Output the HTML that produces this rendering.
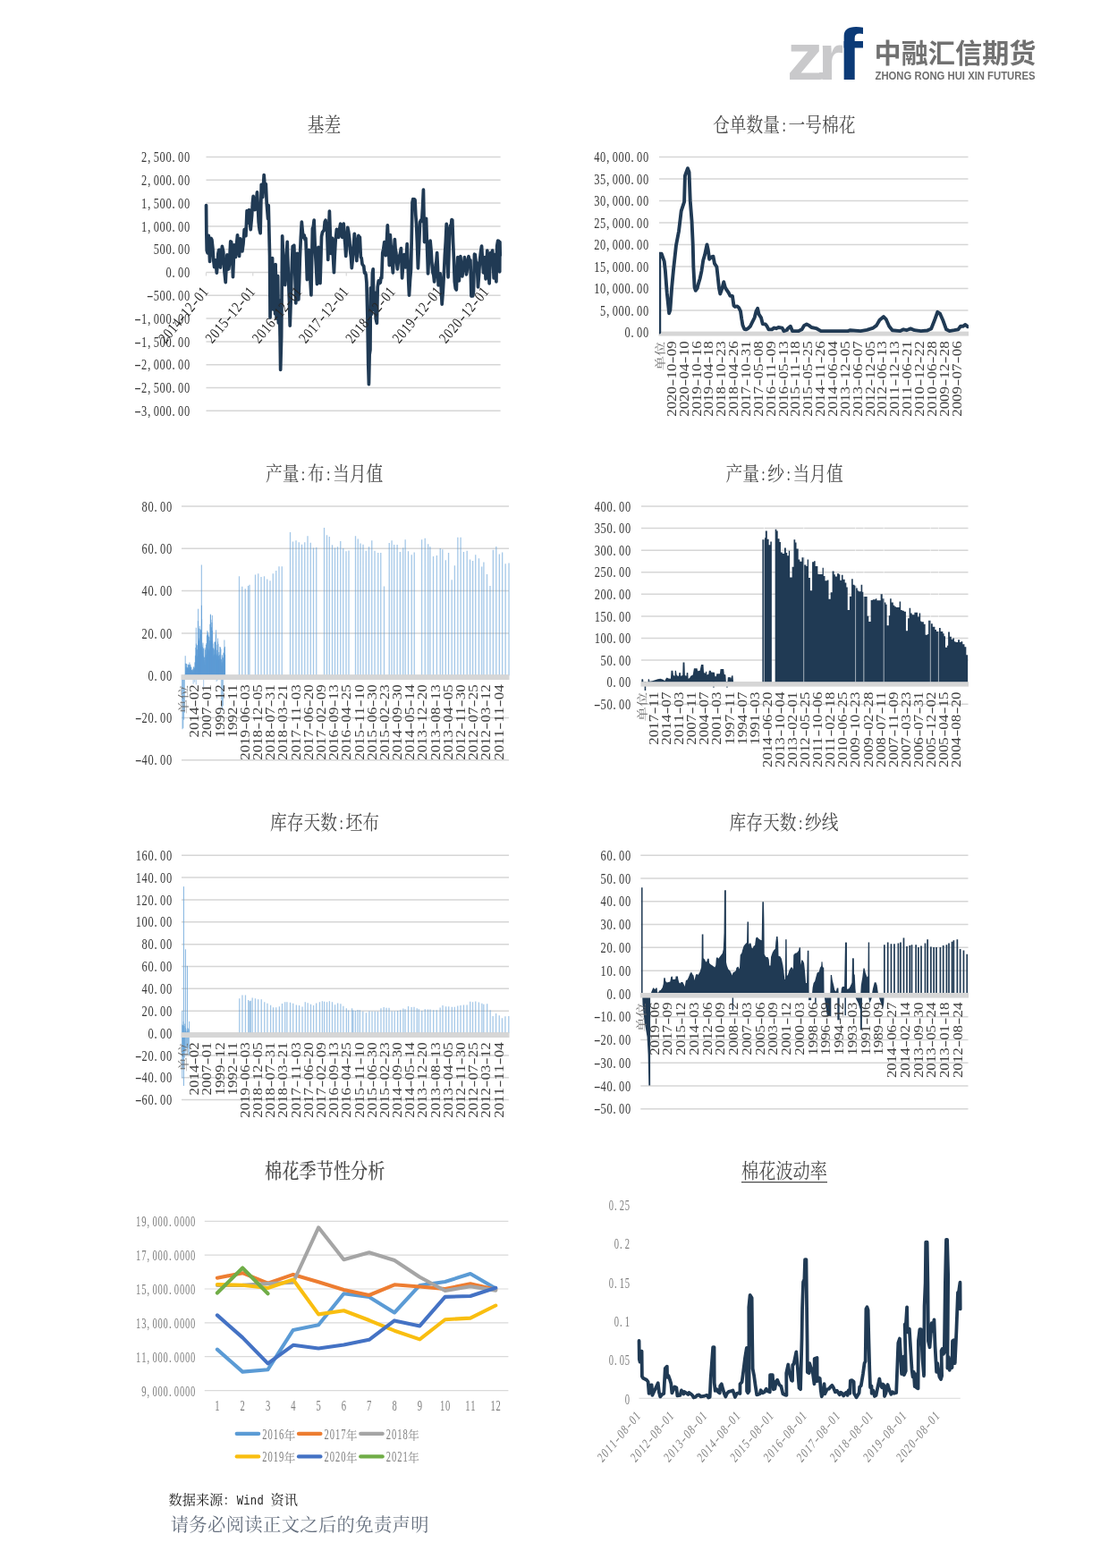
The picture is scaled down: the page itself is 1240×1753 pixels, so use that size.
<!DOCTYPE html>
<html lang="zh-CN">
<head>
<meta charset="utf-8">
<title>中融汇信期货</title>
<style>
html,body{margin:0;padding:0;background:#fff;}
body{width:1240px;height:1753px;overflow:hidden;}
svg{display:block;}
text{white-space:pre;}
.m{text-anchor:middle;font-family:"Liberation Serif","Noto Serif CJK SC",serif;}
</style>
</head>
<body>
<svg width="1240" height="1753" viewBox="0 0 1240 1753">
<rect width="1240" height="1753" fill="#ffffff"/>
<g id="logo">
<clipPath id="cpf"><rect x="943.4" y="20" width="40" height="80"/></clipPath>
<text transform="translate(879.8 88.7) scale(1.11 1)" font-family='"Liberation Sans",sans-serif' font-weight="bold" font-size="73.8" fill="#c9c9cb">z</text>
<rect x="916" y="80.9" width="6" height="7.8" fill="#c9c9cb"/>
<text transform="translate(915.1 88.7)" font-family='"Liberation Sans",sans-serif' font-weight="bold" font-size="72.4" fill="#c9c9cb">r</text>
<g clip-path="url(#cpf)"><text transform="translate(935 88.7) scale(1.11 1)" font-family='"Liberation Sans",sans-serif' font-weight="bold" font-size="80.7" fill="#0b3a77">f</text></g>
<text x="977.5" y="69.6" font-family='"Liberation Sans","Noto Sans CJK SC",sans-serif' font-weight="bold" font-size="30" fill="#717171" textLength="181" lengthAdjust="spacingAndGlyphs">中融汇信期货</text>
<text x="978.5" y="88.6" font-family='"Liberation Sans",sans-serif' font-weight="bold" font-size="12.6" fill="#6f6f6f" textLength="179" lengthAdjust="spacingAndGlyphs">ZHONG RONG HUI XIN FUTURES</text>
</g>
<g id="c1">
<text transform="translate(362.5 139) scale(1 1.17) translate(0 6.75)" x="-9.38 9.38" class="m" font-size="18.75" fill="#4a4a4a">基差</text>
<line x1="230.5" y1="175.5" x2="559.6" y2="175.5" stroke="#d6d6d6" stroke-width="1.5"/>
<line x1="230.5" y1="201.3" x2="559.6" y2="201.3" stroke="#d6d6d6" stroke-width="1.5"/>
<line x1="230.5" y1="227.1" x2="559.6" y2="227.1" stroke="#d6d6d6" stroke-width="1.5"/>
<line x1="230.5" y1="252.9" x2="559.6" y2="252.9" stroke="#d6d6d6" stroke-width="1.5"/>
<line x1="230.5" y1="278.7" x2="559.6" y2="278.7" stroke="#d6d6d6" stroke-width="1.5"/>
<line x1="230.5" y1="304.5" x2="559.6" y2="304.5" stroke="#d6d6d6" stroke-width="1.5"/>
<line x1="230.5" y1="330.3" x2="559.6" y2="330.3" stroke="#d6d6d6" stroke-width="1.5"/>
<line x1="230.5" y1="356.1" x2="559.6" y2="356.1" stroke="#d6d6d6" stroke-width="1.5"/>
<line x1="230.5" y1="381.9" x2="559.6" y2="381.9" stroke="#d6d6d6" stroke-width="1.5"/>
<line x1="230.5" y1="407.7" x2="559.6" y2="407.7" stroke="#d6d6d6" stroke-width="1.5"/>
<line x1="230.5" y1="433.5" x2="559.6" y2="433.5" stroke="#d6d6d6" stroke-width="1.5"/>
<line x1="230.5" y1="459.3" x2="559.6" y2="459.3" stroke="#d6d6d6" stroke-width="1.5"/>
<text transform="translate(212.5 181.1) scale(0.72 1)" x="-71.35 -63.55 -52.33 -42.81 -33.3 -25.5 -14.27 -4.76" class="m" font-size="17.3" fill="#383838">2,500.00</text>
<text transform="translate(212.5 206.9) scale(0.72 1)" x="-71.35 -63.55 -52.33 -42.81 -33.3 -25.5 -14.27 -4.76" class="m" font-size="17.3" fill="#383838">2,000.00</text>
<text transform="translate(212.5 232.7) scale(0.72 1)" x="-71.35 -63.55 -52.33 -42.81 -33.3 -25.5 -14.27 -4.76" class="m" font-size="17.3" fill="#383838">1,500.00</text>
<text transform="translate(212.5 258.5) scale(0.72 1)" x="-71.35 -63.55 -52.33 -42.81 -33.3 -25.5 -14.27 -4.76" class="m" font-size="17.3" fill="#383838">1,000.00</text>
<text transform="translate(212.5 284.3) scale(0.72 1)" x="-52.33 -42.81 -33.3 -25.5 -14.27 -4.76" class="m" font-size="17.3" fill="#383838">500.00</text>
<text transform="translate(212.5 310.1) scale(0.72 1)" x="-33.3 -25.5 -14.27 -4.76" class="m" font-size="17.3" fill="#383838">0.00</text>
<text transform="translate(212.5 335.9) scale(1.3 1)" x="-34.36" class="m" font-size="17.3" fill="#383838">-</text><text transform="translate(212.5 335.9) scale(0.72 1)" x="-52.33 -42.81 -33.3 -25.5 -14.27 -4.76" class="m" font-size="17.3" fill="#383838">500.00</text>
<text transform="translate(212.5 361.7) scale(1.3 1)" x="-44.93" class="m" font-size="17.3" fill="#383838">-</text><text transform="translate(212.5 361.7) scale(0.72 1)" x="-71.35 -63.55 -52.33 -42.81 -33.3 -25.5 -14.27 -4.76" class="m" font-size="17.3" fill="#383838">1,000.00</text>
<text transform="translate(212.5 387.5) scale(1.3 1)" x="-44.93" class="m" font-size="17.3" fill="#383838">-</text><text transform="translate(212.5 387.5) scale(0.72 1)" x="-71.35 -63.55 -52.33 -42.81 -33.3 -25.5 -14.27 -4.76" class="m" font-size="17.3" fill="#383838">1,500.00</text>
<text transform="translate(212.5 413.3) scale(1.3 1)" x="-44.93" class="m" font-size="17.3" fill="#383838">-</text><text transform="translate(212.5 413.3) scale(0.72 1)" x="-71.35 -63.55 -52.33 -42.81 -33.3 -25.5 -14.27 -4.76" class="m" font-size="17.3" fill="#383838">2,000.00</text>
<text transform="translate(212.5 439.1) scale(1.3 1)" x="-44.93" class="m" font-size="17.3" fill="#383838">-</text><text transform="translate(212.5 439.1) scale(0.72 1)" x="-71.35 -63.55 -52.33 -42.81 -33.3 -25.5 -14.27 -4.76" class="m" font-size="17.3" fill="#383838">2,500.00</text>
<text transform="translate(212.5 464.9) scale(1.3 1)" x="-44.93" class="m" font-size="17.3" fill="#383838">-</text><text transform="translate(212.5 464.9) scale(0.72 1)" x="-71.35 -63.55 -52.33 -42.81 -33.3 -25.5 -14.27 -4.76" class="m" font-size="17.3" fill="#383838">3,000.00</text>
<line x1="230.5" y1="304.5" x2="230.5" y2="308.5" stroke="#d9d9d9" stroke-width="1.2"/>
<line x1="282.75" y1="304.5" x2="282.75" y2="308.5" stroke="#d9d9d9" stroke-width="1.2"/>
<line x1="335" y1="304.5" x2="335" y2="308.5" stroke="#d9d9d9" stroke-width="1.2"/>
<line x1="387.25" y1="304.5" x2="387.25" y2="308.5" stroke="#d9d9d9" stroke-width="1.2"/>
<line x1="439.5" y1="304.5" x2="439.5" y2="308.5" stroke="#d9d9d9" stroke-width="1.2"/>
<line x1="491.75" y1="304.5" x2="491.75" y2="308.5" stroke="#d9d9d9" stroke-width="1.2"/>
<line x1="544" y1="304.5" x2="544" y2="308.5" stroke="#d9d9d9" stroke-width="1.2"/>
<polyline points="230.54,229.48 230.85,260.73 231.25,279.88 232.06,282.78 232.86,281.39 233.27,263.25 234.58,292.48 235.38,269.29 236.14,266.44 236.9,268.29 237.9,277.36 238.76,291 239.62,298.53 240.37,292.57 241.13,290.97 242.34,305.08 243.09,296.75 243.85,283.91 244.76,279.24 245.67,279.38 246.47,299.03 247.43,288.82 248.39,275.34 249.7,281.39 251.01,304.07 252.22,315.67 253.07,298.03 253.93,284.92 254.94,301.05 255.7,300.77 256.45,295.5 257.76,269.8 258.62,270.52 259.48,276.85 260.48,309.62 261.9,273.83 262.7,282.1 263.51,287.44 264.52,273.23 265.52,262.74 266.53,276.04 267.54,286.43 268.55,266.77 269.32,268.64 270.09,278.79 270.87,280.89 271.98,272.82 273.19,256.69 274.04,258.86 274.9,263.75 276.11,235.52 277.42,249.13 278.53,234.52 279.39,248.77 280.24,256.69 281.65,240.56 282.41,226.85 283.17,219.4 284.17,229.49 285.18,234.52 285.95,225.5 286.73,222.99 287.5,214.86 288.36,230.44 289.21,248.63 290.17,256.97 291.13,260.73 292.24,206.29 292.99,211.95 293.75,220.4 295.16,195.71 296.27,210.32 297.28,205.79 298.29,228.47 299.6,244.6 300.2,229.48 301.55,285.48 302.06,355.04 302.86,295.56 303.67,340.93 304.58,288.51 305.38,345.97 306.09,343.95 306.9,297.58 307.6,351.01 308.1,295.56 309.11,356.05 310.12,310.69 310.62,308.67 311.33,361.09 312.34,335.89 313.15,376.21 313.65,413.51 314.66,376.21 315.67,263.81 316.42,281.33 317.18,295.56 317.93,305.41 318.69,318.75 319.53,303.96 320.37,284.32 321.21,270.36 321.97,295.17 322.72,315.73 323.48,337.02 324.23,364.11 324.99,342.2 325.75,315.73 326.5,293.06 327.26,275.4 328.01,277.14 328.77,274.4 329.78,304.1 330.79,338.91 331.54,313.35 332.3,283.47 333.05,307.36 333.81,334.88 334.57,315.39 335.32,289.52 336.33,265.66 337.34,248.19 338.35,259.65 339.35,265.32 340.19,263.02 341.03,267.88 341.88,266.33 342.63,287.8 343.39,312.7 344.4,297.9 345.4,279.44 346.24,294.82 347.08,315.79 347.92,329.84 348.68,290.49 349.44,255.24 350.29,253.61 351.15,246.17 352.46,281.45 353.47,297.57 354.48,317.74 355.23,300.2 355.99,276.41 357,293.67 358,316.73 358.76,291.81 359.52,264.31 360.52,259.61 361.53,258.27 362.37,257.26 363.21,248.02 364.05,246.17 364.81,253.87 365.56,255.24 366.77,290.52 367.58,261.26 368.39,236.09 369.24,261.2 370.1,283.47 370.86,272.41 371.61,266.33 372.52,288.26 373.43,304.64 374.28,285.2 375.14,269.35 376.45,256.25 377.56,262.23 378.67,265.32 379.68,255.84 380.69,250.2 381.69,260.89 382.7,265.32 383.46,255.03 384.21,250.2 385.05,263.8 385.89,272.64 386.73,286.49 387.74,271.84 388.75,254.23 389.76,259.39 390.77,267.34 391.61,280.9 392.45,287.22 393.29,299.6 394.04,292.37 394.8,278.3 395.55,272.51 396.31,261.29 397.15,268.69 397.99,282.98 398.83,291.53 399.84,274.9 400.85,263.31 401.6,265.82 402.36,265.32 403.37,287.5 404.21,288.44 405.05,295.24 405.89,296.57 406.73,297.46 407.57,305.09 408.41,304.64 409.16,307.36 409.92,315.73 410.93,356.05 411.73,406.45 412.44,429.64 413.15,396.37 413.95,391.33 414.46,321.77 415.46,345.97 415.67,351.21 416.37,305.85 417.18,300.81 417.98,346.17 419.19,327.02 420.2,356.25 421.41,361.29 422.22,320.97 423.23,313.91 424.23,316.78 425.24,315.93 426,310.43 426.75,310.89 427.76,282.66 428.77,278.3 429.78,270.56 430.53,276.09 431.29,285.69 432.3,271.72 433.31,251.92 434.31,271.83 435.32,296.77 436.33,262.5 437.09,274.56 437.84,280.49 438.6,295.94 439.35,304.84 440.36,284.41 441.37,267.54 442.13,278.62 442.88,282.26 443.64,294.34 444.4,300.81 445.4,292.33 446.41,286.69 447.42,283.61 448.43,277.62 449.64,310.89 450.41,299.75 451.18,295.16 451.96,284.68 452.71,289.3 453.47,298.79 454.32,287.68 455.18,272.58 455.95,289.58 456.73,314.01 457.5,330.04 458.51,313.21 459.52,300.81 460.27,265.89 461.03,226.21 461.78,222.64 462.54,226.58 463.3,222.74 464.05,223.69 464.81,240.07 465.56,250.4 466.47,272.25 467.38,299.8 468.49,275.85 469.6,248.39 470.6,246.24 471.61,247.38 472.52,232.44 473.43,212.1 474.54,270.56 475.54,254.37 476.55,244.35 477.56,276.76 478.57,305.85 479.41,290.48 480.25,284.29 481.09,269.05 482.1,280.47 483.1,296.77 483.94,304.91 484.78,307.39 485.62,314.92 486.38,308.21 487.14,295.66 487.89,292.46 488.65,282.66 489.41,298.17 490.16,318.95 491.17,314.17 492.18,305.85 493.19,320.12 494.19,340.12 495.3,325.41 496.41,305.85 497.35,285.52 498.29,270.5 499.23,250.4 500.14,277.48 501.05,309.88 501.91,284.58 502.76,256.45 503.52,252.09 504.27,253.51 505.03,245.6 505.79,245.87 506.63,271.34 507.47,290.08 508.31,314.92 509.31,322.5 510.32,323.99 511.08,304.18 511.83,287.7 512.59,302.12 513.35,313.91 514.1,298.51 514.86,286.69 515.87,299.92 516.88,308.87 517.72,300.42 518.56,296.38 519.4,287.7 520.4,295.29 521.41,306.85 522.25,302.51 523.09,291.88 523.93,286.69 524.94,290.68 525.95,290.73 526.96,331.05 527.8,326.38 528.64,330.85 529.48,326.01 530.48,284.17 531.32,284.82 532.16,293.16 533,293.75 533.76,304.96 534.52,320.97 535.52,307.4 536.53,290.73 537.54,281.57 538.55,275.1 539.56,291.28 540.56,304.84 541.32,293.24 542.08,287.7 543.08,311.9 543.94,298.64 544.8,280.14 545.57,289.28 546.34,305.99 547.12,316.94 547.87,297.3 548.63,282.66 549.64,283.61 550.65,280.14 551.4,292.83 552.16,310.89 553.17,284.68 554.02,301.69 554.88,314.92 555.69,275.1 556.69,269.13 557.7,269.56 558.71,303.83 558.91,270.56 559.21,285.69" fill="none" stroke="#203a54" stroke-width="3.7" stroke-linejoin="round" stroke-linecap="round" />
<text transform="translate(234 326.5) scale(1 1) rotate(-50) translate(0 0) scale(0.8 1)" x="-90.84 -81.28 -71.72 -62.16" class="m" font-size="17" fill="#262626">2014</text><text transform="translate(234 326.5) scale(1 1) rotate(-50) translate(0 0) scale(1.16 1)" x="-36.27" class="m" font-size="17" fill="#262626">-</text><text transform="translate(234 326.5) scale(1 1) rotate(-50) translate(0 0) scale(0.8 1)" x="-43.03 -33.47" class="m" font-size="17" fill="#262626">12</text><text transform="translate(234 326.5) scale(1 1) rotate(-50) translate(0 0) scale(1.16 1)" x="-16.49" class="m" font-size="17" fill="#262626">-</text><text transform="translate(234 326.5) scale(1 1) rotate(-50) translate(0 0) scale(0.8 1)" x="-14.34 -4.78" class="m" font-size="17" fill="#262626">01</text>
<text transform="translate(286.25 326.5) scale(1 1) rotate(-50) translate(0 0) scale(0.8 1)" x="-90.84 -81.28 -71.72 -62.16" class="m" font-size="17" fill="#262626">2015</text><text transform="translate(286.25 326.5) scale(1 1) rotate(-50) translate(0 0) scale(1.16 1)" x="-36.27" class="m" font-size="17" fill="#262626">-</text><text transform="translate(286.25 326.5) scale(1 1) rotate(-50) translate(0 0) scale(0.8 1)" x="-43.03 -33.47" class="m" font-size="17" fill="#262626">12</text><text transform="translate(286.25 326.5) scale(1 1) rotate(-50) translate(0 0) scale(1.16 1)" x="-16.49" class="m" font-size="17" fill="#262626">-</text><text transform="translate(286.25 326.5) scale(1 1) rotate(-50) translate(0 0) scale(0.8 1)" x="-14.34 -4.78" class="m" font-size="17" fill="#262626">01</text>
<text transform="translate(338.5 326.5) scale(1 1) rotate(-50) translate(0 0) scale(0.8 1)" x="-90.84 -81.28 -71.72 -62.16" class="m" font-size="17" fill="#262626">2016</text><text transform="translate(338.5 326.5) scale(1 1) rotate(-50) translate(0 0) scale(1.16 1)" x="-36.27" class="m" font-size="17" fill="#262626">-</text><text transform="translate(338.5 326.5) scale(1 1) rotate(-50) translate(0 0) scale(0.8 1)" x="-43.03 -33.47" class="m" font-size="17" fill="#262626">12</text><text transform="translate(338.5 326.5) scale(1 1) rotate(-50) translate(0 0) scale(1.16 1)" x="-16.49" class="m" font-size="17" fill="#262626">-</text><text transform="translate(338.5 326.5) scale(1 1) rotate(-50) translate(0 0) scale(0.8 1)" x="-14.34 -4.78" class="m" font-size="17" fill="#262626">01</text>
<text transform="translate(390.75 326.5) scale(1 1) rotate(-50) translate(0 0) scale(0.8 1)" x="-90.84 -81.28 -71.72 -62.16" class="m" font-size="17" fill="#262626">2017</text><text transform="translate(390.75 326.5) scale(1 1) rotate(-50) translate(0 0) scale(1.16 1)" x="-36.27" class="m" font-size="17" fill="#262626">-</text><text transform="translate(390.75 326.5) scale(1 1) rotate(-50) translate(0 0) scale(0.8 1)" x="-43.03 -33.47" class="m" font-size="17" fill="#262626">12</text><text transform="translate(390.75 326.5) scale(1 1) rotate(-50) translate(0 0) scale(1.16 1)" x="-16.49" class="m" font-size="17" fill="#262626">-</text><text transform="translate(390.75 326.5) scale(1 1) rotate(-50) translate(0 0) scale(0.8 1)" x="-14.34 -4.78" class="m" font-size="17" fill="#262626">01</text>
<text transform="translate(443 326.5) scale(1 1) rotate(-50) translate(0 0) scale(0.8 1)" x="-90.84 -81.28 -71.72 -62.16" class="m" font-size="17" fill="#262626">2018</text><text transform="translate(443 326.5) scale(1 1) rotate(-50) translate(0 0) scale(1.16 1)" x="-36.27" class="m" font-size="17" fill="#262626">-</text><text transform="translate(443 326.5) scale(1 1) rotate(-50) translate(0 0) scale(0.8 1)" x="-43.03 -33.47" class="m" font-size="17" fill="#262626">12</text><text transform="translate(443 326.5) scale(1 1) rotate(-50) translate(0 0) scale(1.16 1)" x="-16.49" class="m" font-size="17" fill="#262626">-</text><text transform="translate(443 326.5) scale(1 1) rotate(-50) translate(0 0) scale(0.8 1)" x="-14.34 -4.78" class="m" font-size="17" fill="#262626">01</text>
<text transform="translate(495.25 326.5) scale(1 1) rotate(-50) translate(0 0) scale(0.8 1)" x="-90.84 -81.28 -71.72 -62.16" class="m" font-size="17" fill="#262626">2019</text><text transform="translate(495.25 326.5) scale(1 1) rotate(-50) translate(0 0) scale(1.16 1)" x="-36.27" class="m" font-size="17" fill="#262626">-</text><text transform="translate(495.25 326.5) scale(1 1) rotate(-50) translate(0 0) scale(0.8 1)" x="-43.03 -33.47" class="m" font-size="17" fill="#262626">12</text><text transform="translate(495.25 326.5) scale(1 1) rotate(-50) translate(0 0) scale(1.16 1)" x="-16.49" class="m" font-size="17" fill="#262626">-</text><text transform="translate(495.25 326.5) scale(1 1) rotate(-50) translate(0 0) scale(0.8 1)" x="-14.34 -4.78" class="m" font-size="17" fill="#262626">01</text>
<text transform="translate(547.5 326.5) scale(1 1) rotate(-50) translate(0 0) scale(0.8 1)" x="-90.84 -81.28 -71.72 -62.16" class="m" font-size="17" fill="#262626">2020</text><text transform="translate(547.5 326.5) scale(1 1) rotate(-50) translate(0 0) scale(1.16 1)" x="-36.27" class="m" font-size="17" fill="#262626">-</text><text transform="translate(547.5 326.5) scale(1 1) rotate(-50) translate(0 0) scale(0.8 1)" x="-43.03 -33.47" class="m" font-size="17" fill="#262626">12</text><text transform="translate(547.5 326.5) scale(1 1) rotate(-50) translate(0 0) scale(1.16 1)" x="-16.49" class="m" font-size="17" fill="#262626">-</text><text transform="translate(547.5 326.5) scale(1 1) rotate(-50) translate(0 0) scale(0.8 1)" x="-14.34 -4.78" class="m" font-size="17" fill="#262626">01</text>
</g>
<g id="c2">
<text transform="translate(876.75 139) scale(1 1.17) translate(0 6.75)" x="-70.31 -51.56 -32.81 -14.06" class="m" font-size="18.75" fill="#4a4a4a">仓单数量</text><text transform="translate(876.75 139) scale(1 1.17) translate(0 6.75) scale(0.85 1)" x="0" class="m" font-size="18.75" fill="#4a4a4a">:</text><text transform="translate(876.75 139) scale(1 1.17) translate(0 6.75)" x="14.06 32.81 51.56 70.31" class="m" font-size="18.75" fill="#4a4a4a">一号棉花</text>
<line x1="737" y1="175.5" x2="1082.5" y2="175.5" stroke="#d6d6d6" stroke-width="1.5"/>
<line x1="737" y1="200" x2="1082.5" y2="200" stroke="#d6d6d6" stroke-width="1.5"/>
<line x1="737" y1="224.5" x2="1082.5" y2="224.5" stroke="#d6d6d6" stroke-width="1.5"/>
<line x1="737" y1="249" x2="1082.5" y2="249" stroke="#d6d6d6" stroke-width="1.5"/>
<line x1="737" y1="273.5" x2="1082.5" y2="273.5" stroke="#d6d6d6" stroke-width="1.5"/>
<line x1="737" y1="298" x2="1082.5" y2="298" stroke="#d6d6d6" stroke-width="1.5"/>
<line x1="737" y1="322.5" x2="1082.5" y2="322.5" stroke="#d6d6d6" stroke-width="1.5"/>
<line x1="737" y1="347" x2="1082.5" y2="347" stroke="#d6d6d6" stroke-width="1.5"/>
<text transform="translate(725.5 181.1) scale(0.72 1)" x="-80.87 -71.35 -63.55 -52.33 -42.81 -33.3 -25.5 -14.27 -4.76" class="m" font-size="17.3" fill="#383838">40,000.00</text>
<text transform="translate(725.5 205.6) scale(0.72 1)" x="-80.87 -71.35 -63.55 -52.33 -42.81 -33.3 -25.5 -14.27 -4.76" class="m" font-size="17.3" fill="#383838">35,000.00</text>
<text transform="translate(725.5 230.1) scale(0.72 1)" x="-80.87 -71.35 -63.55 -52.33 -42.81 -33.3 -25.5 -14.27 -4.76" class="m" font-size="17.3" fill="#383838">30,000.00</text>
<text transform="translate(725.5 254.6) scale(0.72 1)" x="-80.87 -71.35 -63.55 -52.33 -42.81 -33.3 -25.5 -14.27 -4.76" class="m" font-size="17.3" fill="#383838">25,000.00</text>
<text transform="translate(725.5 279.1) scale(0.72 1)" x="-80.87 -71.35 -63.55 -52.33 -42.81 -33.3 -25.5 -14.27 -4.76" class="m" font-size="17.3" fill="#383838">20,000.00</text>
<text transform="translate(725.5 303.6) scale(0.72 1)" x="-80.87 -71.35 -63.55 -52.33 -42.81 -33.3 -25.5 -14.27 -4.76" class="m" font-size="17.3" fill="#383838">15,000.00</text>
<text transform="translate(725.5 328.1) scale(0.72 1)" x="-80.87 -71.35 -63.55 -52.33 -42.81 -33.3 -25.5 -14.27 -4.76" class="m" font-size="17.3" fill="#383838">10,000.00</text>
<text transform="translate(725.5 352.6) scale(0.72 1)" x="-71.35 -63.55 -52.33 -42.81 -33.3 -25.5 -14.27 -4.76" class="m" font-size="17.3" fill="#383838">5,000.00</text>
<text transform="translate(725.5 377.1) scale(0.72 1)" x="-33.3 -25.5 -14.27 -4.76" class="m" font-size="17.3" fill="#383838">0.00</text>
<rect x="736.5" y="370.6" width="346.5" height="5" fill="#d6d6d6"/>
<text transform="translate(743.11 381.8) rotate(-90) scale(1.3 1)" font-size="12.4" fill="#6b6b6b" text-anchor="end" font-family='"Liberation Serif","Noto Serif CJK SC",serif'>单位</text>
<text transform="translate(755.79 381.3) rotate(-90) translate(0 0) scale(1.19 1)" x="-67.45 -60.35 -53.25 -46.15" class="m" font-size="14.2" fill="#3d3d3d">2020</text><text transform="translate(755.79 381.3) rotate(-90) translate(0 0) scale(1.72 1)" x="-26.93" class="m" font-size="14.2" fill="#3d3d3d">-</text><text transform="translate(755.79 381.3) rotate(-90) translate(0 0) scale(1.19 1)" x="-31.95 -24.85" class="m" font-size="14.2" fill="#3d3d3d">10</text><text transform="translate(755.79 381.3) rotate(-90) translate(0 0) scale(1.72 1)" x="-12.24" class="m" font-size="14.2" fill="#3d3d3d">-</text><text transform="translate(755.79 381.3) rotate(-90) translate(0 0) scale(1.19 1)" x="-10.65 -3.55" class="m" font-size="14.2" fill="#3d3d3d">09</text>
<text transform="translate(769.65 381.3) rotate(-90) translate(0 0) scale(1.19 1)" x="-67.45 -60.35 -53.25 -46.15" class="m" font-size="14.2" fill="#3d3d3d">2020</text><text transform="translate(769.65 381.3) rotate(-90) translate(0 0) scale(1.72 1)" x="-26.93" class="m" font-size="14.2" fill="#3d3d3d">-</text><text transform="translate(769.65 381.3) rotate(-90) translate(0 0) scale(1.19 1)" x="-31.95 -24.85" class="m" font-size="14.2" fill="#3d3d3d">04</text><text transform="translate(769.65 381.3) rotate(-90) translate(0 0) scale(1.72 1)" x="-12.24" class="m" font-size="14.2" fill="#3d3d3d">-</text><text transform="translate(769.65 381.3) rotate(-90) translate(0 0) scale(1.19 1)" x="-10.65 -3.55" class="m" font-size="14.2" fill="#3d3d3d">10</text>
<text transform="translate(783.52 381.3) rotate(-90) translate(0 0) scale(1.19 1)" x="-67.45 -60.35 -53.25 -46.15" class="m" font-size="14.2" fill="#3d3d3d">2019</text><text transform="translate(783.52 381.3) rotate(-90) translate(0 0) scale(1.72 1)" x="-26.93" class="m" font-size="14.2" fill="#3d3d3d">-</text><text transform="translate(783.52 381.3) rotate(-90) translate(0 0) scale(1.19 1)" x="-31.95 -24.85" class="m" font-size="14.2" fill="#3d3d3d">10</text><text transform="translate(783.52 381.3) rotate(-90) translate(0 0) scale(1.72 1)" x="-12.24" class="m" font-size="14.2" fill="#3d3d3d">-</text><text transform="translate(783.52 381.3) rotate(-90) translate(0 0) scale(1.19 1)" x="-10.65 -3.55" class="m" font-size="14.2" fill="#3d3d3d">16</text>
<text transform="translate(797.38 381.3) rotate(-90) translate(0 0) scale(1.19 1)" x="-67.45 -60.35 -53.25 -46.15" class="m" font-size="14.2" fill="#3d3d3d">2019</text><text transform="translate(797.38 381.3) rotate(-90) translate(0 0) scale(1.72 1)" x="-26.93" class="m" font-size="14.2" fill="#3d3d3d">-</text><text transform="translate(797.38 381.3) rotate(-90) translate(0 0) scale(1.19 1)" x="-31.95 -24.85" class="m" font-size="14.2" fill="#3d3d3d">04</text><text transform="translate(797.38 381.3) rotate(-90) translate(0 0) scale(1.72 1)" x="-12.24" class="m" font-size="14.2" fill="#3d3d3d">-</text><text transform="translate(797.38 381.3) rotate(-90) translate(0 0) scale(1.19 1)" x="-10.65 -3.55" class="m" font-size="14.2" fill="#3d3d3d">18</text>
<text transform="translate(811.25 381.3) rotate(-90) translate(0 0) scale(1.19 1)" x="-67.45 -60.35 -53.25 -46.15" class="m" font-size="14.2" fill="#3d3d3d">2018</text><text transform="translate(811.25 381.3) rotate(-90) translate(0 0) scale(1.72 1)" x="-26.93" class="m" font-size="14.2" fill="#3d3d3d">-</text><text transform="translate(811.25 381.3) rotate(-90) translate(0 0) scale(1.19 1)" x="-31.95 -24.85" class="m" font-size="14.2" fill="#3d3d3d">10</text><text transform="translate(811.25 381.3) rotate(-90) translate(0 0) scale(1.72 1)" x="-12.24" class="m" font-size="14.2" fill="#3d3d3d">-</text><text transform="translate(811.25 381.3) rotate(-90) translate(0 0) scale(1.19 1)" x="-10.65 -3.55" class="m" font-size="14.2" fill="#3d3d3d">23</text>
<text transform="translate(825.11 381.3) rotate(-90) translate(0 0) scale(1.19 1)" x="-67.45 -60.35 -53.25 -46.15" class="m" font-size="14.2" fill="#3d3d3d">2018</text><text transform="translate(825.11 381.3) rotate(-90) translate(0 0) scale(1.72 1)" x="-26.93" class="m" font-size="14.2" fill="#3d3d3d">-</text><text transform="translate(825.11 381.3) rotate(-90) translate(0 0) scale(1.19 1)" x="-31.95 -24.85" class="m" font-size="14.2" fill="#3d3d3d">04</text><text transform="translate(825.11 381.3) rotate(-90) translate(0 0) scale(1.72 1)" x="-12.24" class="m" font-size="14.2" fill="#3d3d3d">-</text><text transform="translate(825.11 381.3) rotate(-90) translate(0 0) scale(1.19 1)" x="-10.65 -3.55" class="m" font-size="14.2" fill="#3d3d3d">26</text>
<text transform="translate(838.98 381.3) rotate(-90) translate(0 0) scale(1.19 1)" x="-67.45 -60.35 -53.25 -46.15" class="m" font-size="14.2" fill="#3d3d3d">2017</text><text transform="translate(838.98 381.3) rotate(-90) translate(0 0) scale(1.72 1)" x="-26.93" class="m" font-size="14.2" fill="#3d3d3d">-</text><text transform="translate(838.98 381.3) rotate(-90) translate(0 0) scale(1.19 1)" x="-31.95 -24.85" class="m" font-size="14.2" fill="#3d3d3d">10</text><text transform="translate(838.98 381.3) rotate(-90) translate(0 0) scale(1.72 1)" x="-12.24" class="m" font-size="14.2" fill="#3d3d3d">-</text><text transform="translate(838.98 381.3) rotate(-90) translate(0 0) scale(1.19 1)" x="-10.65 -3.55" class="m" font-size="14.2" fill="#3d3d3d">31</text>
<text transform="translate(852.84 381.3) rotate(-90) translate(0 0) scale(1.19 1)" x="-67.45 -60.35 -53.25 -46.15" class="m" font-size="14.2" fill="#3d3d3d">2017</text><text transform="translate(852.84 381.3) rotate(-90) translate(0 0) scale(1.72 1)" x="-26.93" class="m" font-size="14.2" fill="#3d3d3d">-</text><text transform="translate(852.84 381.3) rotate(-90) translate(0 0) scale(1.19 1)" x="-31.95 -24.85" class="m" font-size="14.2" fill="#3d3d3d">05</text><text transform="translate(852.84 381.3) rotate(-90) translate(0 0) scale(1.72 1)" x="-12.24" class="m" font-size="14.2" fill="#3d3d3d">-</text><text transform="translate(852.84 381.3) rotate(-90) translate(0 0) scale(1.19 1)" x="-10.65 -3.55" class="m" font-size="14.2" fill="#3d3d3d">08</text>
<text transform="translate(866.71 381.3) rotate(-90) translate(0 0) scale(1.19 1)" x="-67.45 -60.35 -53.25 -46.15" class="m" font-size="14.2" fill="#3d3d3d">2016</text><text transform="translate(866.71 381.3) rotate(-90) translate(0 0) scale(1.72 1)" x="-26.93" class="m" font-size="14.2" fill="#3d3d3d">-</text><text transform="translate(866.71 381.3) rotate(-90) translate(0 0) scale(1.19 1)" x="-31.95 -24.85" class="m" font-size="14.2" fill="#3d3d3d">11</text><text transform="translate(866.71 381.3) rotate(-90) translate(0 0) scale(1.72 1)" x="-12.24" class="m" font-size="14.2" fill="#3d3d3d">-</text><text transform="translate(866.71 381.3) rotate(-90) translate(0 0) scale(1.19 1)" x="-10.65 -3.55" class="m" font-size="14.2" fill="#3d3d3d">09</text>
<text transform="translate(880.57 381.3) rotate(-90) translate(0 0) scale(1.19 1)" x="-67.45 -60.35 -53.25 -46.15" class="m" font-size="14.2" fill="#3d3d3d">2016</text><text transform="translate(880.57 381.3) rotate(-90) translate(0 0) scale(1.72 1)" x="-26.93" class="m" font-size="14.2" fill="#3d3d3d">-</text><text transform="translate(880.57 381.3) rotate(-90) translate(0 0) scale(1.19 1)" x="-31.95 -24.85" class="m" font-size="14.2" fill="#3d3d3d">05</text><text transform="translate(880.57 381.3) rotate(-90) translate(0 0) scale(1.72 1)" x="-12.24" class="m" font-size="14.2" fill="#3d3d3d">-</text><text transform="translate(880.57 381.3) rotate(-90) translate(0 0) scale(1.19 1)" x="-10.65 -3.55" class="m" font-size="14.2" fill="#3d3d3d">13</text>
<text transform="translate(894.44 381.3) rotate(-90) translate(0 0) scale(1.19 1)" x="-67.45 -60.35 -53.25 -46.15" class="m" font-size="14.2" fill="#3d3d3d">2015</text><text transform="translate(894.44 381.3) rotate(-90) translate(0 0) scale(1.72 1)" x="-26.93" class="m" font-size="14.2" fill="#3d3d3d">-</text><text transform="translate(894.44 381.3) rotate(-90) translate(0 0) scale(1.19 1)" x="-31.95 -24.85" class="m" font-size="14.2" fill="#3d3d3d">11</text><text transform="translate(894.44 381.3) rotate(-90) translate(0 0) scale(1.72 1)" x="-12.24" class="m" font-size="14.2" fill="#3d3d3d">-</text><text transform="translate(894.44 381.3) rotate(-90) translate(0 0) scale(1.19 1)" x="-10.65 -3.55" class="m" font-size="14.2" fill="#3d3d3d">18</text>
<text transform="translate(908.3 381.3) rotate(-90) translate(0 0) scale(1.19 1)" x="-67.45 -60.35 -53.25 -46.15" class="m" font-size="14.2" fill="#3d3d3d">2015</text><text transform="translate(908.3 381.3) rotate(-90) translate(0 0) scale(1.72 1)" x="-26.93" class="m" font-size="14.2" fill="#3d3d3d">-</text><text transform="translate(908.3 381.3) rotate(-90) translate(0 0) scale(1.19 1)" x="-31.95 -24.85" class="m" font-size="14.2" fill="#3d3d3d">05</text><text transform="translate(908.3 381.3) rotate(-90) translate(0 0) scale(1.72 1)" x="-12.24" class="m" font-size="14.2" fill="#3d3d3d">-</text><text transform="translate(908.3 381.3) rotate(-90) translate(0 0) scale(1.19 1)" x="-10.65 -3.55" class="m" font-size="14.2" fill="#3d3d3d">25</text>
<text transform="translate(922.17 381.3) rotate(-90) translate(0 0) scale(1.19 1)" x="-67.45 -60.35 -53.25 -46.15" class="m" font-size="14.2" fill="#3d3d3d">2014</text><text transform="translate(922.17 381.3) rotate(-90) translate(0 0) scale(1.72 1)" x="-26.93" class="m" font-size="14.2" fill="#3d3d3d">-</text><text transform="translate(922.17 381.3) rotate(-90) translate(0 0) scale(1.19 1)" x="-31.95 -24.85" class="m" font-size="14.2" fill="#3d3d3d">11</text><text transform="translate(922.17 381.3) rotate(-90) translate(0 0) scale(1.72 1)" x="-12.24" class="m" font-size="14.2" fill="#3d3d3d">-</text><text transform="translate(922.17 381.3) rotate(-90) translate(0 0) scale(1.19 1)" x="-10.65 -3.55" class="m" font-size="14.2" fill="#3d3d3d">26</text>
<text transform="translate(936.03 381.3) rotate(-90) translate(0 0) scale(1.19 1)" x="-67.45 -60.35 -53.25 -46.15" class="m" font-size="14.2" fill="#3d3d3d">2014</text><text transform="translate(936.03 381.3) rotate(-90) translate(0 0) scale(1.72 1)" x="-26.93" class="m" font-size="14.2" fill="#3d3d3d">-</text><text transform="translate(936.03 381.3) rotate(-90) translate(0 0) scale(1.19 1)" x="-31.95 -24.85" class="m" font-size="14.2" fill="#3d3d3d">06</text><text transform="translate(936.03 381.3) rotate(-90) translate(0 0) scale(1.72 1)" x="-12.24" class="m" font-size="14.2" fill="#3d3d3d">-</text><text transform="translate(936.03 381.3) rotate(-90) translate(0 0) scale(1.19 1)" x="-10.65 -3.55" class="m" font-size="14.2" fill="#3d3d3d">04</text>
<text transform="translate(949.9 381.3) rotate(-90) translate(0 0) scale(1.19 1)" x="-67.45 -60.35 -53.25 -46.15" class="m" font-size="14.2" fill="#3d3d3d">2013</text><text transform="translate(949.9 381.3) rotate(-90) translate(0 0) scale(1.72 1)" x="-26.93" class="m" font-size="14.2" fill="#3d3d3d">-</text><text transform="translate(949.9 381.3) rotate(-90) translate(0 0) scale(1.19 1)" x="-31.95 -24.85" class="m" font-size="14.2" fill="#3d3d3d">12</text><text transform="translate(949.9 381.3) rotate(-90) translate(0 0) scale(1.72 1)" x="-12.24" class="m" font-size="14.2" fill="#3d3d3d">-</text><text transform="translate(949.9 381.3) rotate(-90) translate(0 0) scale(1.19 1)" x="-10.65 -3.55" class="m" font-size="14.2" fill="#3d3d3d">05</text>
<text transform="translate(963.76 381.3) rotate(-90) translate(0 0) scale(1.19 1)" x="-67.45 -60.35 -53.25 -46.15" class="m" font-size="14.2" fill="#3d3d3d">2013</text><text transform="translate(963.76 381.3) rotate(-90) translate(0 0) scale(1.72 1)" x="-26.93" class="m" font-size="14.2" fill="#3d3d3d">-</text><text transform="translate(963.76 381.3) rotate(-90) translate(0 0) scale(1.19 1)" x="-31.95 -24.85" class="m" font-size="14.2" fill="#3d3d3d">06</text><text transform="translate(963.76 381.3) rotate(-90) translate(0 0) scale(1.72 1)" x="-12.24" class="m" font-size="14.2" fill="#3d3d3d">-</text><text transform="translate(963.76 381.3) rotate(-90) translate(0 0) scale(1.19 1)" x="-10.65 -3.55" class="m" font-size="14.2" fill="#3d3d3d">07</text>
<text transform="translate(977.63 381.3) rotate(-90) translate(0 0) scale(1.19 1)" x="-67.45 -60.35 -53.25 -46.15" class="m" font-size="14.2" fill="#3d3d3d">2012</text><text transform="translate(977.63 381.3) rotate(-90) translate(0 0) scale(1.72 1)" x="-26.93" class="m" font-size="14.2" fill="#3d3d3d">-</text><text transform="translate(977.63 381.3) rotate(-90) translate(0 0) scale(1.19 1)" x="-31.95 -24.85" class="m" font-size="14.2" fill="#3d3d3d">12</text><text transform="translate(977.63 381.3) rotate(-90) translate(0 0) scale(1.72 1)" x="-12.24" class="m" font-size="14.2" fill="#3d3d3d">-</text><text transform="translate(977.63 381.3) rotate(-90) translate(0 0) scale(1.19 1)" x="-10.65 -3.55" class="m" font-size="14.2" fill="#3d3d3d">05</text>
<text transform="translate(991.49 381.3) rotate(-90) translate(0 0) scale(1.19 1)" x="-67.45 -60.35 -53.25 -46.15" class="m" font-size="14.2" fill="#3d3d3d">2012</text><text transform="translate(991.49 381.3) rotate(-90) translate(0 0) scale(1.72 1)" x="-26.93" class="m" font-size="14.2" fill="#3d3d3d">-</text><text transform="translate(991.49 381.3) rotate(-90) translate(0 0) scale(1.19 1)" x="-31.95 -24.85" class="m" font-size="14.2" fill="#3d3d3d">06</text><text transform="translate(991.49 381.3) rotate(-90) translate(0 0) scale(1.72 1)" x="-12.24" class="m" font-size="14.2" fill="#3d3d3d">-</text><text transform="translate(991.49 381.3) rotate(-90) translate(0 0) scale(1.19 1)" x="-10.65 -3.55" class="m" font-size="14.2" fill="#3d3d3d">13</text>
<text transform="translate(1005.36 381.3) rotate(-90) translate(0 0) scale(1.19 1)" x="-67.45 -60.35 -53.25 -46.15" class="m" font-size="14.2" fill="#3d3d3d">2011</text><text transform="translate(1005.36 381.3) rotate(-90) translate(0 0) scale(1.72 1)" x="-26.93" class="m" font-size="14.2" fill="#3d3d3d">-</text><text transform="translate(1005.36 381.3) rotate(-90) translate(0 0) scale(1.19 1)" x="-31.95 -24.85" class="m" font-size="14.2" fill="#3d3d3d">12</text><text transform="translate(1005.36 381.3) rotate(-90) translate(0 0) scale(1.72 1)" x="-12.24" class="m" font-size="14.2" fill="#3d3d3d">-</text><text transform="translate(1005.36 381.3) rotate(-90) translate(0 0) scale(1.19 1)" x="-10.65 -3.55" class="m" font-size="14.2" fill="#3d3d3d">13</text>
<text transform="translate(1019.22 381.3) rotate(-90) translate(0 0) scale(1.19 1)" x="-67.45 -60.35 -53.25 -46.15" class="m" font-size="14.2" fill="#3d3d3d">2011</text><text transform="translate(1019.22 381.3) rotate(-90) translate(0 0) scale(1.72 1)" x="-26.93" class="m" font-size="14.2" fill="#3d3d3d">-</text><text transform="translate(1019.22 381.3) rotate(-90) translate(0 0) scale(1.19 1)" x="-31.95 -24.85" class="m" font-size="14.2" fill="#3d3d3d">06</text><text transform="translate(1019.22 381.3) rotate(-90) translate(0 0) scale(1.72 1)" x="-12.24" class="m" font-size="14.2" fill="#3d3d3d">-</text><text transform="translate(1019.22 381.3) rotate(-90) translate(0 0) scale(1.19 1)" x="-10.65 -3.55" class="m" font-size="14.2" fill="#3d3d3d">21</text>
<text transform="translate(1033.09 381.3) rotate(-90) translate(0 0) scale(1.19 1)" x="-67.45 -60.35 -53.25 -46.15" class="m" font-size="14.2" fill="#3d3d3d">2010</text><text transform="translate(1033.09 381.3) rotate(-90) translate(0 0) scale(1.72 1)" x="-26.93" class="m" font-size="14.2" fill="#3d3d3d">-</text><text transform="translate(1033.09 381.3) rotate(-90) translate(0 0) scale(1.19 1)" x="-31.95 -24.85" class="m" font-size="14.2" fill="#3d3d3d">12</text><text transform="translate(1033.09 381.3) rotate(-90) translate(0 0) scale(1.72 1)" x="-12.24" class="m" font-size="14.2" fill="#3d3d3d">-</text><text transform="translate(1033.09 381.3) rotate(-90) translate(0 0) scale(1.19 1)" x="-10.65 -3.55" class="m" font-size="14.2" fill="#3d3d3d">22</text>
<text transform="translate(1046.95 381.3) rotate(-90) translate(0 0) scale(1.19 1)" x="-67.45 -60.35 -53.25 -46.15" class="m" font-size="14.2" fill="#3d3d3d">2010</text><text transform="translate(1046.95 381.3) rotate(-90) translate(0 0) scale(1.72 1)" x="-26.93" class="m" font-size="14.2" fill="#3d3d3d">-</text><text transform="translate(1046.95 381.3) rotate(-90) translate(0 0) scale(1.19 1)" x="-31.95 -24.85" class="m" font-size="14.2" fill="#3d3d3d">06</text><text transform="translate(1046.95 381.3) rotate(-90) translate(0 0) scale(1.72 1)" x="-12.24" class="m" font-size="14.2" fill="#3d3d3d">-</text><text transform="translate(1046.95 381.3) rotate(-90) translate(0 0) scale(1.19 1)" x="-10.65 -3.55" class="m" font-size="14.2" fill="#3d3d3d">28</text>
<text transform="translate(1060.82 381.3) rotate(-90) translate(0 0) scale(1.19 1)" x="-67.45 -60.35 -53.25 -46.15" class="m" font-size="14.2" fill="#3d3d3d">2009</text><text transform="translate(1060.82 381.3) rotate(-90) translate(0 0) scale(1.72 1)" x="-26.93" class="m" font-size="14.2" fill="#3d3d3d">-</text><text transform="translate(1060.82 381.3) rotate(-90) translate(0 0) scale(1.19 1)" x="-31.95 -24.85" class="m" font-size="14.2" fill="#3d3d3d">12</text><text transform="translate(1060.82 381.3) rotate(-90) translate(0 0) scale(1.72 1)" x="-12.24" class="m" font-size="14.2" fill="#3d3d3d">-</text><text transform="translate(1060.82 381.3) rotate(-90) translate(0 0) scale(1.19 1)" x="-10.65 -3.55" class="m" font-size="14.2" fill="#3d3d3d">28</text>
<text transform="translate(1074.68 381.3) rotate(-90) translate(0 0) scale(1.19 1)" x="-67.45 -60.35 -53.25 -46.15" class="m" font-size="14.2" fill="#3d3d3d">2009</text><text transform="translate(1074.68 381.3) rotate(-90) translate(0 0) scale(1.72 1)" x="-26.93" class="m" font-size="14.2" fill="#3d3d3d">-</text><text transform="translate(1074.68 381.3) rotate(-90) translate(0 0) scale(1.19 1)" x="-31.95 -24.85" class="m" font-size="14.2" fill="#3d3d3d">07</text><text transform="translate(1074.68 381.3) rotate(-90) translate(0 0) scale(1.72 1)" x="-12.24" class="m" font-size="14.2" fill="#3d3d3d">-</text><text transform="translate(1074.68 381.3) rotate(-90) translate(0 0) scale(1.19 1)" x="-10.65 -3.55" class="m" font-size="14.2" fill="#3d3d3d">06</text>
<clipPath id="cp2"><rect x="737" y="160" width="346" height="220"/></clipPath>
<polyline points="737.26,371.53 737.26,283.71 739.68,283.71 742.7,292.18 743.91,303.06 745.73,327.26 748.15,350.24 749.35,346.61 751.17,321.21 752.98,301.85 756.01,274.03 759.03,258.31 761.69,235.93 765.08,225.65 765.93,196.61 766.9,193.59 768.95,188.15 770.52,192.38 771.73,224.44 773.55,247.42 774.76,274.03 775.36,298.23 776.57,321.21 777.78,324.84 779.6,322.42 780.81,317.58 782.62,311.53 784.44,303.06 786.25,290.97 788.06,284.92 790.48,273.43 791.69,278.87 793.15,289.76 795.32,287.34 797.5,286.73 798.95,294.6 801.37,298.23 802.58,309.11 804.03,322.42 805.24,328.47 807.42,322.42 809.23,315.16 810.81,321.21 812.5,324.23 814.68,327.26 816.49,330.89 818.91,330.89 820.48,341.77 821.94,342.98 824.35,342.38 826.17,344.19 827.98,347.82 829.19,356.29 830.4,363.55 832.22,367.78 834.03,368.39 836.45,367.18 838.87,364.76 841.29,359.92 843.71,355.08 845.52,347.82 847.1,344.8 848.55,351.45 850.97,355.08 852.78,362.34 855.81,362.34 857.62,364.76 859.44,368.39 863.06,368.39 865.48,366.57 867.9,367.18 870.32,365.97 874.56,366.57 876.37,370.2 880,368.99 880.65,367.42 883.84,364.76 885.97,370.08 893.06,370.08 896.61,368.31 899.27,363.87 901.94,362.45 904.6,363.87 907.26,366 912.58,367.06 917.9,370.08 948.06,370.08 950.73,369.19 962.26,370.08 969.35,368.84 976.45,366.53 980,363.87 983.55,357.66 987.98,354.11 990.65,356.77 994.19,364.76 997.74,369.19 1006.61,370.08 1010.16,368.31 1013.71,369.19 1018.15,367.42 1022.58,369.19 1029.68,370.08 1036.77,369.55 1041.21,367.42 1044.76,358.55 1048.31,348.79 1050.97,350.56 1054.52,358.55 1058.06,368.31 1061.61,370.08 1066.94,369.19 1071.37,368.31 1074.03,364.76 1076.69,364.76 1079.35,362.98 1082.02,365.29" fill="none" stroke="#203a54" stroke-width="3.9" stroke-linejoin="round" stroke-linecap="round" clip-path="url(#cp2)"/>
</g>
<g id="c3">
<text transform="translate(362.5 529) scale(1 1.17) translate(0 6.75)" x="-56.25 -37.5" class="m" font-size="18.75" fill="#4a4a4a">产量</text><text transform="translate(362.5 529) scale(1 1.17) translate(0 6.75) scale(0.85 1)" x="-27.57" class="m" font-size="18.75" fill="#4a4a4a">:</text><text transform="translate(362.5 529) scale(1 1.17) translate(0 6.75)" x="-9.38" class="m" font-size="18.75" fill="#4a4a4a">布</text><text transform="translate(362.5 529) scale(1 1.17) translate(0 6.75) scale(0.85 1)" x="5.51" class="m" font-size="18.75" fill="#4a4a4a">:</text><text transform="translate(362.5 529) scale(1 1.17) translate(0 6.75)" x="18.75 37.5 56.25" class="m" font-size="18.75" fill="#4a4a4a">当月值</text>
<line x1="203" y1="566" x2="569" y2="566" stroke="#d6d6d6" stroke-width="1.5"/>
<line x1="203" y1="613.3" x2="569" y2="613.3" stroke="#d6d6d6" stroke-width="1.5"/>
<line x1="203" y1="660.6" x2="569" y2="660.6" stroke="#d6d6d6" stroke-width="1.5"/>
<line x1="203" y1="707.9" x2="569" y2="707.9" stroke="#d6d6d6" stroke-width="1.5"/>
<line x1="203" y1="755.2" x2="569" y2="755.2" stroke="#d6d6d6" stroke-width="1.5"/>
<line x1="203" y1="802.5" x2="569" y2="802.5" stroke="#d6d6d6" stroke-width="1.5"/>
<line x1="203" y1="849.8" x2="569" y2="849.8" stroke="#d6d6d6" stroke-width="1.5"/>
<text transform="translate(192.5 571.6) scale(0.72 1)" x="-42.81 -33.3 -25.5 -14.27 -4.76" class="m" font-size="17.3" fill="#383838">80.00</text>
<text transform="translate(192.5 618.9) scale(0.72 1)" x="-42.81 -33.3 -25.5 -14.27 -4.76" class="m" font-size="17.3" fill="#383838">60.00</text>
<text transform="translate(192.5 666.2) scale(0.72 1)" x="-42.81 -33.3 -25.5 -14.27 -4.76" class="m" font-size="17.3" fill="#383838">40.00</text>
<text transform="translate(192.5 713.5) scale(0.72 1)" x="-42.81 -33.3 -25.5 -14.27 -4.76" class="m" font-size="17.3" fill="#383838">20.00</text>
<text transform="translate(192.5 760.8) scale(0.72 1)" x="-33.3 -25.5 -14.27 -4.76" class="m" font-size="17.3" fill="#383838">0.00</text>
<text transform="translate(192.5 808.1) scale(1.3 1)" x="-29.07" class="m" font-size="17.3" fill="#383838">-</text><text transform="translate(192.5 808.1) scale(0.72 1)" x="-42.81 -33.3 -25.5 -14.27 -4.76" class="m" font-size="17.3" fill="#383838">20.00</text>
<text transform="translate(192.5 855.4) scale(1.3 1)" x="-29.07" class="m" font-size="17.3" fill="#383838">-</text><text transform="translate(192.5 855.4) scale(0.72 1)" x="-42.81 -33.3 -25.5 -14.27 -4.76" class="m" font-size="17.3" fill="#383838">40.00</text>
<path d="M206.92 755.2V753.9 M207.42 755.2V741.6 M207.92 755.2V750.47 M208.42 755.2V742.09 M208.92 755.2V742.32 M209.42 755.2V746.05 M209.92 755.2V747.07 M210.42 755.2V742.8 M210.92 755.2V743.52 M211.42 755.2V743.31 M211.92 755.2V740.58 M212.42 755.2V743.16 M212.92 755.2V742.89 M213.42 755.2V745.26 M213.92 755.2V746.09 M214.42 755.2V749 M214.92 755.2V749.69 M215.42 755.2V748.59 M215.92 755.2V747.73 M216.42 755.2V745.7 M216.92 755.2V745.45 M217.42 755.2V746.91 M217.92 755.2V740.44 M218.42 755.2V733.16 M218.92 755.2V723.99 M219.42 755.2V719.51 M219.92 755.2V721.29 M220.42 755.2V726.23 M220.92 755.2V721.25 M221.42 755.2V694.15 M221.92 755.2V702.5 M222.42 755.2V716.08 M222.92 755.2V713.67 M223.42 755.2V703.1 M223.92 755.2V709.13 M224.42 755.2V703.77 M224.92 755.2V705.3 M225.42 755.2V676.79 M225.92 755.2V720.8 M226.42 755.2V723.18 M226.92 755.2V718.6 M227.42 755.2V725.13 M227.92 755.2V724.38 M228.42 755.2V734.99 M228.92 755.2V738.02 M229.42 755.2V726.28 M229.92 755.2V724.15 M230.42 755.2V720.78 M230.92 755.2V719.09 M231.42 755.2V710.56 M231.92 755.2V709.54 M232.42 755.2V706.78 M232.92 755.2V709.39 M233.42 755.2V711.59 M233.92 755.2V712.22 M234.42 755.2V716.09 M234.92 755.2V697.82 M235.42 755.2V687.48 M235.92 755.2V692.8 M236.42 755.2V701.24 M236.92 755.2V695.88 M237.42 755.2V705.05 M237.92 755.2V719.59 M238.42 755.2V724.36 M238.92 755.2V725.05 M239.42 755.2V726.47 M239.92 755.2V717.63 M240.42 755.2V717.57 M240.92 755.2V724.53 M241.42 755.2V709.23 M241.92 755.2V720.86 M242.42 755.2V732.39 M242.92 755.2V726.96 M243.42 755.2V717.34 M243.92 755.2V719.89 M244.42 755.2V733.19 M244.92 755.2V729.02 M245.42 755.2V732.13 M245.92 755.2V722.99 M246.42 755.2V723.73 M246.92 755.2V725.69 M247.42 755.2V737.27 M247.92 755.2V740.47 M248.42 755.2V732.4 M248.92 755.2V734.9 M249.42 755.2V735.43 M249.92 755.2V729.56 M250.42 755.2V730.05 M250.92 755.2V724.47 M251.42 755.2V722.96" stroke="#5b9bd5" stroke-width="0.8" fill="none" opacity="1"/>
<path d="M207.17 755.2V754.21 M207.67 755.2V745.85 M208.17 755.2V751.75 M208.67 755.2V746.35 M209.17 755.2V746.57 M209.67 755.2V747.77 M210.17 755.2V748.46 M210.67 755.2V747.41 M211.17 755.2V746.36 M211.67 755.2V746.12 M212.17 755.2V746.42 M212.67 755.2V746.72 M213.17 755.2V747.46 M213.67 755.2V748.21 M214.17 755.2V749.12 M214.67 755.2V750.32 M215.17 755.2V751.52 M215.67 755.2V751.08 M216.17 755.2V750.03 M216.67 755.2V749.06 M217.17 755.2V748.76 M217.67 755.2V748.46 M218.17 755.2V745.7 M218.67 755.2V740.27 M219.17 755.2V731.92 M219.67 755.2V725.81 M220.17 755.2V734.06 M220.67 755.2V734.8 M221.17 755.2V733.09 M221.67 755.2V717.28 M222.17 755.2V720.83 M222.67 755.2V731.2 M223.17 755.2V725.2 M223.67 755.2V722.09 M224.17 755.2V722.47 M224.67 755.2V723.77 M225.17 755.2V724.21 M225.67 755.2V692.24 M226.17 755.2V727.97 M226.67 755.2V730.6 M227.17 755.2V733.02 M227.67 755.2V733.77 M228.17 755.2V734.55 M228.67 755.2V740.12 M229.17 755.2V743.25 M229.67 755.2V734.25 M230.17 755.2V732.43 M230.67 755.2V731.83 M231.17 755.2V730.68 M231.67 755.2V727.68 M232.17 755.2V725.13 M232.67 755.2V725.56 M233.17 755.2V726.57 M233.67 755.2V728.97 M234.17 755.2V726.8 M234.67 755.2V724.55 M235.17 755.2V719.37 M235.67 755.2V714.16 M236.17 755.2V716.73 M236.67 755.2V718.38 M237.17 755.2V716.51 M237.67 755.2V716.58 M238.17 755.2V732.78 M238.67 755.2V734.19 M239.17 755.2V732.58 M239.67 755.2V731.83 M240.17 755.2V731.7 M240.67 755.2V732.56 M241.17 755.2V730.49 M241.67 755.2V725.99 M242.17 755.2V730.52 M242.67 755.2V737.25 M243.17 755.2V734.08 M243.67 755.2V730.91 M244.17 755.2V733.23 M244.67 755.2V737.17 M245.17 755.2V737.59 M245.67 755.2V736.31 M246.17 755.2V734.22 M246.67 755.2V731.97 M247.17 755.2V736.88 M247.67 755.2V744.38 M248.17 755.2V744.94 M248.67 755.2V741.51 M249.17 755.2V740.1 M249.67 755.2V739.2 M250.17 755.2V737.87 M250.67 755.2V734.5 M251.17 755.2V731.42 M251.67 755.2V732.02" stroke="#5b9bd5" stroke-width="0.6" fill="none" opacity="1"/>
<path d="M207.19 755.2V733.2 M219.26 755.2V701.71 M221.62 755.2V680.71 M225.3 755.2V631.5 M235.4 755.2V686.61 M237.37 755.2V687.93 M241.57 755.2V704.33 M243.54 755.2V713.52 M250.89 755.2V715.49 M223.2 755.2V699.74 M231.86 755.2V704.99" stroke="#5b9bd5" stroke-width="0.8" fill="none" opacity="0.9"/>
<path d="M204.04 755.2V815.22" stroke="#5b9bd5" stroke-width="0.9" fill="none" opacity="0.85"/>
<path d="M204.82 755.2V813.91 M205.61 755.2V804.72 M248.39 755.2V794.23" stroke="#5b9bd5" stroke-width="0.8" fill="none" opacity="0.85"/>
<path d="M206.4 755.2V796.85 M247.34 755.2V782.41 M249.44 755.2V788.98" stroke="#5b9bd5" stroke-width="0.7" fill="none" opacity="0.85"/>
<path d="M203.51 755.2V783.73 M216.11 755.2V764.7 M217.69 755.2V762.73 M219.26 755.2V765.35 M227.66 755.2V767.98 M242.09 755.2V762.07 M243.14 755.2V760.76" stroke="#5b9bd5" stroke-width="0.6" fill="none" opacity="0.85"/>
<path d="M267.5 755.2V644.25 M270.75 755.2V655.75 M274.25 755.2V658.25 M277.5 755.2V655 M279 755.2V653.75 M285.5 755.2V642.5 M288.75 755.2V641.25 M292 755.2V645 M295.5 755.2V644.25 M298.75 755.2V647.5 M302 755.2V649.25 M305.25 755.2V641.25 M308.75 755.2V638 M312 755.2V633.25 M315.25 755.2V633.25 M324.5 755.2V595 M327.5 755.2V605.5 M331 755.2V604.25 M334.25 755.2V606.25 M337.5 755.2V608.75 M340.75 755.2V606.25 M344 755.2V599.25 M347.25 755.2V606.75 M350.5 755.2V612.5 M353.75 755.2V612 M362.5 755.2V590 M365.5 755.2V598.25 M368.25 755.2V600 M371.5 755.2V609.25 M374.5 755.2V612.5 M377.5 755.2V611.25 M380.75 755.2V605 M383.75 755.2V613 M387 755.2V616.25 M390 755.2V615.5 M397.5 755.2V599.25 M400.25 755.2V602.5 M403 755.2V607.5 M406 755.2V608.75 M409.25 755.2V615.75 M412.5 755.2V611.25 M415.75 755.2V604.25 M419 755.2V615.75 M422.75 755.2V618 M425.75 755.2V618 M429.5 755.2V655.5 M435.23 755.2V607.1 M438.06 755.2V604.13 M440.65 755.2V609.03 M444.13 755.2V609.03 M447.35 755.2V617.03 M450.71 755.2V612.52 M453.16 755.2V603.23 M456.52 755.2V616.13 M460.26 755.2V620.26 M463.23 755.2V617.42 M471.61 755.2V603.23 M475.23 755.2V601.68 M478.71 755.2V608.13 M480.9 755.2V611.23 M484.52 755.2V621.94 M488.39 755.2V621.03 M492.26 755.2V612.9 M494.84 755.2V614.19 M498.32 755.2V626.19 M501.55 755.2V618.06 M505.16 755.2V648.13 M508.39 755.2V632.26 M511.87 755.2V600.65 M515.1 755.2V600.65 M518.45 755.2V617.03 M522.19 755.2V615.74 M525.55 755.2V625.42 M528.65 755.2V627.1 M531.74 755.2V620.26 M535.48 755.2V624.26 M538.71 755.2V633.55 M540.9 755.2V628.39 M544.52 755.2V641.94 M548 755.2V655.1 M551.35 755.2V614.84 M554.84 755.2V610.97 M558.32 755.2V619.61 M561.68 755.2V617.42 M565.16 755.2V630.32 M569.03 755.2V629.42" stroke="#5b9bd5" stroke-width="1.3" fill="none" opacity="0.55"/>
<rect x="202.5" y="754.2" width="367" height="5.8" fill="#d6d6d6"/>
<text transform="translate(209.71 765.8) rotate(-90) scale(1.3 1)" font-size="12.4" fill="#6b6b6b" text-anchor="end" font-family='"Liberation Serif","Noto Serif CJK SC",serif'>单位</text>
<text transform="translate(222.19 765.3) rotate(-90) translate(0 0) scale(1.19 1)" x="-46.15 -39.05 -31.95 -24.85" class="m" font-size="14.2" fill="#3d3d3d">2014</text><text transform="translate(222.19 765.3) rotate(-90) translate(0 0) scale(1.72 1)" x="-12.24" class="m" font-size="14.2" fill="#3d3d3d">-</text><text transform="translate(222.19 765.3) rotate(-90) translate(0 0) scale(1.19 1)" x="-10.65 -3.55" class="m" font-size="14.2" fill="#3d3d3d">02</text>
<text transform="translate(236.37 765.3) rotate(-90) translate(0 0) scale(1.19 1)" x="-46.15 -39.05 -31.95 -24.85" class="m" font-size="14.2" fill="#3d3d3d">2007</text><text transform="translate(236.37 765.3) rotate(-90) translate(0 0) scale(1.72 1)" x="-12.24" class="m" font-size="14.2" fill="#3d3d3d">-</text><text transform="translate(236.37 765.3) rotate(-90) translate(0 0) scale(1.19 1)" x="-10.65 -3.55" class="m" font-size="14.2" fill="#3d3d3d">01</text>
<text transform="translate(250.55 765.3) rotate(-90) translate(0 0) scale(1.19 1)" x="-46.15 -39.05 -31.95 -24.85" class="m" font-size="14.2" fill="#3d3d3d">1999</text><text transform="translate(250.55 765.3) rotate(-90) translate(0 0) scale(1.72 1)" x="-12.24" class="m" font-size="14.2" fill="#3d3d3d">-</text><text transform="translate(250.55 765.3) rotate(-90) translate(0 0) scale(1.19 1)" x="-10.65 -3.55" class="m" font-size="14.2" fill="#3d3d3d">12</text>
<text transform="translate(264.73 765.3) rotate(-90) translate(0 0) scale(1.19 1)" x="-46.15 -39.05 -31.95 -24.85" class="m" font-size="14.2" fill="#3d3d3d">1992</text><text transform="translate(264.73 765.3) rotate(-90) translate(0 0) scale(1.72 1)" x="-12.24" class="m" font-size="14.2" fill="#3d3d3d">-</text><text transform="translate(264.73 765.3) rotate(-90) translate(0 0) scale(1.19 1)" x="-10.65 -3.55" class="m" font-size="14.2" fill="#3d3d3d">11</text>
<text transform="translate(278.91 765.3) rotate(-90) translate(0 0) scale(1.19 1)" x="-67.45 -60.35 -53.25 -46.15" class="m" font-size="14.2" fill="#3d3d3d">2019</text><text transform="translate(278.91 765.3) rotate(-90) translate(0 0) scale(1.72 1)" x="-26.93" class="m" font-size="14.2" fill="#3d3d3d">-</text><text transform="translate(278.91 765.3) rotate(-90) translate(0 0) scale(1.19 1)" x="-31.95 -24.85" class="m" font-size="14.2" fill="#3d3d3d">06</text><text transform="translate(278.91 765.3) rotate(-90) translate(0 0) scale(1.72 1)" x="-12.24" class="m" font-size="14.2" fill="#3d3d3d">-</text><text transform="translate(278.91 765.3) rotate(-90) translate(0 0) scale(1.19 1)" x="-10.65 -3.55" class="m" font-size="14.2" fill="#3d3d3d">03</text>
<text transform="translate(293.09 765.3) rotate(-90) translate(0 0) scale(1.19 1)" x="-67.45 -60.35 -53.25 -46.15" class="m" font-size="14.2" fill="#3d3d3d">2018</text><text transform="translate(293.09 765.3) rotate(-90) translate(0 0) scale(1.72 1)" x="-26.93" class="m" font-size="14.2" fill="#3d3d3d">-</text><text transform="translate(293.09 765.3) rotate(-90) translate(0 0) scale(1.19 1)" x="-31.95 -24.85" class="m" font-size="14.2" fill="#3d3d3d">12</text><text transform="translate(293.09 765.3) rotate(-90) translate(0 0) scale(1.72 1)" x="-12.24" class="m" font-size="14.2" fill="#3d3d3d">-</text><text transform="translate(293.09 765.3) rotate(-90) translate(0 0) scale(1.19 1)" x="-10.65 -3.55" class="m" font-size="14.2" fill="#3d3d3d">05</text>
<text transform="translate(307.27 765.3) rotate(-90) translate(0 0) scale(1.19 1)" x="-67.45 -60.35 -53.25 -46.15" class="m" font-size="14.2" fill="#3d3d3d">2018</text><text transform="translate(307.27 765.3) rotate(-90) translate(0 0) scale(1.72 1)" x="-26.93" class="m" font-size="14.2" fill="#3d3d3d">-</text><text transform="translate(307.27 765.3) rotate(-90) translate(0 0) scale(1.19 1)" x="-31.95 -24.85" class="m" font-size="14.2" fill="#3d3d3d">07</text><text transform="translate(307.27 765.3) rotate(-90) translate(0 0) scale(1.72 1)" x="-12.24" class="m" font-size="14.2" fill="#3d3d3d">-</text><text transform="translate(307.27 765.3) rotate(-90) translate(0 0) scale(1.19 1)" x="-10.65 -3.55" class="m" font-size="14.2" fill="#3d3d3d">31</text>
<text transform="translate(321.45 765.3) rotate(-90) translate(0 0) scale(1.19 1)" x="-67.45 -60.35 -53.25 -46.15" class="m" font-size="14.2" fill="#3d3d3d">2018</text><text transform="translate(321.45 765.3) rotate(-90) translate(0 0) scale(1.72 1)" x="-26.93" class="m" font-size="14.2" fill="#3d3d3d">-</text><text transform="translate(321.45 765.3) rotate(-90) translate(0 0) scale(1.19 1)" x="-31.95 -24.85" class="m" font-size="14.2" fill="#3d3d3d">03</text><text transform="translate(321.45 765.3) rotate(-90) translate(0 0) scale(1.72 1)" x="-12.24" class="m" font-size="14.2" fill="#3d3d3d">-</text><text transform="translate(321.45 765.3) rotate(-90) translate(0 0) scale(1.19 1)" x="-10.65 -3.55" class="m" font-size="14.2" fill="#3d3d3d">21</text>
<text transform="translate(335.63 765.3) rotate(-90) translate(0 0) scale(1.19 1)" x="-67.45 -60.35 -53.25 -46.15" class="m" font-size="14.2" fill="#3d3d3d">2017</text><text transform="translate(335.63 765.3) rotate(-90) translate(0 0) scale(1.72 1)" x="-26.93" class="m" font-size="14.2" fill="#3d3d3d">-</text><text transform="translate(335.63 765.3) rotate(-90) translate(0 0) scale(1.19 1)" x="-31.95 -24.85" class="m" font-size="14.2" fill="#3d3d3d">11</text><text transform="translate(335.63 765.3) rotate(-90) translate(0 0) scale(1.72 1)" x="-12.24" class="m" font-size="14.2" fill="#3d3d3d">-</text><text transform="translate(335.63 765.3) rotate(-90) translate(0 0) scale(1.19 1)" x="-10.65 -3.55" class="m" font-size="14.2" fill="#3d3d3d">03</text>
<text transform="translate(349.81 765.3) rotate(-90) translate(0 0) scale(1.19 1)" x="-67.45 -60.35 -53.25 -46.15" class="m" font-size="14.2" fill="#3d3d3d">2017</text><text transform="translate(349.81 765.3) rotate(-90) translate(0 0) scale(1.72 1)" x="-26.93" class="m" font-size="14.2" fill="#3d3d3d">-</text><text transform="translate(349.81 765.3) rotate(-90) translate(0 0) scale(1.19 1)" x="-31.95 -24.85" class="m" font-size="14.2" fill="#3d3d3d">06</text><text transform="translate(349.81 765.3) rotate(-90) translate(0 0) scale(1.72 1)" x="-12.24" class="m" font-size="14.2" fill="#3d3d3d">-</text><text transform="translate(349.81 765.3) rotate(-90) translate(0 0) scale(1.19 1)" x="-10.65 -3.55" class="m" font-size="14.2" fill="#3d3d3d">20</text>
<text transform="translate(363.99 765.3) rotate(-90) translate(0 0) scale(1.19 1)" x="-67.45 -60.35 -53.25 -46.15" class="m" font-size="14.2" fill="#3d3d3d">2017</text><text transform="translate(363.99 765.3) rotate(-90) translate(0 0) scale(1.72 1)" x="-26.93" class="m" font-size="14.2" fill="#3d3d3d">-</text><text transform="translate(363.99 765.3) rotate(-90) translate(0 0) scale(1.19 1)" x="-31.95 -24.85" class="m" font-size="14.2" fill="#3d3d3d">02</text><text transform="translate(363.99 765.3) rotate(-90) translate(0 0) scale(1.72 1)" x="-12.24" class="m" font-size="14.2" fill="#3d3d3d">-</text><text transform="translate(363.99 765.3) rotate(-90) translate(0 0) scale(1.19 1)" x="-10.65 -3.55" class="m" font-size="14.2" fill="#3d3d3d">09</text>
<text transform="translate(378.17 765.3) rotate(-90) translate(0 0) scale(1.19 1)" x="-67.45 -60.35 -53.25 -46.15" class="m" font-size="14.2" fill="#3d3d3d">2016</text><text transform="translate(378.17 765.3) rotate(-90) translate(0 0) scale(1.72 1)" x="-26.93" class="m" font-size="14.2" fill="#3d3d3d">-</text><text transform="translate(378.17 765.3) rotate(-90) translate(0 0) scale(1.19 1)" x="-31.95 -24.85" class="m" font-size="14.2" fill="#3d3d3d">09</text><text transform="translate(378.17 765.3) rotate(-90) translate(0 0) scale(1.72 1)" x="-12.24" class="m" font-size="14.2" fill="#3d3d3d">-</text><text transform="translate(378.17 765.3) rotate(-90) translate(0 0) scale(1.19 1)" x="-10.65 -3.55" class="m" font-size="14.2" fill="#3d3d3d">13</text>
<text transform="translate(392.35 765.3) rotate(-90) translate(0 0) scale(1.19 1)" x="-67.45 -60.35 -53.25 -46.15" class="m" font-size="14.2" fill="#3d3d3d">2016</text><text transform="translate(392.35 765.3) rotate(-90) translate(0 0) scale(1.72 1)" x="-26.93" class="m" font-size="14.2" fill="#3d3d3d">-</text><text transform="translate(392.35 765.3) rotate(-90) translate(0 0) scale(1.19 1)" x="-31.95 -24.85" class="m" font-size="14.2" fill="#3d3d3d">04</text><text transform="translate(392.35 765.3) rotate(-90) translate(0 0) scale(1.72 1)" x="-12.24" class="m" font-size="14.2" fill="#3d3d3d">-</text><text transform="translate(392.35 765.3) rotate(-90) translate(0 0) scale(1.19 1)" x="-10.65 -3.55" class="m" font-size="14.2" fill="#3d3d3d">25</text>
<text transform="translate(406.53 765.3) rotate(-90) translate(0 0) scale(1.19 1)" x="-67.45 -60.35 -53.25 -46.15" class="m" font-size="14.2" fill="#3d3d3d">2015</text><text transform="translate(406.53 765.3) rotate(-90) translate(0 0) scale(1.72 1)" x="-26.93" class="m" font-size="14.2" fill="#3d3d3d">-</text><text transform="translate(406.53 765.3) rotate(-90) translate(0 0) scale(1.19 1)" x="-31.95 -24.85" class="m" font-size="14.2" fill="#3d3d3d">11</text><text transform="translate(406.53 765.3) rotate(-90) translate(0 0) scale(1.72 1)" x="-12.24" class="m" font-size="14.2" fill="#3d3d3d">-</text><text transform="translate(406.53 765.3) rotate(-90) translate(0 0) scale(1.19 1)" x="-10.65 -3.55" class="m" font-size="14.2" fill="#3d3d3d">10</text>
<text transform="translate(420.71 765.3) rotate(-90) translate(0 0) scale(1.19 1)" x="-67.45 -60.35 -53.25 -46.15" class="m" font-size="14.2" fill="#3d3d3d">2015</text><text transform="translate(420.71 765.3) rotate(-90) translate(0 0) scale(1.72 1)" x="-26.93" class="m" font-size="14.2" fill="#3d3d3d">-</text><text transform="translate(420.71 765.3) rotate(-90) translate(0 0) scale(1.19 1)" x="-31.95 -24.85" class="m" font-size="14.2" fill="#3d3d3d">06</text><text transform="translate(420.71 765.3) rotate(-90) translate(0 0) scale(1.72 1)" x="-12.24" class="m" font-size="14.2" fill="#3d3d3d">-</text><text transform="translate(420.71 765.3) rotate(-90) translate(0 0) scale(1.19 1)" x="-10.65 -3.55" class="m" font-size="14.2" fill="#3d3d3d">30</text>
<text transform="translate(434.89 765.3) rotate(-90) translate(0 0) scale(1.19 1)" x="-67.45 -60.35 -53.25 -46.15" class="m" font-size="14.2" fill="#3d3d3d">2015</text><text transform="translate(434.89 765.3) rotate(-90) translate(0 0) scale(1.72 1)" x="-26.93" class="m" font-size="14.2" fill="#3d3d3d">-</text><text transform="translate(434.89 765.3) rotate(-90) translate(0 0) scale(1.19 1)" x="-31.95 -24.85" class="m" font-size="14.2" fill="#3d3d3d">02</text><text transform="translate(434.89 765.3) rotate(-90) translate(0 0) scale(1.72 1)" x="-12.24" class="m" font-size="14.2" fill="#3d3d3d">-</text><text transform="translate(434.89 765.3) rotate(-90) translate(0 0) scale(1.19 1)" x="-10.65 -3.55" class="m" font-size="14.2" fill="#3d3d3d">23</text>
<text transform="translate(449.07 765.3) rotate(-90) translate(0 0) scale(1.19 1)" x="-67.45 -60.35 -53.25 -46.15" class="m" font-size="14.2" fill="#3d3d3d">2014</text><text transform="translate(449.07 765.3) rotate(-90) translate(0 0) scale(1.72 1)" x="-26.93" class="m" font-size="14.2" fill="#3d3d3d">-</text><text transform="translate(449.07 765.3) rotate(-90) translate(0 0) scale(1.19 1)" x="-31.95 -24.85" class="m" font-size="14.2" fill="#3d3d3d">09</text><text transform="translate(449.07 765.3) rotate(-90) translate(0 0) scale(1.72 1)" x="-12.24" class="m" font-size="14.2" fill="#3d3d3d">-</text><text transform="translate(449.07 765.3) rotate(-90) translate(0 0) scale(1.19 1)" x="-10.65 -3.55" class="m" font-size="14.2" fill="#3d3d3d">30</text>
<text transform="translate(463.25 765.3) rotate(-90) translate(0 0) scale(1.19 1)" x="-67.45 -60.35 -53.25 -46.15" class="m" font-size="14.2" fill="#3d3d3d">2014</text><text transform="translate(463.25 765.3) rotate(-90) translate(0 0) scale(1.72 1)" x="-26.93" class="m" font-size="14.2" fill="#3d3d3d">-</text><text transform="translate(463.25 765.3) rotate(-90) translate(0 0) scale(1.19 1)" x="-31.95 -24.85" class="m" font-size="14.2" fill="#3d3d3d">05</text><text transform="translate(463.25 765.3) rotate(-90) translate(0 0) scale(1.72 1)" x="-12.24" class="m" font-size="14.2" fill="#3d3d3d">-</text><text transform="translate(463.25 765.3) rotate(-90) translate(0 0) scale(1.19 1)" x="-10.65 -3.55" class="m" font-size="14.2" fill="#3d3d3d">14</text>
<text transform="translate(477.43 765.3) rotate(-90) translate(0 0) scale(1.19 1)" x="-67.45 -60.35 -53.25 -46.15" class="m" font-size="14.2" fill="#3d3d3d">2013</text><text transform="translate(477.43 765.3) rotate(-90) translate(0 0) scale(1.72 1)" x="-26.93" class="m" font-size="14.2" fill="#3d3d3d">-</text><text transform="translate(477.43 765.3) rotate(-90) translate(0 0) scale(1.19 1)" x="-31.95 -24.85" class="m" font-size="14.2" fill="#3d3d3d">12</text><text transform="translate(477.43 765.3) rotate(-90) translate(0 0) scale(1.72 1)" x="-12.24" class="m" font-size="14.2" fill="#3d3d3d">-</text><text transform="translate(477.43 765.3) rotate(-90) translate(0 0) scale(1.19 1)" x="-10.65 -3.55" class="m" font-size="14.2" fill="#3d3d3d">20</text>
<text transform="translate(491.61 765.3) rotate(-90) translate(0 0) scale(1.19 1)" x="-67.45 -60.35 -53.25 -46.15" class="m" font-size="14.2" fill="#3d3d3d">2013</text><text transform="translate(491.61 765.3) rotate(-90) translate(0 0) scale(1.72 1)" x="-26.93" class="m" font-size="14.2" fill="#3d3d3d">-</text><text transform="translate(491.61 765.3) rotate(-90) translate(0 0) scale(1.19 1)" x="-31.95 -24.85" class="m" font-size="14.2" fill="#3d3d3d">08</text><text transform="translate(491.61 765.3) rotate(-90) translate(0 0) scale(1.72 1)" x="-12.24" class="m" font-size="14.2" fill="#3d3d3d">-</text><text transform="translate(491.61 765.3) rotate(-90) translate(0 0) scale(1.19 1)" x="-10.65 -3.55" class="m" font-size="14.2" fill="#3d3d3d">13</text>
<text transform="translate(505.79 765.3) rotate(-90) translate(0 0) scale(1.19 1)" x="-67.45 -60.35 -53.25 -46.15" class="m" font-size="14.2" fill="#3d3d3d">2013</text><text transform="translate(505.79 765.3) rotate(-90) translate(0 0) scale(1.72 1)" x="-26.93" class="m" font-size="14.2" fill="#3d3d3d">-</text><text transform="translate(505.79 765.3) rotate(-90) translate(0 0) scale(1.19 1)" x="-31.95 -24.85" class="m" font-size="14.2" fill="#3d3d3d">04</text><text transform="translate(505.79 765.3) rotate(-90) translate(0 0) scale(1.72 1)" x="-12.24" class="m" font-size="14.2" fill="#3d3d3d">-</text><text transform="translate(505.79 765.3) rotate(-90) translate(0 0) scale(1.19 1)" x="-10.65 -3.55" class="m" font-size="14.2" fill="#3d3d3d">05</text>
<text transform="translate(519.97 765.3) rotate(-90) translate(0 0) scale(1.19 1)" x="-67.45 -60.35 -53.25 -46.15" class="m" font-size="14.2" fill="#3d3d3d">2012</text><text transform="translate(519.97 765.3) rotate(-90) translate(0 0) scale(1.72 1)" x="-26.93" class="m" font-size="14.2" fill="#3d3d3d">-</text><text transform="translate(519.97 765.3) rotate(-90) translate(0 0) scale(1.19 1)" x="-31.95 -24.85" class="m" font-size="14.2" fill="#3d3d3d">11</text><text transform="translate(519.97 765.3) rotate(-90) translate(0 0) scale(1.72 1)" x="-12.24" class="m" font-size="14.2" fill="#3d3d3d">-</text><text transform="translate(519.97 765.3) rotate(-90) translate(0 0) scale(1.19 1)" x="-10.65 -3.55" class="m" font-size="14.2" fill="#3d3d3d">30</text>
<text transform="translate(534.15 765.3) rotate(-90) translate(0 0) scale(1.19 1)" x="-67.45 -60.35 -53.25 -46.15" class="m" font-size="14.2" fill="#3d3d3d">2012</text><text transform="translate(534.15 765.3) rotate(-90) translate(0 0) scale(1.72 1)" x="-26.93" class="m" font-size="14.2" fill="#3d3d3d">-</text><text transform="translate(534.15 765.3) rotate(-90) translate(0 0) scale(1.19 1)" x="-31.95 -24.85" class="m" font-size="14.2" fill="#3d3d3d">07</text><text transform="translate(534.15 765.3) rotate(-90) translate(0 0) scale(1.72 1)" x="-12.24" class="m" font-size="14.2" fill="#3d3d3d">-</text><text transform="translate(534.15 765.3) rotate(-90) translate(0 0) scale(1.19 1)" x="-10.65 -3.55" class="m" font-size="14.2" fill="#3d3d3d">25</text>
<text transform="translate(548.33 765.3) rotate(-90) translate(0 0) scale(1.19 1)" x="-67.45 -60.35 -53.25 -46.15" class="m" font-size="14.2" fill="#3d3d3d">2012</text><text transform="translate(548.33 765.3) rotate(-90) translate(0 0) scale(1.72 1)" x="-26.93" class="m" font-size="14.2" fill="#3d3d3d">-</text><text transform="translate(548.33 765.3) rotate(-90) translate(0 0) scale(1.19 1)" x="-31.95 -24.85" class="m" font-size="14.2" fill="#3d3d3d">03</text><text transform="translate(548.33 765.3) rotate(-90) translate(0 0) scale(1.72 1)" x="-12.24" class="m" font-size="14.2" fill="#3d3d3d">-</text><text transform="translate(548.33 765.3) rotate(-90) translate(0 0) scale(1.19 1)" x="-10.65 -3.55" class="m" font-size="14.2" fill="#3d3d3d">12</text>
<text transform="translate(562.51 765.3) rotate(-90) translate(0 0) scale(1.19 1)" x="-67.45 -60.35 -53.25 -46.15" class="m" font-size="14.2" fill="#3d3d3d">2011</text><text transform="translate(562.51 765.3) rotate(-90) translate(0 0) scale(1.72 1)" x="-26.93" class="m" font-size="14.2" fill="#3d3d3d">-</text><text transform="translate(562.51 765.3) rotate(-90) translate(0 0) scale(1.19 1)" x="-31.95 -24.85" class="m" font-size="14.2" fill="#3d3d3d">11</text><text transform="translate(562.51 765.3) rotate(-90) translate(0 0) scale(1.72 1)" x="-12.24" class="m" font-size="14.2" fill="#3d3d3d">-</text><text transform="translate(562.51 765.3) rotate(-90) translate(0 0) scale(1.19 1)" x="-10.65 -3.55" class="m" font-size="14.2" fill="#3d3d3d">04</text>
</g>
<g id="c4">
<text transform="translate(877 529) scale(1 1.17) translate(0 6.75)" x="-56.25 -37.5" class="m" font-size="18.75" fill="#4a4a4a">产量</text><text transform="translate(877 529) scale(1 1.17) translate(0 6.75) scale(0.85 1)" x="-27.57" class="m" font-size="18.75" fill="#4a4a4a">:</text><text transform="translate(877 529) scale(1 1.17) translate(0 6.75)" x="-9.38" class="m" font-size="18.75" fill="#4a4a4a">纱</text><text transform="translate(877 529) scale(1 1.17) translate(0 6.75) scale(0.85 1)" x="5.51" class="m" font-size="18.75" fill="#4a4a4a">:</text><text transform="translate(877 529) scale(1 1.17) translate(0 6.75)" x="18.75 37.5 56.25" class="m" font-size="18.75" fill="#4a4a4a">当月值</text>
<line x1="717" y1="566" x2="1082.5" y2="566" stroke="#d6d6d6" stroke-width="1.5"/>
<line x1="717" y1="590.58" x2="1082.5" y2="590.58" stroke="#d6d6d6" stroke-width="1.5"/>
<line x1="717" y1="615.16" x2="1082.5" y2="615.16" stroke="#d6d6d6" stroke-width="1.5"/>
<line x1="717" y1="639.74" x2="1082.5" y2="639.74" stroke="#d6d6d6" stroke-width="1.5"/>
<line x1="717" y1="664.32" x2="1082.5" y2="664.32" stroke="#d6d6d6" stroke-width="1.5"/>
<line x1="717" y1="688.9" x2="1082.5" y2="688.9" stroke="#d6d6d6" stroke-width="1.5"/>
<line x1="717" y1="713.48" x2="1082.5" y2="713.48" stroke="#d6d6d6" stroke-width="1.5"/>
<line x1="717" y1="738.06" x2="1082.5" y2="738.06" stroke="#d6d6d6" stroke-width="1.5"/>
<line x1="717" y1="762.64" x2="1082.5" y2="762.64" stroke="#d6d6d6" stroke-width="1.5"/>
<line x1="717" y1="787.22" x2="1082.5" y2="787.22" stroke="#d6d6d6" stroke-width="1.5"/>
<text transform="translate(705.5 571.6) scale(0.72 1)" x="-52.33 -42.81 -33.3 -25.5 -14.27 -4.76" class="m" font-size="17.3" fill="#383838">400.00</text>
<text transform="translate(705.5 596.18) scale(0.72 1)" x="-52.33 -42.81 -33.3 -25.5 -14.27 -4.76" class="m" font-size="17.3" fill="#383838">350.00</text>
<text transform="translate(705.5 620.76) scale(0.72 1)" x="-52.33 -42.81 -33.3 -25.5 -14.27 -4.76" class="m" font-size="17.3" fill="#383838">300.00</text>
<text transform="translate(705.5 645.34) scale(0.72 1)" x="-52.33 -42.81 -33.3 -25.5 -14.27 -4.76" class="m" font-size="17.3" fill="#383838">250.00</text>
<text transform="translate(705.5 669.92) scale(0.72 1)" x="-52.33 -42.81 -33.3 -25.5 -14.27 -4.76" class="m" font-size="17.3" fill="#383838">200.00</text>
<text transform="translate(705.5 694.5) scale(0.72 1)" x="-52.33 -42.81 -33.3 -25.5 -14.27 -4.76" class="m" font-size="17.3" fill="#383838">150.00</text>
<text transform="translate(705.5 719.08) scale(0.72 1)" x="-52.33 -42.81 -33.3 -25.5 -14.27 -4.76" class="m" font-size="17.3" fill="#383838">100.00</text>
<text transform="translate(705.5 743.66) scale(0.72 1)" x="-42.81 -33.3 -25.5 -14.27 -4.76" class="m" font-size="17.3" fill="#383838">50.00</text>
<text transform="translate(705.5 768.24) scale(0.72 1)" x="-33.3 -25.5 -14.27 -4.76" class="m" font-size="17.3" fill="#383838">0.00</text>
<text transform="translate(705.5 792.82) scale(1.3 1)" x="-29.07" class="m" font-size="17.3" fill="#383838">-</text><text transform="translate(705.5 792.82) scale(0.72 1)" x="-42.81 -33.3 -25.5 -14.27 -4.76" class="m" font-size="17.3" fill="#383838">50.00</text>
<polygon points="717.26,762.58 717.5,759.31 719.07,759.31 719.44,762.58 724.52,762.58 724.76,759.31 725.97,759.31 726.33,761.73 729.35,761.13 731.77,760.52 735.4,759.31 738.43,758.71 741.45,759.68 743.27,761.13 744.48,758.71 745.69,757.5 747.5,758.47 749.92,758.71 750.52,749.64 752.34,749.64 752.94,755.08 754.52,755.69 754.76,749.64 755.97,749.64 756.57,754.48 757.78,755.69 758.99,755.69 759.35,752.06 760.81,752.06 761.17,755.69 763.23,755.08 763.59,740.56 765.4,740.56 765.89,755.08 767.46,755.69 767.82,752.06 769.27,752.06 769.64,758.71 771.09,758.1 772.3,755.69 774.72,754.48 775.93,747.22 779.56,747.22 780.16,750.24 782.58,749.64 784.03,742.98 786.45,742.98 787.06,752.06 788.63,752.66 789.23,750.85 790.08,750.85 790.44,754.48 792.26,753.87 792.86,749.64 794.68,749.64 795.28,751.45 798.91,751.69 799.52,756.29 800.73,756.29 801.33,753.27 804.96,753.27 805.56,748.06 809.19,748.06 809.8,753.87 811.37,754.48 811.85,762.34 813.43,762.34 813.79,757.26 816.45,756.9 817.06,758.71 818.27,755.32 819.48,755.32 820.08,762.58" fill="#203a54" />
<polygon points="720.65,762.6 720.65,772.02 722.22,772.02 722.22,762.6" fill="#203a54" />
<polygon points="797.34,762.6 797.34,768.87 798.55,768.87 798.55,762.6" fill="#203a54" />
<polygon points="812.34,762.6 812.34,768.87 813.55,768.87 813.55,762.6" fill="#203a54" />
<polygon points="852.37,762.6 852.37,603.3 854.97,603.3 854.97,601.14 855.84,601.14 855.84,593.55 857.79,593.55 857.79,602.76 859.63,602.76 859.63,609.26 861.26,609.26 861.26,605.47 862.88,605.47 862.88,762.6" fill="#203a54" />
<polygon points="866.68,762.6 866.68,591.71 868.3,591.71 868.3,593.55 869.71,593.55 869.71,602.22 871.55,602.22 871.55,606.01 872.96,606.01 872.96,617.39 874.81,617.39 874.81,619.02 876.97,619.02 876.97,612.52 878.82,612.52 878.82,617.93 880.23,617.93 880.23,621.19 881.85,621.19 881.85,615.77 883.15,615.77 883.15,645.57 885.64,645.57 885.64,633.65 887.49,633.65 887.49,603.3 889.22,603.3 889.22,606.55 890.52,606.55 890.52,613.38 892.69,613.38 892.69,625.52 894.32,625.52 894.32,627.69 896.48,627.69 896.48,623.35 899.19,623.35 899.19,631.48 901.36,631.48 901.36,633.11 902.66,633.11 902.66,625.52 904.07,625.52 904.07,646.12 905.91,646.12 905.91,660.21 908.08,660.21 908.08,628.23 910.03,628.23 910.03,627.15 911.66,627.15 911.66,633.11 914.37,633.11 914.37,641.78 915.45,641.78 915.45,642 919.57,642 919.57,634.73 920.87,634.73 920.87,643.95 922.5,643.95 922.5,649.37 924.66,649.37 924.66,648.5 926.51,648.5 926.51,669.74 928.67,669.74 928.67,662.16 930.62,662.16 930.62,638.53 932.58,638.53 932.58,642.32 933.88,642.32 933.88,644.49 936.04,644.49 936.04,641.24 938.21,641.24 938.21,642.32 939.3,642.32 939.3,648.82 940.92,648.82 940.92,642.86 942.55,642.86 942.55,647.74 944.71,647.74 944.71,651.53 946.34,651.53 946.34,656.41 947.75,656.41 947.75,681.88 949.92,681.88 949.92,666.71 952.08,666.71 952.08,647.2 953.71,647.2 953.71,653.7 955.55,653.7 955.55,654.79 957.18,654.79 957.18,657.5 958.8,657.5 958.8,660.21 959.89,660.21 959.89,661.29 962.6,661.29 962.6,653.7 964.22,653.7 964.22,661.83 965.52,661.83 965.52,762.6" fill="#203a54" />
<polygon points="965.24,762.6 965.24,667.05 969.65,667.05 969.65,688.75 971.32,688.75 971.32,695.04 973.63,695.04 973.63,670.93 975.73,670.93 975.73,670.19 978.87,670.19 978.87,669.15 980.44,669.15 980.44,671.24 984.64,671.24 984.64,664.32 986.73,664.32 986.73,669.35 988.83,669.35 988.83,673.55 990.4,673.55 990.4,675.65 991.66,675.65 991.66,699.23 993.76,699.23 993.76,688.23 995.12,688.23 995.12,669.15 996.69,669.15 996.69,673.55 998.79,673.55 998.79,676.69 1000.36,676.69 1000.36,678.27 1001.94,678.27 1001.94,679 1005.6,679 1005.6,672.5 1007.18,672.5 1007.18,681.94 1008.75,681.94 1008.75,682.77 1010.85,682.77 1010.85,683.82 1012.94,683.82 1012.94,705.21 1015.04,705.21 1015.04,691.16 1016.61,691.16 1016.61,679.63 1018.19,679.63 1018.19,685.6 1019.76,685.6 1019.76,687.18 1022.38,687.18 1022.38,684.87 1026.05,684.87 1026.05,689.48 1027.62,689.48 1027.62,685.6 1029.19,685.6 1029.19,694.52 1030.24,694.52 1030.24,695.35 1032.86,695.35 1032.86,697.66 1034.65,697.66 1034.65,709.72 1037.06,709.72 1037.06,708.98 1038.1,708.98 1038.1,693.68 1040.94,693.68 1040.94,697.14 1042.82,697.14 1042.82,700.81 1045.44,700.81 1045.44,703.95 1047.02,703.95 1047.02,706.05 1049.95,706.05 1049.95,702.06 1051.73,702.06 1051.73,706.05 1054.35,706.05 1054.35,708.15 1055.61,708.15 1055.61,711.29 1056.98,711.29 1056.98,723.87 1059.07,723.87 1059.07,721.77 1060.12,721.77 1060.12,706.57 1061.9,706.57 1061.9,711.81 1063.79,711.81 1063.79,714.65 1065.36,714.65 1065.36,713.39 1066.94,713.39 1066.94,717.37 1068.51,717.37 1068.51,718.1 1071.13,718.1 1071.13,715.27 1073.02,715.27 1073.02,718.1 1074.27,718.1 1074.27,717.37 1076.37,717.37 1076.37,720.2 1078.47,720.2 1078.47,723.35 1080.35,723.35 1080.35,732.26 1082.14,732.26 1082.14,762.6" fill="#203a54" />
<line x1="854.4" y1="762.64" x2="854.4" y2="572.64" stroke="#ffffff" stroke-width="1" opacity="0.6"/>
<line x1="898.7" y1="762.64" x2="898.7" y2="572.64" stroke="#ffffff" stroke-width="1" opacity="0.6"/>
<line x1="956.6" y1="762.64" x2="956.6" y2="572.64" stroke="#ffffff" stroke-width="1" opacity="0.6"/>
<line x1="965.9" y1="762.64" x2="965.9" y2="572.64" stroke="#ffffff" stroke-width="1" opacity="0.6"/>
<line x1="988.2" y1="762.64" x2="988.2" y2="572.64" stroke="#ffffff" stroke-width="1" opacity="0.6"/>
<line x1="1040.3" y1="762.64" x2="1040.3" y2="572.64" stroke="#ffffff" stroke-width="1" opacity="0.6"/>
<line x1="1049.4" y1="762.64" x2="1049.4" y2="572.64" stroke="#ffffff" stroke-width="1" opacity="0.6"/>
<rect x="716.5" y="762.4" width="366.5" height="5.2" fill="#d6d6d6"/>
<text transform="translate(723.41 774) rotate(-90) scale(1.3 1)" font-size="12.4" fill="#6b6b6b" text-anchor="end" font-family='"Liberation Serif","Noto Serif CJK SC",serif'>单位</text>
<text transform="translate(735.99 773.5) rotate(-90) translate(0 0) scale(1.19 1)" x="-46.15 -39.05 -31.95 -24.85" class="m" font-size="14.2" fill="#3d3d3d">2017</text><text transform="translate(735.99 773.5) rotate(-90) translate(0 0) scale(1.72 1)" x="-12.24" class="m" font-size="14.2" fill="#3d3d3d">-</text><text transform="translate(735.99 773.5) rotate(-90) translate(0 0) scale(1.19 1)" x="-10.65 -3.55" class="m" font-size="14.2" fill="#3d3d3d">11</text>
<text transform="translate(750.08 773.5) rotate(-90) translate(0 0) scale(1.19 1)" x="-46.15 -39.05 -31.95 -24.85" class="m" font-size="14.2" fill="#3d3d3d">2014</text><text transform="translate(750.08 773.5) rotate(-90) translate(0 0) scale(1.72 1)" x="-12.24" class="m" font-size="14.2" fill="#3d3d3d">-</text><text transform="translate(750.08 773.5) rotate(-90) translate(0 0) scale(1.19 1)" x="-10.65 -3.55" class="m" font-size="14.2" fill="#3d3d3d">07</text>
<text transform="translate(764.17 773.5) rotate(-90) translate(0 0) scale(1.19 1)" x="-46.15 -39.05 -31.95 -24.85" class="m" font-size="14.2" fill="#3d3d3d">2011</text><text transform="translate(764.17 773.5) rotate(-90) translate(0 0) scale(1.72 1)" x="-12.24" class="m" font-size="14.2" fill="#3d3d3d">-</text><text transform="translate(764.17 773.5) rotate(-90) translate(0 0) scale(1.19 1)" x="-10.65 -3.55" class="m" font-size="14.2" fill="#3d3d3d">03</text>
<text transform="translate(778.26 773.5) rotate(-90) translate(0 0) scale(1.19 1)" x="-46.15 -39.05 -31.95 -24.85" class="m" font-size="14.2" fill="#3d3d3d">2007</text><text transform="translate(778.26 773.5) rotate(-90) translate(0 0) scale(1.72 1)" x="-12.24" class="m" font-size="14.2" fill="#3d3d3d">-</text><text transform="translate(778.26 773.5) rotate(-90) translate(0 0) scale(1.19 1)" x="-10.65 -3.55" class="m" font-size="14.2" fill="#3d3d3d">11</text>
<text transform="translate(792.35 773.5) rotate(-90) translate(0 0) scale(1.19 1)" x="-46.15 -39.05 -31.95 -24.85" class="m" font-size="14.2" fill="#3d3d3d">2004</text><text transform="translate(792.35 773.5) rotate(-90) translate(0 0) scale(1.72 1)" x="-12.24" class="m" font-size="14.2" fill="#3d3d3d">-</text><text transform="translate(792.35 773.5) rotate(-90) translate(0 0) scale(1.19 1)" x="-10.65 -3.55" class="m" font-size="14.2" fill="#3d3d3d">07</text>
<text transform="translate(806.44 773.5) rotate(-90) translate(0 0) scale(1.19 1)" x="-46.15 -39.05 -31.95 -24.85" class="m" font-size="14.2" fill="#3d3d3d">2001</text><text transform="translate(806.44 773.5) rotate(-90) translate(0 0) scale(1.72 1)" x="-12.24" class="m" font-size="14.2" fill="#3d3d3d">-</text><text transform="translate(806.44 773.5) rotate(-90) translate(0 0) scale(1.19 1)" x="-10.65 -3.55" class="m" font-size="14.2" fill="#3d3d3d">03</text>
<text transform="translate(820.53 773.5) rotate(-90) translate(0 0) scale(1.19 1)" x="-46.15 -39.05 -31.95 -24.85" class="m" font-size="14.2" fill="#3d3d3d">1997</text><text transform="translate(820.53 773.5) rotate(-90) translate(0 0) scale(1.72 1)" x="-12.24" class="m" font-size="14.2" fill="#3d3d3d">-</text><text transform="translate(820.53 773.5) rotate(-90) translate(0 0) scale(1.19 1)" x="-10.65 -3.55" class="m" font-size="14.2" fill="#3d3d3d">11</text>
<text transform="translate(834.62 773.5) rotate(-90) translate(0 0) scale(1.19 1)" x="-46.15 -39.05 -31.95 -24.85" class="m" font-size="14.2" fill="#3d3d3d">1994</text><text transform="translate(834.62 773.5) rotate(-90) translate(0 0) scale(1.72 1)" x="-12.24" class="m" font-size="14.2" fill="#3d3d3d">-</text><text transform="translate(834.62 773.5) rotate(-90) translate(0 0) scale(1.19 1)" x="-10.65 -3.55" class="m" font-size="14.2" fill="#3d3d3d">07</text>
<text transform="translate(848.71 773.5) rotate(-90) translate(0 0) scale(1.19 1)" x="-46.15 -39.05 -31.95 -24.85" class="m" font-size="14.2" fill="#3d3d3d">1991</text><text transform="translate(848.71 773.5) rotate(-90) translate(0 0) scale(1.72 1)" x="-12.24" class="m" font-size="14.2" fill="#3d3d3d">-</text><text transform="translate(848.71 773.5) rotate(-90) translate(0 0) scale(1.19 1)" x="-10.65 -3.55" class="m" font-size="14.2" fill="#3d3d3d">03</text>
<text transform="translate(862.8 773.5) rotate(-90) translate(0 0) scale(1.19 1)" x="-67.45 -60.35 -53.25 -46.15" class="m" font-size="14.2" fill="#3d3d3d">2014</text><text transform="translate(862.8 773.5) rotate(-90) translate(0 0) scale(1.72 1)" x="-26.93" class="m" font-size="14.2" fill="#3d3d3d">-</text><text transform="translate(862.8 773.5) rotate(-90) translate(0 0) scale(1.19 1)" x="-31.95 -24.85" class="m" font-size="14.2" fill="#3d3d3d">06</text><text transform="translate(862.8 773.5) rotate(-90) translate(0 0) scale(1.72 1)" x="-12.24" class="m" font-size="14.2" fill="#3d3d3d">-</text><text transform="translate(862.8 773.5) rotate(-90) translate(0 0) scale(1.19 1)" x="-10.65 -3.55" class="m" font-size="14.2" fill="#3d3d3d">20</text>
<text transform="translate(876.89 773.5) rotate(-90) translate(0 0) scale(1.19 1)" x="-67.45 -60.35 -53.25 -46.15" class="m" font-size="14.2" fill="#3d3d3d">2013</text><text transform="translate(876.89 773.5) rotate(-90) translate(0 0) scale(1.72 1)" x="-26.93" class="m" font-size="14.2" fill="#3d3d3d">-</text><text transform="translate(876.89 773.5) rotate(-90) translate(0 0) scale(1.19 1)" x="-31.95 -24.85" class="m" font-size="14.2" fill="#3d3d3d">10</text><text transform="translate(876.89 773.5) rotate(-90) translate(0 0) scale(1.72 1)" x="-12.24" class="m" font-size="14.2" fill="#3d3d3d">-</text><text transform="translate(876.89 773.5) rotate(-90) translate(0 0) scale(1.19 1)" x="-10.65 -3.55" class="m" font-size="14.2" fill="#3d3d3d">04</text>
<text transform="translate(890.98 773.5) rotate(-90) translate(0 0) scale(1.19 1)" x="-67.45 -60.35 -53.25 -46.15" class="m" font-size="14.2" fill="#3d3d3d">2013</text><text transform="translate(890.98 773.5) rotate(-90) translate(0 0) scale(1.72 1)" x="-26.93" class="m" font-size="14.2" fill="#3d3d3d">-</text><text transform="translate(890.98 773.5) rotate(-90) translate(0 0) scale(1.19 1)" x="-31.95 -24.85" class="m" font-size="14.2" fill="#3d3d3d">02</text><text transform="translate(890.98 773.5) rotate(-90) translate(0 0) scale(1.72 1)" x="-12.24" class="m" font-size="14.2" fill="#3d3d3d">-</text><text transform="translate(890.98 773.5) rotate(-90) translate(0 0) scale(1.19 1)" x="-10.65 -3.55" class="m" font-size="14.2" fill="#3d3d3d">01</text>
<text transform="translate(905.07 773.5) rotate(-90) translate(0 0) scale(1.19 1)" x="-67.45 -60.35 -53.25 -46.15" class="m" font-size="14.2" fill="#3d3d3d">2012</text><text transform="translate(905.07 773.5) rotate(-90) translate(0 0) scale(1.72 1)" x="-26.93" class="m" font-size="14.2" fill="#3d3d3d">-</text><text transform="translate(905.07 773.5) rotate(-90) translate(0 0) scale(1.19 1)" x="-31.95 -24.85" class="m" font-size="14.2" fill="#3d3d3d">05</text><text transform="translate(905.07 773.5) rotate(-90) translate(0 0) scale(1.72 1)" x="-12.24" class="m" font-size="14.2" fill="#3d3d3d">-</text><text transform="translate(905.07 773.5) rotate(-90) translate(0 0) scale(1.19 1)" x="-10.65 -3.55" class="m" font-size="14.2" fill="#3d3d3d">25</text>
<text transform="translate(919.16 773.5) rotate(-90) translate(0 0) scale(1.19 1)" x="-67.45 -60.35 -53.25 -46.15" class="m" font-size="14.2" fill="#3d3d3d">2011</text><text transform="translate(919.16 773.5) rotate(-90) translate(0 0) scale(1.72 1)" x="-26.93" class="m" font-size="14.2" fill="#3d3d3d">-</text><text transform="translate(919.16 773.5) rotate(-90) translate(0 0) scale(1.19 1)" x="-31.95 -24.85" class="m" font-size="14.2" fill="#3d3d3d">10</text><text transform="translate(919.16 773.5) rotate(-90) translate(0 0) scale(1.72 1)" x="-12.24" class="m" font-size="14.2" fill="#3d3d3d">-</text><text transform="translate(919.16 773.5) rotate(-90) translate(0 0) scale(1.19 1)" x="-10.65 -3.55" class="m" font-size="14.2" fill="#3d3d3d">06</text>
<text transform="translate(933.25 773.5) rotate(-90) translate(0 0) scale(1.19 1)" x="-67.45 -60.35 -53.25 -46.15" class="m" font-size="14.2" fill="#3d3d3d">2011</text><text transform="translate(933.25 773.5) rotate(-90) translate(0 0) scale(1.72 1)" x="-26.93" class="m" font-size="14.2" fill="#3d3d3d">-</text><text transform="translate(933.25 773.5) rotate(-90) translate(0 0) scale(1.19 1)" x="-31.95 -24.85" class="m" font-size="14.2" fill="#3d3d3d">02</text><text transform="translate(933.25 773.5) rotate(-90) translate(0 0) scale(1.72 1)" x="-12.24" class="m" font-size="14.2" fill="#3d3d3d">-</text><text transform="translate(933.25 773.5) rotate(-90) translate(0 0) scale(1.19 1)" x="-10.65 -3.55" class="m" font-size="14.2" fill="#3d3d3d">18</text>
<text transform="translate(947.34 773.5) rotate(-90) translate(0 0) scale(1.19 1)" x="-67.45 -60.35 -53.25 -46.15" class="m" font-size="14.2" fill="#3d3d3d">2010</text><text transform="translate(947.34 773.5) rotate(-90) translate(0 0) scale(1.72 1)" x="-26.93" class="m" font-size="14.2" fill="#3d3d3d">-</text><text transform="translate(947.34 773.5) rotate(-90) translate(0 0) scale(1.19 1)" x="-31.95 -24.85" class="m" font-size="14.2" fill="#3d3d3d">06</text><text transform="translate(947.34 773.5) rotate(-90) translate(0 0) scale(1.72 1)" x="-12.24" class="m" font-size="14.2" fill="#3d3d3d">-</text><text transform="translate(947.34 773.5) rotate(-90) translate(0 0) scale(1.19 1)" x="-10.65 -3.55" class="m" font-size="14.2" fill="#3d3d3d">25</text>
<text transform="translate(961.43 773.5) rotate(-90) translate(0 0) scale(1.19 1)" x="-67.45 -60.35 -53.25 -46.15" class="m" font-size="14.2" fill="#3d3d3d">2009</text><text transform="translate(961.43 773.5) rotate(-90) translate(0 0) scale(1.72 1)" x="-26.93" class="m" font-size="14.2" fill="#3d3d3d">-</text><text transform="translate(961.43 773.5) rotate(-90) translate(0 0) scale(1.19 1)" x="-31.95 -24.85" class="m" font-size="14.2" fill="#3d3d3d">10</text><text transform="translate(961.43 773.5) rotate(-90) translate(0 0) scale(1.72 1)" x="-12.24" class="m" font-size="14.2" fill="#3d3d3d">-</text><text transform="translate(961.43 773.5) rotate(-90) translate(0 0) scale(1.19 1)" x="-10.65 -3.55" class="m" font-size="14.2" fill="#3d3d3d">23</text>
<text transform="translate(975.52 773.5) rotate(-90) translate(0 0) scale(1.19 1)" x="-67.45 -60.35 -53.25 -46.15" class="m" font-size="14.2" fill="#3d3d3d">2009</text><text transform="translate(975.52 773.5) rotate(-90) translate(0 0) scale(1.72 1)" x="-26.93" class="m" font-size="14.2" fill="#3d3d3d">-</text><text transform="translate(975.52 773.5) rotate(-90) translate(0 0) scale(1.19 1)" x="-31.95 -24.85" class="m" font-size="14.2" fill="#3d3d3d">02</text><text transform="translate(975.52 773.5) rotate(-90) translate(0 0) scale(1.72 1)" x="-12.24" class="m" font-size="14.2" fill="#3d3d3d">-</text><text transform="translate(975.52 773.5) rotate(-90) translate(0 0) scale(1.19 1)" x="-10.65 -3.55" class="m" font-size="14.2" fill="#3d3d3d">28</text>
<text transform="translate(989.61 773.5) rotate(-90) translate(0 0) scale(1.19 1)" x="-67.45 -60.35 -53.25 -46.15" class="m" font-size="14.2" fill="#3d3d3d">2008</text><text transform="translate(989.61 773.5) rotate(-90) translate(0 0) scale(1.72 1)" x="-26.93" class="m" font-size="14.2" fill="#3d3d3d">-</text><text transform="translate(989.61 773.5) rotate(-90) translate(0 0) scale(1.19 1)" x="-31.95 -24.85" class="m" font-size="14.2" fill="#3d3d3d">07</text><text transform="translate(989.61 773.5) rotate(-90) translate(0 0) scale(1.72 1)" x="-12.24" class="m" font-size="14.2" fill="#3d3d3d">-</text><text transform="translate(989.61 773.5) rotate(-90) translate(0 0) scale(1.19 1)" x="-10.65 -3.55" class="m" font-size="14.2" fill="#3d3d3d">11</text>
<text transform="translate(1003.7 773.5) rotate(-90) translate(0 0) scale(1.19 1)" x="-67.45 -60.35 -53.25 -46.15" class="m" font-size="14.2" fill="#3d3d3d">2007</text><text transform="translate(1003.7 773.5) rotate(-90) translate(0 0) scale(1.72 1)" x="-26.93" class="m" font-size="14.2" fill="#3d3d3d">-</text><text transform="translate(1003.7 773.5) rotate(-90) translate(0 0) scale(1.19 1)" x="-31.95 -24.85" class="m" font-size="14.2" fill="#3d3d3d">11</text><text transform="translate(1003.7 773.5) rotate(-90) translate(0 0) scale(1.72 1)" x="-12.24" class="m" font-size="14.2" fill="#3d3d3d">-</text><text transform="translate(1003.7 773.5) rotate(-90) translate(0 0) scale(1.19 1)" x="-10.65 -3.55" class="m" font-size="14.2" fill="#3d3d3d">09</text>
<text transform="translate(1017.79 773.5) rotate(-90) translate(0 0) scale(1.19 1)" x="-67.45 -60.35 -53.25 -46.15" class="m" font-size="14.2" fill="#3d3d3d">2007</text><text transform="translate(1017.79 773.5) rotate(-90) translate(0 0) scale(1.72 1)" x="-26.93" class="m" font-size="14.2" fill="#3d3d3d">-</text><text transform="translate(1017.79 773.5) rotate(-90) translate(0 0) scale(1.19 1)" x="-31.95 -24.85" class="m" font-size="14.2" fill="#3d3d3d">03</text><text transform="translate(1017.79 773.5) rotate(-90) translate(0 0) scale(1.72 1)" x="-12.24" class="m" font-size="14.2" fill="#3d3d3d">-</text><text transform="translate(1017.79 773.5) rotate(-90) translate(0 0) scale(1.19 1)" x="-10.65 -3.55" class="m" font-size="14.2" fill="#3d3d3d">23</text>
<text transform="translate(1031.88 773.5) rotate(-90) translate(0 0) scale(1.19 1)" x="-67.45 -60.35 -53.25 -46.15" class="m" font-size="14.2" fill="#3d3d3d">2006</text><text transform="translate(1031.88 773.5) rotate(-90) translate(0 0) scale(1.72 1)" x="-26.93" class="m" font-size="14.2" fill="#3d3d3d">-</text><text transform="translate(1031.88 773.5) rotate(-90) translate(0 0) scale(1.19 1)" x="-31.95 -24.85" class="m" font-size="14.2" fill="#3d3d3d">07</text><text transform="translate(1031.88 773.5) rotate(-90) translate(0 0) scale(1.72 1)" x="-12.24" class="m" font-size="14.2" fill="#3d3d3d">-</text><text transform="translate(1031.88 773.5) rotate(-90) translate(0 0) scale(1.19 1)" x="-10.65 -3.55" class="m" font-size="14.2" fill="#3d3d3d">31</text>
<text transform="translate(1045.97 773.5) rotate(-90) translate(0 0) scale(1.19 1)" x="-67.45 -60.35 -53.25 -46.15" class="m" font-size="14.2" fill="#3d3d3d">2005</text><text transform="translate(1045.97 773.5) rotate(-90) translate(0 0) scale(1.72 1)" x="-26.93" class="m" font-size="14.2" fill="#3d3d3d">-</text><text transform="translate(1045.97 773.5) rotate(-90) translate(0 0) scale(1.19 1)" x="-31.95 -24.85" class="m" font-size="14.2" fill="#3d3d3d">12</text><text transform="translate(1045.97 773.5) rotate(-90) translate(0 0) scale(1.72 1)" x="-12.24" class="m" font-size="14.2" fill="#3d3d3d">-</text><text transform="translate(1045.97 773.5) rotate(-90) translate(0 0) scale(1.19 1)" x="-10.65 -3.55" class="m" font-size="14.2" fill="#3d3d3d">02</text>
<text transform="translate(1060.06 773.5) rotate(-90) translate(0 0) scale(1.19 1)" x="-67.45 -60.35 -53.25 -46.15" class="m" font-size="14.2" fill="#3d3d3d">2005</text><text transform="translate(1060.06 773.5) rotate(-90) translate(0 0) scale(1.72 1)" x="-26.93" class="m" font-size="14.2" fill="#3d3d3d">-</text><text transform="translate(1060.06 773.5) rotate(-90) translate(0 0) scale(1.19 1)" x="-31.95 -24.85" class="m" font-size="14.2" fill="#3d3d3d">04</text><text transform="translate(1060.06 773.5) rotate(-90) translate(0 0) scale(1.72 1)" x="-12.24" class="m" font-size="14.2" fill="#3d3d3d">-</text><text transform="translate(1060.06 773.5) rotate(-90) translate(0 0) scale(1.19 1)" x="-10.65 -3.55" class="m" font-size="14.2" fill="#3d3d3d">15</text>
<text transform="translate(1074.15 773.5) rotate(-90) translate(0 0) scale(1.19 1)" x="-67.45 -60.35 -53.25 -46.15" class="m" font-size="14.2" fill="#3d3d3d">2004</text><text transform="translate(1074.15 773.5) rotate(-90) translate(0 0) scale(1.72 1)" x="-26.93" class="m" font-size="14.2" fill="#3d3d3d">-</text><text transform="translate(1074.15 773.5) rotate(-90) translate(0 0) scale(1.19 1)" x="-31.95 -24.85" class="m" font-size="14.2" fill="#3d3d3d">08</text><text transform="translate(1074.15 773.5) rotate(-90) translate(0 0) scale(1.72 1)" x="-12.24" class="m" font-size="14.2" fill="#3d3d3d">-</text><text transform="translate(1074.15 773.5) rotate(-90) translate(0 0) scale(1.19 1)" x="-10.65 -3.55" class="m" font-size="14.2" fill="#3d3d3d">20</text>
</g>
<g id="c5">
<text transform="translate(363 918.75) scale(1 1.17) translate(0 6.75)" x="-51.56 -32.81 -14.06 4.69" class="m" font-size="18.75" fill="#4a4a4a">库存天数</text><text transform="translate(363 918.75) scale(1 1.17) translate(0 6.75) scale(0.85 1)" x="22.06" class="m" font-size="18.75" fill="#4a4a4a">:</text><text transform="translate(363 918.75) scale(1 1.17) translate(0 6.75)" x="32.81 51.56" class="m" font-size="18.75" fill="#4a4a4a">坯布</text>
<line x1="203" y1="956.25" x2="569" y2="956.25" stroke="#d6d6d6" stroke-width="1.5"/>
<line x1="203" y1="981.1" x2="569" y2="981.1" stroke="#d6d6d6" stroke-width="1.5"/>
<line x1="203" y1="1005.95" x2="569" y2="1005.95" stroke="#d6d6d6" stroke-width="1.5"/>
<line x1="203" y1="1030.8" x2="569" y2="1030.8" stroke="#d6d6d6" stroke-width="1.5"/>
<line x1="203" y1="1055.65" x2="569" y2="1055.65" stroke="#d6d6d6" stroke-width="1.5"/>
<line x1="203" y1="1080.5" x2="569" y2="1080.5" stroke="#d6d6d6" stroke-width="1.5"/>
<line x1="203" y1="1105.35" x2="569" y2="1105.35" stroke="#d6d6d6" stroke-width="1.5"/>
<line x1="203" y1="1130.2" x2="569" y2="1130.2" stroke="#d6d6d6" stroke-width="1.5"/>
<line x1="203" y1="1155.05" x2="569" y2="1155.05" stroke="#d6d6d6" stroke-width="1.5"/>
<line x1="203" y1="1179.9" x2="569" y2="1179.9" stroke="#d6d6d6" stroke-width="1.5"/>
<line x1="203" y1="1204.75" x2="569" y2="1204.75" stroke="#d6d6d6" stroke-width="1.5"/>
<line x1="203" y1="1229.6" x2="569" y2="1229.6" stroke="#d6d6d6" stroke-width="1.5"/>
<text transform="translate(192.5 961.85) scale(0.72 1)" x="-52.33 -42.81 -33.3 -25.5 -14.27 -4.76" class="m" font-size="17.3" fill="#383838">160.00</text>
<text transform="translate(192.5 986.7) scale(0.72 1)" x="-52.33 -42.81 -33.3 -25.5 -14.27 -4.76" class="m" font-size="17.3" fill="#383838">140.00</text>
<text transform="translate(192.5 1011.55) scale(0.72 1)" x="-52.33 -42.81 -33.3 -25.5 -14.27 -4.76" class="m" font-size="17.3" fill="#383838">120.00</text>
<text transform="translate(192.5 1036.4) scale(0.72 1)" x="-52.33 -42.81 -33.3 -25.5 -14.27 -4.76" class="m" font-size="17.3" fill="#383838">100.00</text>
<text transform="translate(192.5 1061.25) scale(0.72 1)" x="-42.81 -33.3 -25.5 -14.27 -4.76" class="m" font-size="17.3" fill="#383838">80.00</text>
<text transform="translate(192.5 1086.1) scale(0.72 1)" x="-42.81 -33.3 -25.5 -14.27 -4.76" class="m" font-size="17.3" fill="#383838">60.00</text>
<text transform="translate(192.5 1110.95) scale(0.72 1)" x="-42.81 -33.3 -25.5 -14.27 -4.76" class="m" font-size="17.3" fill="#383838">40.00</text>
<text transform="translate(192.5 1135.8) scale(0.72 1)" x="-42.81 -33.3 -25.5 -14.27 -4.76" class="m" font-size="17.3" fill="#383838">20.00</text>
<text transform="translate(192.5 1160.65) scale(0.72 1)" x="-33.3 -25.5 -14.27 -4.76" class="m" font-size="17.3" fill="#383838">0.00</text>
<text transform="translate(192.5 1185.5) scale(1.3 1)" x="-29.07" class="m" font-size="17.3" fill="#383838">-</text><text transform="translate(192.5 1185.5) scale(0.72 1)" x="-42.81 -33.3 -25.5 -14.27 -4.76" class="m" font-size="17.3" fill="#383838">20.00</text>
<text transform="translate(192.5 1210.35) scale(1.3 1)" x="-29.07" class="m" font-size="17.3" fill="#383838">-</text><text transform="translate(192.5 1210.35) scale(0.72 1)" x="-42.81 -33.3 -25.5 -14.27 -4.76" class="m" font-size="17.3" fill="#383838">40.00</text>
<text transform="translate(192.5 1235.2) scale(1.3 1)" x="-29.07" class="m" font-size="17.3" fill="#383838">-</text><text transform="translate(192.5 1235.2) scale(0.72 1)" x="-42.81 -33.3 -25.5 -14.27 -4.76" class="m" font-size="17.3" fill="#383838">60.00</text>
<path d="M203.71 1155.05V1130.07 M211.55 1155.05V1141.91 M203.71 1155.05V1205.39" stroke="#5b9bd5" stroke-width="0.8" fill="none" opacity="0.85"/>
<path d="M205.42 1155.05V991.13 M207.42 1155.05V1061.31 M209.41 1155.05V1079.86 M205.42 1155.05V1213.95" stroke="#5b9bd5" stroke-width="0.9" fill="none" opacity="0.85"/>
<path d="M204.56 1155.05V1193.98 M206.56 1155.05V1182.57" stroke="#5b9bd5" stroke-width="0.7" fill="none" opacity="0.85"/>
<path d="M203.71 1155.05V1145.47 M204.19 1155.05V1146.45 M204.68 1155.05V1146.13 M205.16 1155.05V1142.08 M205.65 1155.05V1147.29 M206.13 1155.05V1147.05 M206.62 1155.05V1144.59 M207.1 1155.05V1152.15 M207.59 1155.05V1149.12 M208.07 1155.05V1150.64 M208.56 1155.05V1153.41 M209.04 1155.05V1153.59 M209.53 1155.05V1152.57 M210.01 1155.05V1149.05 M210.5 1155.05V1150.24 M210.98 1155.05V1154.65 M211.47 1155.05V1150.7" stroke="#5b9bd5" stroke-width="0.6" fill="none" opacity="0.95"/>
<path d="M203.71 1155.05V1179.62 M204.19 1155.05V1181.77 M204.68 1155.05V1181.39 M205.16 1155.05V1176.03 M205.65 1155.05V1177.98 M206.13 1155.05V1171.72 M206.62 1155.05V1173.1 M207.1 1155.05V1176.69 M207.59 1155.05V1172.46 M208.07 1155.05V1180.3 M208.56 1155.05V1171.52 M209.04 1155.05V1171.14 M209.53 1155.05V1170.86 M210.01 1155.05V1179.21 M210.5 1155.05V1171.58 M210.98 1155.05V1178.93 M211.47 1155.05V1179.8" stroke="#5b9bd5" stroke-width="0.6" fill="none" opacity="0.8"/>
<path d="M267.74 1155.05V1116.29 M270.97 1155.05V1112.42 M274.45 1155.05V1112.42 M277.68 1155.05V1117.97 M279.1 1155.05V1119.26 M280.39 1155.05V1118.87 M282.19 1155.05V1115.39 M285.42 1155.05V1116.29 M288.65 1155.05V1117.19 M292.26 1155.05V1117.19 M295.74 1155.05V1120.16 M298.97 1155.05V1121.84 M302.58 1155.05V1123.65 M305.55 1155.05V1126.35 M308.77 1155.05V1126.35 M312.39 1155.05V1125.32 M315.48 1155.05V1122.1 M318.71 1155.05V1120.16 M320.9 1155.05V1120.16 M324.52 1155.05V1120.81 M327.74 1155.05V1121.84 M331.35 1155.05V1123.39 M334.58 1155.05V1124.03 M338.06 1155.05V1125.58 M341.29 1155.05V1120.16 M344.13 1155.05V1121.19 M347.48 1155.05V1122.74 M350.58 1155.05V1124.03 M353.68 1155.05V1121.45 M357.42 1155.05V1120.16 M360.39 1155.05V1119.13 M362.58 1155.05V1119.77 M365.55 1155.05V1120.16 M368.39 1155.05V1119.13 M371.48 1155.05V1120.16 M374.58 1155.05V1123.13 M377.68 1155.05V1121.45 M380.9 1155.05V1122.35 M383.87 1155.05V1124.68 M387.35 1155.05V1127.26 M389.68 1155.05V1129.58 M393.55 1155.05V1127.26 M394.84 1155.05V1129.58 M397.42 1155.05V1130.1 M400 1155.05V1128.94 M402.32 1155.05V1129.19 M405.81 1155.05V1130.87 M409.42 1155.05V1132.16 M412.9 1155.05V1130.48 M416.03 1155.05V1130.87 M419.26 1155.05V1130.87 M422.48 1155.05V1130.87 M425.97 1155.05V1127.26 M429.19 1155.05V1125.97 M432.03 1155.05V1126.87 M435 1155.05V1126.87 M438.23 1155.05V1130.48 M441.19 1155.05V1130.48 M444.68 1155.05V1130.1 M447.65 1155.05V1129.19 M450.87 1155.05V1127.52 M453.06 1155.05V1128.29 M456.55 1155.05V1125.06 M460.16 1155.05V1125.97 M463 1155.05V1125.71 M466.23 1155.05V1127.26 M468.29 1155.05V1128.29 M471.77 1155.05V1130.1 M475.26 1155.05V1128.16 M478.48 1155.05V1128.55 M481.06 1155.05V1128.55 M484.68 1155.05V1129.19 M488.29 1155.05V1129.19 M492.16 1155.05V1126.61 M495 1155.05V1124.03 M498.61 1155.05V1125.32 M501.71 1155.05V1125.32 M505.32 1155.05V1125.71 M508.29 1155.05V1125.71 M511.77 1155.05V1124.42 M515 1155.05V1124.03 M518.48 1155.05V1123.39 M522.1 1155.05V1123.39 M525.71 1155.05V1119.77 M528.55 1155.05V1120.16 M531.77 1155.05V1119.52 M535.39 1155.05V1120.42 M538.87 1155.05V1121.71 M540.81 1155.05V1122.74 M544.68 1155.05V1122.35 M548.16 1155.05V1129.19 M551.13 1155.05V1135.9 M554.61 1155.05V1133.06 M558.23 1155.05V1135.26 M561.45 1155.05V1138.23 M564.94 1155.05V1136.29 M568.81 1155.05V1136.03" stroke="#5b9bd5" stroke-width="1.3" fill="none" opacity="0.55"/>
<rect x="202.5" y="1154.2" width="367" height="5.8" fill="#d6d6d6"/>
<text transform="translate(209.71 1165.8) rotate(-90) scale(1.3 1)" font-size="12.4" fill="#6b6b6b" text-anchor="end" font-family='"Liberation Serif","Noto Serif CJK SC",serif'>单位</text>
<text transform="translate(222.19 1165.3) rotate(-90) translate(0 0) scale(1.19 1)" x="-46.15 -39.05 -31.95 -24.85" class="m" font-size="14.2" fill="#3d3d3d">2014</text><text transform="translate(222.19 1165.3) rotate(-90) translate(0 0) scale(1.72 1)" x="-12.24" class="m" font-size="14.2" fill="#3d3d3d">-</text><text transform="translate(222.19 1165.3) rotate(-90) translate(0 0) scale(1.19 1)" x="-10.65 -3.55" class="m" font-size="14.2" fill="#3d3d3d">02</text>
<text transform="translate(236.37 1165.3) rotate(-90) translate(0 0) scale(1.19 1)" x="-46.15 -39.05 -31.95 -24.85" class="m" font-size="14.2" fill="#3d3d3d">2007</text><text transform="translate(236.37 1165.3) rotate(-90) translate(0 0) scale(1.72 1)" x="-12.24" class="m" font-size="14.2" fill="#3d3d3d">-</text><text transform="translate(236.37 1165.3) rotate(-90) translate(0 0) scale(1.19 1)" x="-10.65 -3.55" class="m" font-size="14.2" fill="#3d3d3d">01</text>
<text transform="translate(250.55 1165.3) rotate(-90) translate(0 0) scale(1.19 1)" x="-46.15 -39.05 -31.95 -24.85" class="m" font-size="14.2" fill="#3d3d3d">1999</text><text transform="translate(250.55 1165.3) rotate(-90) translate(0 0) scale(1.72 1)" x="-12.24" class="m" font-size="14.2" fill="#3d3d3d">-</text><text transform="translate(250.55 1165.3) rotate(-90) translate(0 0) scale(1.19 1)" x="-10.65 -3.55" class="m" font-size="14.2" fill="#3d3d3d">12</text>
<text transform="translate(264.73 1165.3) rotate(-90) translate(0 0) scale(1.19 1)" x="-46.15 -39.05 -31.95 -24.85" class="m" font-size="14.2" fill="#3d3d3d">1992</text><text transform="translate(264.73 1165.3) rotate(-90) translate(0 0) scale(1.72 1)" x="-12.24" class="m" font-size="14.2" fill="#3d3d3d">-</text><text transform="translate(264.73 1165.3) rotate(-90) translate(0 0) scale(1.19 1)" x="-10.65 -3.55" class="m" font-size="14.2" fill="#3d3d3d">11</text>
<text transform="translate(278.91 1165.3) rotate(-90) translate(0 0) scale(1.19 1)" x="-67.45 -60.35 -53.25 -46.15" class="m" font-size="14.2" fill="#3d3d3d">2019</text><text transform="translate(278.91 1165.3) rotate(-90) translate(0 0) scale(1.72 1)" x="-26.93" class="m" font-size="14.2" fill="#3d3d3d">-</text><text transform="translate(278.91 1165.3) rotate(-90) translate(0 0) scale(1.19 1)" x="-31.95 -24.85" class="m" font-size="14.2" fill="#3d3d3d">06</text><text transform="translate(278.91 1165.3) rotate(-90) translate(0 0) scale(1.72 1)" x="-12.24" class="m" font-size="14.2" fill="#3d3d3d">-</text><text transform="translate(278.91 1165.3) rotate(-90) translate(0 0) scale(1.19 1)" x="-10.65 -3.55" class="m" font-size="14.2" fill="#3d3d3d">03</text>
<text transform="translate(293.09 1165.3) rotate(-90) translate(0 0) scale(1.19 1)" x="-67.45 -60.35 -53.25 -46.15" class="m" font-size="14.2" fill="#3d3d3d">2018</text><text transform="translate(293.09 1165.3) rotate(-90) translate(0 0) scale(1.72 1)" x="-26.93" class="m" font-size="14.2" fill="#3d3d3d">-</text><text transform="translate(293.09 1165.3) rotate(-90) translate(0 0) scale(1.19 1)" x="-31.95 -24.85" class="m" font-size="14.2" fill="#3d3d3d">12</text><text transform="translate(293.09 1165.3) rotate(-90) translate(0 0) scale(1.72 1)" x="-12.24" class="m" font-size="14.2" fill="#3d3d3d">-</text><text transform="translate(293.09 1165.3) rotate(-90) translate(0 0) scale(1.19 1)" x="-10.65 -3.55" class="m" font-size="14.2" fill="#3d3d3d">05</text>
<text transform="translate(307.27 1165.3) rotate(-90) translate(0 0) scale(1.19 1)" x="-67.45 -60.35 -53.25 -46.15" class="m" font-size="14.2" fill="#3d3d3d">2018</text><text transform="translate(307.27 1165.3) rotate(-90) translate(0 0) scale(1.72 1)" x="-26.93" class="m" font-size="14.2" fill="#3d3d3d">-</text><text transform="translate(307.27 1165.3) rotate(-90) translate(0 0) scale(1.19 1)" x="-31.95 -24.85" class="m" font-size="14.2" fill="#3d3d3d">07</text><text transform="translate(307.27 1165.3) rotate(-90) translate(0 0) scale(1.72 1)" x="-12.24" class="m" font-size="14.2" fill="#3d3d3d">-</text><text transform="translate(307.27 1165.3) rotate(-90) translate(0 0) scale(1.19 1)" x="-10.65 -3.55" class="m" font-size="14.2" fill="#3d3d3d">31</text>
<text transform="translate(321.45 1165.3) rotate(-90) translate(0 0) scale(1.19 1)" x="-67.45 -60.35 -53.25 -46.15" class="m" font-size="14.2" fill="#3d3d3d">2018</text><text transform="translate(321.45 1165.3) rotate(-90) translate(0 0) scale(1.72 1)" x="-26.93" class="m" font-size="14.2" fill="#3d3d3d">-</text><text transform="translate(321.45 1165.3) rotate(-90) translate(0 0) scale(1.19 1)" x="-31.95 -24.85" class="m" font-size="14.2" fill="#3d3d3d">03</text><text transform="translate(321.45 1165.3) rotate(-90) translate(0 0) scale(1.72 1)" x="-12.24" class="m" font-size="14.2" fill="#3d3d3d">-</text><text transform="translate(321.45 1165.3) rotate(-90) translate(0 0) scale(1.19 1)" x="-10.65 -3.55" class="m" font-size="14.2" fill="#3d3d3d">21</text>
<text transform="translate(335.63 1165.3) rotate(-90) translate(0 0) scale(1.19 1)" x="-67.45 -60.35 -53.25 -46.15" class="m" font-size="14.2" fill="#3d3d3d">2017</text><text transform="translate(335.63 1165.3) rotate(-90) translate(0 0) scale(1.72 1)" x="-26.93" class="m" font-size="14.2" fill="#3d3d3d">-</text><text transform="translate(335.63 1165.3) rotate(-90) translate(0 0) scale(1.19 1)" x="-31.95 -24.85" class="m" font-size="14.2" fill="#3d3d3d">11</text><text transform="translate(335.63 1165.3) rotate(-90) translate(0 0) scale(1.72 1)" x="-12.24" class="m" font-size="14.2" fill="#3d3d3d">-</text><text transform="translate(335.63 1165.3) rotate(-90) translate(0 0) scale(1.19 1)" x="-10.65 -3.55" class="m" font-size="14.2" fill="#3d3d3d">03</text>
<text transform="translate(349.81 1165.3) rotate(-90) translate(0 0) scale(1.19 1)" x="-67.45 -60.35 -53.25 -46.15" class="m" font-size="14.2" fill="#3d3d3d">2017</text><text transform="translate(349.81 1165.3) rotate(-90) translate(0 0) scale(1.72 1)" x="-26.93" class="m" font-size="14.2" fill="#3d3d3d">-</text><text transform="translate(349.81 1165.3) rotate(-90) translate(0 0) scale(1.19 1)" x="-31.95 -24.85" class="m" font-size="14.2" fill="#3d3d3d">06</text><text transform="translate(349.81 1165.3) rotate(-90) translate(0 0) scale(1.72 1)" x="-12.24" class="m" font-size="14.2" fill="#3d3d3d">-</text><text transform="translate(349.81 1165.3) rotate(-90) translate(0 0) scale(1.19 1)" x="-10.65 -3.55" class="m" font-size="14.2" fill="#3d3d3d">20</text>
<text transform="translate(363.99 1165.3) rotate(-90) translate(0 0) scale(1.19 1)" x="-67.45 -60.35 -53.25 -46.15" class="m" font-size="14.2" fill="#3d3d3d">2017</text><text transform="translate(363.99 1165.3) rotate(-90) translate(0 0) scale(1.72 1)" x="-26.93" class="m" font-size="14.2" fill="#3d3d3d">-</text><text transform="translate(363.99 1165.3) rotate(-90) translate(0 0) scale(1.19 1)" x="-31.95 -24.85" class="m" font-size="14.2" fill="#3d3d3d">02</text><text transform="translate(363.99 1165.3) rotate(-90) translate(0 0) scale(1.72 1)" x="-12.24" class="m" font-size="14.2" fill="#3d3d3d">-</text><text transform="translate(363.99 1165.3) rotate(-90) translate(0 0) scale(1.19 1)" x="-10.65 -3.55" class="m" font-size="14.2" fill="#3d3d3d">09</text>
<text transform="translate(378.17 1165.3) rotate(-90) translate(0 0) scale(1.19 1)" x="-67.45 -60.35 -53.25 -46.15" class="m" font-size="14.2" fill="#3d3d3d">2016</text><text transform="translate(378.17 1165.3) rotate(-90) translate(0 0) scale(1.72 1)" x="-26.93" class="m" font-size="14.2" fill="#3d3d3d">-</text><text transform="translate(378.17 1165.3) rotate(-90) translate(0 0) scale(1.19 1)" x="-31.95 -24.85" class="m" font-size="14.2" fill="#3d3d3d">09</text><text transform="translate(378.17 1165.3) rotate(-90) translate(0 0) scale(1.72 1)" x="-12.24" class="m" font-size="14.2" fill="#3d3d3d">-</text><text transform="translate(378.17 1165.3) rotate(-90) translate(0 0) scale(1.19 1)" x="-10.65 -3.55" class="m" font-size="14.2" fill="#3d3d3d">13</text>
<text transform="translate(392.35 1165.3) rotate(-90) translate(0 0) scale(1.19 1)" x="-67.45 -60.35 -53.25 -46.15" class="m" font-size="14.2" fill="#3d3d3d">2016</text><text transform="translate(392.35 1165.3) rotate(-90) translate(0 0) scale(1.72 1)" x="-26.93" class="m" font-size="14.2" fill="#3d3d3d">-</text><text transform="translate(392.35 1165.3) rotate(-90) translate(0 0) scale(1.19 1)" x="-31.95 -24.85" class="m" font-size="14.2" fill="#3d3d3d">04</text><text transform="translate(392.35 1165.3) rotate(-90) translate(0 0) scale(1.72 1)" x="-12.24" class="m" font-size="14.2" fill="#3d3d3d">-</text><text transform="translate(392.35 1165.3) rotate(-90) translate(0 0) scale(1.19 1)" x="-10.65 -3.55" class="m" font-size="14.2" fill="#3d3d3d">25</text>
<text transform="translate(406.53 1165.3) rotate(-90) translate(0 0) scale(1.19 1)" x="-67.45 -60.35 -53.25 -46.15" class="m" font-size="14.2" fill="#3d3d3d">2015</text><text transform="translate(406.53 1165.3) rotate(-90) translate(0 0) scale(1.72 1)" x="-26.93" class="m" font-size="14.2" fill="#3d3d3d">-</text><text transform="translate(406.53 1165.3) rotate(-90) translate(0 0) scale(1.19 1)" x="-31.95 -24.85" class="m" font-size="14.2" fill="#3d3d3d">11</text><text transform="translate(406.53 1165.3) rotate(-90) translate(0 0) scale(1.72 1)" x="-12.24" class="m" font-size="14.2" fill="#3d3d3d">-</text><text transform="translate(406.53 1165.3) rotate(-90) translate(0 0) scale(1.19 1)" x="-10.65 -3.55" class="m" font-size="14.2" fill="#3d3d3d">10</text>
<text transform="translate(420.71 1165.3) rotate(-90) translate(0 0) scale(1.19 1)" x="-67.45 -60.35 -53.25 -46.15" class="m" font-size="14.2" fill="#3d3d3d">2015</text><text transform="translate(420.71 1165.3) rotate(-90) translate(0 0) scale(1.72 1)" x="-26.93" class="m" font-size="14.2" fill="#3d3d3d">-</text><text transform="translate(420.71 1165.3) rotate(-90) translate(0 0) scale(1.19 1)" x="-31.95 -24.85" class="m" font-size="14.2" fill="#3d3d3d">06</text><text transform="translate(420.71 1165.3) rotate(-90) translate(0 0) scale(1.72 1)" x="-12.24" class="m" font-size="14.2" fill="#3d3d3d">-</text><text transform="translate(420.71 1165.3) rotate(-90) translate(0 0) scale(1.19 1)" x="-10.65 -3.55" class="m" font-size="14.2" fill="#3d3d3d">30</text>
<text transform="translate(434.89 1165.3) rotate(-90) translate(0 0) scale(1.19 1)" x="-67.45 -60.35 -53.25 -46.15" class="m" font-size="14.2" fill="#3d3d3d">2015</text><text transform="translate(434.89 1165.3) rotate(-90) translate(0 0) scale(1.72 1)" x="-26.93" class="m" font-size="14.2" fill="#3d3d3d">-</text><text transform="translate(434.89 1165.3) rotate(-90) translate(0 0) scale(1.19 1)" x="-31.95 -24.85" class="m" font-size="14.2" fill="#3d3d3d">02</text><text transform="translate(434.89 1165.3) rotate(-90) translate(0 0) scale(1.72 1)" x="-12.24" class="m" font-size="14.2" fill="#3d3d3d">-</text><text transform="translate(434.89 1165.3) rotate(-90) translate(0 0) scale(1.19 1)" x="-10.65 -3.55" class="m" font-size="14.2" fill="#3d3d3d">23</text>
<text transform="translate(449.07 1165.3) rotate(-90) translate(0 0) scale(1.19 1)" x="-67.45 -60.35 -53.25 -46.15" class="m" font-size="14.2" fill="#3d3d3d">2014</text><text transform="translate(449.07 1165.3) rotate(-90) translate(0 0) scale(1.72 1)" x="-26.93" class="m" font-size="14.2" fill="#3d3d3d">-</text><text transform="translate(449.07 1165.3) rotate(-90) translate(0 0) scale(1.19 1)" x="-31.95 -24.85" class="m" font-size="14.2" fill="#3d3d3d">09</text><text transform="translate(449.07 1165.3) rotate(-90) translate(0 0) scale(1.72 1)" x="-12.24" class="m" font-size="14.2" fill="#3d3d3d">-</text><text transform="translate(449.07 1165.3) rotate(-90) translate(0 0) scale(1.19 1)" x="-10.65 -3.55" class="m" font-size="14.2" fill="#3d3d3d">30</text>
<text transform="translate(463.25 1165.3) rotate(-90) translate(0 0) scale(1.19 1)" x="-67.45 -60.35 -53.25 -46.15" class="m" font-size="14.2" fill="#3d3d3d">2014</text><text transform="translate(463.25 1165.3) rotate(-90) translate(0 0) scale(1.72 1)" x="-26.93" class="m" font-size="14.2" fill="#3d3d3d">-</text><text transform="translate(463.25 1165.3) rotate(-90) translate(0 0) scale(1.19 1)" x="-31.95 -24.85" class="m" font-size="14.2" fill="#3d3d3d">05</text><text transform="translate(463.25 1165.3) rotate(-90) translate(0 0) scale(1.72 1)" x="-12.24" class="m" font-size="14.2" fill="#3d3d3d">-</text><text transform="translate(463.25 1165.3) rotate(-90) translate(0 0) scale(1.19 1)" x="-10.65 -3.55" class="m" font-size="14.2" fill="#3d3d3d">14</text>
<text transform="translate(477.43 1165.3) rotate(-90) translate(0 0) scale(1.19 1)" x="-67.45 -60.35 -53.25 -46.15" class="m" font-size="14.2" fill="#3d3d3d">2013</text><text transform="translate(477.43 1165.3) rotate(-90) translate(0 0) scale(1.72 1)" x="-26.93" class="m" font-size="14.2" fill="#3d3d3d">-</text><text transform="translate(477.43 1165.3) rotate(-90) translate(0 0) scale(1.19 1)" x="-31.95 -24.85" class="m" font-size="14.2" fill="#3d3d3d">12</text><text transform="translate(477.43 1165.3) rotate(-90) translate(0 0) scale(1.72 1)" x="-12.24" class="m" font-size="14.2" fill="#3d3d3d">-</text><text transform="translate(477.43 1165.3) rotate(-90) translate(0 0) scale(1.19 1)" x="-10.65 -3.55" class="m" font-size="14.2" fill="#3d3d3d">20</text>
<text transform="translate(491.61 1165.3) rotate(-90) translate(0 0) scale(1.19 1)" x="-67.45 -60.35 -53.25 -46.15" class="m" font-size="14.2" fill="#3d3d3d">2013</text><text transform="translate(491.61 1165.3) rotate(-90) translate(0 0) scale(1.72 1)" x="-26.93" class="m" font-size="14.2" fill="#3d3d3d">-</text><text transform="translate(491.61 1165.3) rotate(-90) translate(0 0) scale(1.19 1)" x="-31.95 -24.85" class="m" font-size="14.2" fill="#3d3d3d">08</text><text transform="translate(491.61 1165.3) rotate(-90) translate(0 0) scale(1.72 1)" x="-12.24" class="m" font-size="14.2" fill="#3d3d3d">-</text><text transform="translate(491.61 1165.3) rotate(-90) translate(0 0) scale(1.19 1)" x="-10.65 -3.55" class="m" font-size="14.2" fill="#3d3d3d">13</text>
<text transform="translate(505.79 1165.3) rotate(-90) translate(0 0) scale(1.19 1)" x="-67.45 -60.35 -53.25 -46.15" class="m" font-size="14.2" fill="#3d3d3d">2013</text><text transform="translate(505.79 1165.3) rotate(-90) translate(0 0) scale(1.72 1)" x="-26.93" class="m" font-size="14.2" fill="#3d3d3d">-</text><text transform="translate(505.79 1165.3) rotate(-90) translate(0 0) scale(1.19 1)" x="-31.95 -24.85" class="m" font-size="14.2" fill="#3d3d3d">04</text><text transform="translate(505.79 1165.3) rotate(-90) translate(0 0) scale(1.72 1)" x="-12.24" class="m" font-size="14.2" fill="#3d3d3d">-</text><text transform="translate(505.79 1165.3) rotate(-90) translate(0 0) scale(1.19 1)" x="-10.65 -3.55" class="m" font-size="14.2" fill="#3d3d3d">05</text>
<text transform="translate(519.97 1165.3) rotate(-90) translate(0 0) scale(1.19 1)" x="-67.45 -60.35 -53.25 -46.15" class="m" font-size="14.2" fill="#3d3d3d">2012</text><text transform="translate(519.97 1165.3) rotate(-90) translate(0 0) scale(1.72 1)" x="-26.93" class="m" font-size="14.2" fill="#3d3d3d">-</text><text transform="translate(519.97 1165.3) rotate(-90) translate(0 0) scale(1.19 1)" x="-31.95 -24.85" class="m" font-size="14.2" fill="#3d3d3d">11</text><text transform="translate(519.97 1165.3) rotate(-90) translate(0 0) scale(1.72 1)" x="-12.24" class="m" font-size="14.2" fill="#3d3d3d">-</text><text transform="translate(519.97 1165.3) rotate(-90) translate(0 0) scale(1.19 1)" x="-10.65 -3.55" class="m" font-size="14.2" fill="#3d3d3d">30</text>
<text transform="translate(534.15 1165.3) rotate(-90) translate(0 0) scale(1.19 1)" x="-67.45 -60.35 -53.25 -46.15" class="m" font-size="14.2" fill="#3d3d3d">2012</text><text transform="translate(534.15 1165.3) rotate(-90) translate(0 0) scale(1.72 1)" x="-26.93" class="m" font-size="14.2" fill="#3d3d3d">-</text><text transform="translate(534.15 1165.3) rotate(-90) translate(0 0) scale(1.19 1)" x="-31.95 -24.85" class="m" font-size="14.2" fill="#3d3d3d">07</text><text transform="translate(534.15 1165.3) rotate(-90) translate(0 0) scale(1.72 1)" x="-12.24" class="m" font-size="14.2" fill="#3d3d3d">-</text><text transform="translate(534.15 1165.3) rotate(-90) translate(0 0) scale(1.19 1)" x="-10.65 -3.55" class="m" font-size="14.2" fill="#3d3d3d">25</text>
<text transform="translate(548.33 1165.3) rotate(-90) translate(0 0) scale(1.19 1)" x="-67.45 -60.35 -53.25 -46.15" class="m" font-size="14.2" fill="#3d3d3d">2012</text><text transform="translate(548.33 1165.3) rotate(-90) translate(0 0) scale(1.72 1)" x="-26.93" class="m" font-size="14.2" fill="#3d3d3d">-</text><text transform="translate(548.33 1165.3) rotate(-90) translate(0 0) scale(1.19 1)" x="-31.95 -24.85" class="m" font-size="14.2" fill="#3d3d3d">03</text><text transform="translate(548.33 1165.3) rotate(-90) translate(0 0) scale(1.72 1)" x="-12.24" class="m" font-size="14.2" fill="#3d3d3d">-</text><text transform="translate(548.33 1165.3) rotate(-90) translate(0 0) scale(1.19 1)" x="-10.65 -3.55" class="m" font-size="14.2" fill="#3d3d3d">12</text>
<text transform="translate(562.51 1165.3) rotate(-90) translate(0 0) scale(1.19 1)" x="-67.45 -60.35 -53.25 -46.15" class="m" font-size="14.2" fill="#3d3d3d">2011</text><text transform="translate(562.51 1165.3) rotate(-90) translate(0 0) scale(1.72 1)" x="-26.93" class="m" font-size="14.2" fill="#3d3d3d">-</text><text transform="translate(562.51 1165.3) rotate(-90) translate(0 0) scale(1.19 1)" x="-31.95 -24.85" class="m" font-size="14.2" fill="#3d3d3d">11</text><text transform="translate(562.51 1165.3) rotate(-90) translate(0 0) scale(1.72 1)" x="-12.24" class="m" font-size="14.2" fill="#3d3d3d">-</text><text transform="translate(562.51 1165.3) rotate(-90) translate(0 0) scale(1.19 1)" x="-10.65 -3.55" class="m" font-size="14.2" fill="#3d3d3d">04</text>
</g>
<g id="c6">
<text transform="translate(876.5 918.75) scale(1 1.17) translate(0 6.75)" x="-51.56 -32.81 -14.06 4.69" class="m" font-size="18.75" fill="#4a4a4a">库存天数</text><text transform="translate(876.5 918.75) scale(1 1.17) translate(0 6.75) scale(0.85 1)" x="22.06" class="m" font-size="18.75" fill="#4a4a4a">:</text><text transform="translate(876.5 918.75) scale(1 1.17) translate(0 6.75)" x="32.81 51.56" class="m" font-size="18.75" fill="#4a4a4a">纱线</text>
<line x1="716.25" y1="956.25" x2="1082.5" y2="956.25" stroke="#d6d6d6" stroke-width="1.5"/>
<line x1="716.25" y1="982.03" x2="1082.5" y2="982.03" stroke="#d6d6d6" stroke-width="1.5"/>
<line x1="716.25" y1="1007.81" x2="1082.5" y2="1007.81" stroke="#d6d6d6" stroke-width="1.5"/>
<line x1="716.25" y1="1033.59" x2="1082.5" y2="1033.59" stroke="#d6d6d6" stroke-width="1.5"/>
<line x1="716.25" y1="1059.37" x2="1082.5" y2="1059.37" stroke="#d6d6d6" stroke-width="1.5"/>
<line x1="716.25" y1="1085.15" x2="1082.5" y2="1085.15" stroke="#d6d6d6" stroke-width="1.5"/>
<line x1="716.25" y1="1110.93" x2="1082.5" y2="1110.93" stroke="#d6d6d6" stroke-width="1.5"/>
<line x1="716.25" y1="1136.71" x2="1082.5" y2="1136.71" stroke="#d6d6d6" stroke-width="1.5"/>
<line x1="716.25" y1="1162.49" x2="1082.5" y2="1162.49" stroke="#d6d6d6" stroke-width="1.5"/>
<line x1="716.25" y1="1188.27" x2="1082.5" y2="1188.27" stroke="#d6d6d6" stroke-width="1.5"/>
<line x1="716.25" y1="1214.05" x2="1082.5" y2="1214.05" stroke="#d6d6d6" stroke-width="1.5"/>
<line x1="716.25" y1="1239.83" x2="1082.5" y2="1239.83" stroke="#d6d6d6" stroke-width="1.5"/>
<text transform="translate(705.5 961.85) scale(0.72 1)" x="-42.81 -33.3 -25.5 -14.27 -4.76" class="m" font-size="17.3" fill="#383838">60.00</text>
<text transform="translate(705.5 987.63) scale(0.72 1)" x="-42.81 -33.3 -25.5 -14.27 -4.76" class="m" font-size="17.3" fill="#383838">50.00</text>
<text transform="translate(705.5 1013.41) scale(0.72 1)" x="-42.81 -33.3 -25.5 -14.27 -4.76" class="m" font-size="17.3" fill="#383838">40.00</text>
<text transform="translate(705.5 1039.19) scale(0.72 1)" x="-42.81 -33.3 -25.5 -14.27 -4.76" class="m" font-size="17.3" fill="#383838">30.00</text>
<text transform="translate(705.5 1064.97) scale(0.72 1)" x="-42.81 -33.3 -25.5 -14.27 -4.76" class="m" font-size="17.3" fill="#383838">20.00</text>
<text transform="translate(705.5 1090.75) scale(0.72 1)" x="-42.81 -33.3 -25.5 -14.27 -4.76" class="m" font-size="17.3" fill="#383838">10.00</text>
<text transform="translate(705.5 1116.53) scale(0.72 1)" x="-33.3 -25.5 -14.27 -4.76" class="m" font-size="17.3" fill="#383838">0.00</text>
<text transform="translate(705.5 1142.31) scale(1.3 1)" x="-29.07" class="m" font-size="17.3" fill="#383838">-</text><text transform="translate(705.5 1142.31) scale(0.72 1)" x="-42.81 -33.3 -25.5 -14.27 -4.76" class="m" font-size="17.3" fill="#383838">10.00</text>
<text transform="translate(705.5 1168.09) scale(1.3 1)" x="-29.07" class="m" font-size="17.3" fill="#383838">-</text><text transform="translate(705.5 1168.09) scale(0.72 1)" x="-42.81 -33.3 -25.5 -14.27 -4.76" class="m" font-size="17.3" fill="#383838">20.00</text>
<text transform="translate(705.5 1193.87) scale(1.3 1)" x="-29.07" class="m" font-size="17.3" fill="#383838">-</text><text transform="translate(705.5 1193.87) scale(0.72 1)" x="-42.81 -33.3 -25.5 -14.27 -4.76" class="m" font-size="17.3" fill="#383838">30.00</text>
<text transform="translate(705.5 1219.65) scale(1.3 1)" x="-29.07" class="m" font-size="17.3" fill="#383838">-</text><text transform="translate(705.5 1219.65) scale(0.72 1)" x="-42.81 -33.3 -25.5 -14.27 -4.76" class="m" font-size="17.3" fill="#383838">40.00</text>
<text transform="translate(705.5 1245.43) scale(1.3 1)" x="-29.07" class="m" font-size="17.3" fill="#383838">-</text><text transform="translate(705.5 1245.43) scale(0.72 1)" x="-42.81 -33.3 -25.5 -14.27 -4.76" class="m" font-size="17.3" fill="#383838">50.00</text>
<polygon points="717.04,1110.9 717.04,992.18 718.55,992.18 718.55,1110.9" fill="#203a54" />
<polygon points="728.13,1110.9 728.13,1109.62 730.15,1104.58 731.15,1104.58 731.66,1105.58 732.67,1106.09 733.37,1104.58 734.68,1104.58 734.98,1109.62 736.19,1109.62 737.2,1107.6 738.71,1107.1 740.73,1104.07 741.74,1100.04 742.24,1093.19 743.75,1093.19 744.26,1097.02 745.77,1098.53 747.28,1098.02 749.3,1097.52 750.31,1091.98 751.82,1091.47 752.32,1095 753.83,1095 755.35,1094.5 755.55,1091.47 757.87,1091.47 758.37,1095 759.38,1098.53 760.39,1099.54 761.4,1098.02 763.41,1098.02 764.92,1101.05 765.63,1103.06 766.94,1096.01 768.45,1095.5 769.96,1092.48 771.48,1088.45 772.99,1086.43 774.5,1089.46 775.51,1090.46 776.52,1096.01 778.03,1089.46 779.54,1088.95 780.55,1089.96 782.56,1086.43 784.08,1081.39 784.58,1070.81 784.78,1044.6 786.4,1044.6 786.6,1071.31 788.11,1072.82 789.12,1075.34 790.12,1075.34 791.13,1071.81 792.65,1071.81 793.15,1076.85 794.66,1078.37 796.68,1079.38 799.2,1081.39 800.21,1079.38 800.91,1070.81 802.22,1070.3 803.23,1071.81 804.74,1069.8 806.25,1067.78 807.77,1065.77 808.77,1061.23 809.58,1042.58 809.98,995.2 811.8,995.2 812,1075.85 812.81,1079.38 814.32,1083.41 816.33,1085.42 817.85,1088.45 818.35,1090.46 819.86,1086.94 821.38,1086.43 822.89,1084.92 823.39,1081.9 825.41,1080.38 826.92,1083.41 827.73,1067.78 829.44,1065.26 830,1062.74 831.51,1057.7 833.02,1055.69 835.04,1053.67 835.54,1030.48 837.06,1030.48 837.26,1055.69 838.57,1054.17 839.58,1054.68 840.58,1059.72 841.59,1060.22 842.6,1057.7 844.11,1056.69 845.12,1048.63 846.63,1047.62 848.15,1049.13 850.16,1050.65 851.67,1051.15 852.38,1008.31 853.99,1008.31 854.4,1030.48 854.7,1066.77 856.21,1069.8 858.73,1070.3 859.74,1072.82 860.24,1079.38 861.45,1079.38 862.06,1069.8 863.77,1064.76 865.28,1062.24 866.79,1060.73 867.3,1053.67 868.1,1047.12 869.52,1047.12 870.12,1053.67 870.52,1068.79 872.34,1069.29 873.85,1071.81 875.36,1078.87 876.37,1085.93 877.38,1095 877.88,1095 878.19,1050.14 879.6,1050.14 879.9,1090.97 880.91,1089.96 882.42,1084.92 884.44,1081.39 885.95,1081.39 886.96,1083.91 887.26,1067.78 888.97,1065.77 890.99,1065.26 893,1062.74 893.71,1059.21 895.02,1059.21 895.32,1078.87 896.33,1073.33 897.74,1073.83 899.05,1076.85 900.06,1085.93 901.07,1099.03 902.08,1099.03 902.78,1062.74 904.4,1062.74 904.6,1110.12 904.6,1110.9" fill="#203a54" />
<polygon points="908.12,1110.9 908.12,1110.12 908.63,1104.07 909.64,1099.03 911.15,1097.02 912.16,1092.98 913.67,1087.44 915.69,1086.43 916.9,1081.9 918.21,1079.88 918.51,1075.34 919.52,1075.34 919.92,1080.89 921.23,1081.9 921.53,1110.12 921.53,1110.9" fill="#203a54" />
<polygon points="928.29,1110.9 928.29,1110.12 928.79,1089.96 930,1089.96 930.81,1096.01 932.32,1102.06 933.33,1107.1 934.84,1108.61 935.85,1104.58 937.36,1104.58 937.66,1110.12 937.66,1110.9" fill="#203a54" />
<polygon points="940.38,1110.9 940.38,1110.12 940.89,1105.08 941.9,1103.06 944.92,1103.06 945.22,1053.67 946.73,1053.67 946.94,1106.59 948.45,1105.58 949.96,1104.58 951.47,1101.05 952.48,1099.03 952.98,1071.81 954.5,1071.81 954.8,1088.95 954.8,1110.9" fill="#203a54" />
<polygon points="944.06,1110.9 944.06,1105.24 945,1053.79 946.75,1053.79 946.99,1105.24 948.51,1106.41 950.26,1104.07 952.02,1100.56 952.95,1098.23 953.19,1071.33 954.59,1071.33 954.82,1088.87 955.76,1090.04 956.46,1105.24 956.93,1109.92 956.93,1110.9" fill="#203a54" />
<polygon points="962.31,1110.9 962.31,1109.92 962.77,1101.73 964.29,1092.38 965.46,1082.44 966.63,1082.44 967.8,1087.7 969.56,1092.38 970.49,1091.21 970.73,1053.56 972.13,1053.56 972.36,1109.92 972.36,1110.9" fill="#203a54" />
<polygon points="975.17,1110.9 975.17,1109.92 975.99,1105.24 977.74,1098.23 979.5,1098.23 980.67,1101.73 981.83,1109.92 981.83,1110.9" fill="#203a54" />
<polygon points="718.2,1112.84 727.11,1112.84 727.11,1213.38 725.33,1213.38 724.62,1178.44 723.55,1159.18 720.7,1142.78 718.56,1123.53" fill="#203a54" />
<polygon points="818.65,1110.9 818.65,1129.27 820.06,1129.27 820.06,1110.9" fill="#203a54" />
<polygon points="904.09,1110.9 904.09,1118.19 907.12,1118.19 907.12,1110.9" fill="#203a54" />
<polygon points="911.15,1110.9 911.15,1121.21 912.66,1121.21 912.66,1110.9" fill="#203a54" />
<polygon points="921.94,1110.9 921.94,1115.67 924.76,1135.32 929.29,1136.33 929.29,1115.67 929.29,1110.9" fill="#203a54" />
<polygon points="936.35,1110.9 936.35,1140.36 938.67,1140.36 938.67,1110.9" fill="#203a54" />
<polygon points="944.42,1110.9 944.42,1135.32 945.93,1135.32 945.93,1110.9" fill="#203a54" />
<polygon points="956.69,1110.9 956.69,1115.77 959.62,1121.61 961.84,1128.63 961.96,1151.43 963.83,1151.43 963.94,1115.77 963.94,1110.9" fill="#203a54" />
<polygon points="971.31,1110.9 971.31,1115.77 972.48,1121.61 974.82,1115.77 974.82,1110.9" fill="#203a54" />
<polygon points="983,1110.9 983,1115.77 985.93,1123.95 987.1,1128.63 988.27,1121.61 988.5,1115.77 988.5,1110.9" fill="#203a54" />
<path d="M988.85 1110.93V1056.13 M992.71 1110.93V1053.56 M996.45 1110.93V1055.19 M999.96 1110.93V1055.19 M1004.4 1110.93V1054.38 M1006.98 1110.93V1053.56 M1010.48 1110.93V1048.53 M1013.99 1110.93V1057.88 M1017.27 1110.93V1057.06 M1019.49 1110.93V1056.13 M1024.17 1110.93V1056.36 M1026.85 1110.93V1059.05 M1030.01 1110.93V1057.53 M1034.46 1110.93V1054.38 M1037.15 1110.93V1050.28 M1040.89 1110.93V1058.47 M1044.16 1110.93V1059.05 M1046.97 1110.93V1059.05 M1051.41 1110.93V1059.05 M1054.69 1110.93V1056.95 M1058.43 1110.93V1056.13 M1061 1110.93V1054.38 M1064.51 1110.93V1052.85 M1066.38 1110.93V1051.22 M1070.35 1110.93V1050.28 M1073.63 1110.93V1061.04 M1077.49 1110.93V1062.56 M1081.23 1110.93V1066.65" stroke="#203a54" stroke-width="1.7" fill="none" opacity="1"/>
<rect x="715.75" y="1110" width="367.25" height="5.6" fill="#d6d6d6"/>
<text transform="translate(722.21 1121.1) rotate(-90) scale(1.3 1)" font-size="12.4" fill="#6b6b6b" text-anchor="end" font-family='"Liberation Serif","Noto Serif CJK SC",serif'>单位</text>
<text transform="translate(736.59 1120.6) rotate(-90) translate(0 0) scale(1.19 1)" x="-46.15 -39.05 -31.95 -24.85" class="m" font-size="14.2" fill="#3d3d3d">2019</text><text transform="translate(736.59 1120.6) rotate(-90) translate(0 0) scale(1.72 1)" x="-12.24" class="m" font-size="14.2" fill="#3d3d3d">-</text><text transform="translate(736.59 1120.6) rotate(-90) translate(0 0) scale(1.19 1)" x="-10.65 -3.55" class="m" font-size="14.2" fill="#3d3d3d">06</text>
<text transform="translate(751.34 1120.6) rotate(-90) translate(0 0) scale(1.19 1)" x="-46.15 -39.05 -31.95 -24.85" class="m" font-size="14.2" fill="#3d3d3d">2017</text><text transform="translate(751.34 1120.6) rotate(-90) translate(0 0) scale(1.72 1)" x="-12.24" class="m" font-size="14.2" fill="#3d3d3d">-</text><text transform="translate(751.34 1120.6) rotate(-90) translate(0 0) scale(1.19 1)" x="-10.65 -3.55" class="m" font-size="14.2" fill="#3d3d3d">09</text>
<text transform="translate(766.09 1120.6) rotate(-90) translate(0 0) scale(1.19 1)" x="-46.15 -39.05 -31.95 -24.85" class="m" font-size="14.2" fill="#3d3d3d">2015</text><text transform="translate(766.09 1120.6) rotate(-90) translate(0 0) scale(1.72 1)" x="-12.24" class="m" font-size="14.2" fill="#3d3d3d">-</text><text transform="translate(766.09 1120.6) rotate(-90) translate(0 0) scale(1.19 1)" x="-10.65 -3.55" class="m" font-size="14.2" fill="#3d3d3d">12</text>
<text transform="translate(780.84 1120.6) rotate(-90) translate(0 0) scale(1.19 1)" x="-46.15 -39.05 -31.95 -24.85" class="m" font-size="14.2" fill="#3d3d3d">2014</text><text transform="translate(780.84 1120.6) rotate(-90) translate(0 0) scale(1.72 1)" x="-12.24" class="m" font-size="14.2" fill="#3d3d3d">-</text><text transform="translate(780.84 1120.6) rotate(-90) translate(0 0) scale(1.19 1)" x="-10.65 -3.55" class="m" font-size="14.2" fill="#3d3d3d">03</text>
<text transform="translate(795.59 1120.6) rotate(-90) translate(0 0) scale(1.19 1)" x="-46.15 -39.05 -31.95 -24.85" class="m" font-size="14.2" fill="#3d3d3d">2012</text><text transform="translate(795.59 1120.6) rotate(-90) translate(0 0) scale(1.72 1)" x="-12.24" class="m" font-size="14.2" fill="#3d3d3d">-</text><text transform="translate(795.59 1120.6) rotate(-90) translate(0 0) scale(1.19 1)" x="-10.65 -3.55" class="m" font-size="14.2" fill="#3d3d3d">06</text>
<text transform="translate(810.34 1120.6) rotate(-90) translate(0 0) scale(1.19 1)" x="-46.15 -39.05 -31.95 -24.85" class="m" font-size="14.2" fill="#3d3d3d">2010</text><text transform="translate(810.34 1120.6) rotate(-90) translate(0 0) scale(1.72 1)" x="-12.24" class="m" font-size="14.2" fill="#3d3d3d">-</text><text transform="translate(810.34 1120.6) rotate(-90) translate(0 0) scale(1.19 1)" x="-10.65 -3.55" class="m" font-size="14.2" fill="#3d3d3d">09</text>
<text transform="translate(825.09 1120.6) rotate(-90) translate(0 0) scale(1.19 1)" x="-46.15 -39.05 -31.95 -24.85" class="m" font-size="14.2" fill="#3d3d3d">2008</text><text transform="translate(825.09 1120.6) rotate(-90) translate(0 0) scale(1.72 1)" x="-12.24" class="m" font-size="14.2" fill="#3d3d3d">-</text><text transform="translate(825.09 1120.6) rotate(-90) translate(0 0) scale(1.19 1)" x="-10.65 -3.55" class="m" font-size="14.2" fill="#3d3d3d">12</text>
<text transform="translate(839.84 1120.6) rotate(-90) translate(0 0) scale(1.19 1)" x="-46.15 -39.05 -31.95 -24.85" class="m" font-size="14.2" fill="#3d3d3d">2007</text><text transform="translate(839.84 1120.6) rotate(-90) translate(0 0) scale(1.72 1)" x="-12.24" class="m" font-size="14.2" fill="#3d3d3d">-</text><text transform="translate(839.84 1120.6) rotate(-90) translate(0 0) scale(1.19 1)" x="-10.65 -3.55" class="m" font-size="14.2" fill="#3d3d3d">03</text>
<text transform="translate(854.59 1120.6) rotate(-90) translate(0 0) scale(1.19 1)" x="-46.15 -39.05 -31.95 -24.85" class="m" font-size="14.2" fill="#3d3d3d">2005</text><text transform="translate(854.59 1120.6) rotate(-90) translate(0 0) scale(1.72 1)" x="-12.24" class="m" font-size="14.2" fill="#3d3d3d">-</text><text transform="translate(854.59 1120.6) rotate(-90) translate(0 0) scale(1.19 1)" x="-10.65 -3.55" class="m" font-size="14.2" fill="#3d3d3d">06</text>
<text transform="translate(869.34 1120.6) rotate(-90) translate(0 0) scale(1.19 1)" x="-46.15 -39.05 -31.95 -24.85" class="m" font-size="14.2" fill="#3d3d3d">2003</text><text transform="translate(869.34 1120.6) rotate(-90) translate(0 0) scale(1.72 1)" x="-12.24" class="m" font-size="14.2" fill="#3d3d3d">-</text><text transform="translate(869.34 1120.6) rotate(-90) translate(0 0) scale(1.19 1)" x="-10.65 -3.55" class="m" font-size="14.2" fill="#3d3d3d">09</text>
<text transform="translate(884.09 1120.6) rotate(-90) translate(0 0) scale(1.19 1)" x="-46.15 -39.05 -31.95 -24.85" class="m" font-size="14.2" fill="#3d3d3d">2001</text><text transform="translate(884.09 1120.6) rotate(-90) translate(0 0) scale(1.72 1)" x="-12.24" class="m" font-size="14.2" fill="#3d3d3d">-</text><text transform="translate(884.09 1120.6) rotate(-90) translate(0 0) scale(1.19 1)" x="-10.65 -3.55" class="m" font-size="14.2" fill="#3d3d3d">12</text>
<text transform="translate(898.84 1120.6) rotate(-90) translate(0 0) scale(1.19 1)" x="-46.15 -39.05 -31.95 -24.85" class="m" font-size="14.2" fill="#3d3d3d">2000</text><text transform="translate(898.84 1120.6) rotate(-90) translate(0 0) scale(1.72 1)" x="-12.24" class="m" font-size="14.2" fill="#3d3d3d">-</text><text transform="translate(898.84 1120.6) rotate(-90) translate(0 0) scale(1.19 1)" x="-10.65 -3.55" class="m" font-size="14.2" fill="#3d3d3d">03</text>
<text transform="translate(913.59 1120.6) rotate(-90) translate(0 0) scale(1.19 1)" x="-46.15 -39.05 -31.95 -24.85" class="m" font-size="14.2" fill="#3d3d3d">1998</text><text transform="translate(913.59 1120.6) rotate(-90) translate(0 0) scale(1.72 1)" x="-12.24" class="m" font-size="14.2" fill="#3d3d3d">-</text><text transform="translate(913.59 1120.6) rotate(-90) translate(0 0) scale(1.19 1)" x="-10.65 -3.55" class="m" font-size="14.2" fill="#3d3d3d">06</text>
<text transform="translate(928.34 1120.6) rotate(-90) translate(0 0) scale(1.19 1)" x="-46.15 -39.05 -31.95 -24.85" class="m" font-size="14.2" fill="#3d3d3d">1996</text><text transform="translate(928.34 1120.6) rotate(-90) translate(0 0) scale(1.72 1)" x="-12.24" class="m" font-size="14.2" fill="#3d3d3d">-</text><text transform="translate(928.34 1120.6) rotate(-90) translate(0 0) scale(1.19 1)" x="-10.65 -3.55" class="m" font-size="14.2" fill="#3d3d3d">09</text>
<text transform="translate(943.09 1120.6) rotate(-90) translate(0 0) scale(1.19 1)" x="-46.15 -39.05 -31.95 -24.85" class="m" font-size="14.2" fill="#3d3d3d">1994</text><text transform="translate(943.09 1120.6) rotate(-90) translate(0 0) scale(1.72 1)" x="-12.24" class="m" font-size="14.2" fill="#3d3d3d">-</text><text transform="translate(943.09 1120.6) rotate(-90) translate(0 0) scale(1.19 1)" x="-10.65 -3.55" class="m" font-size="14.2" fill="#3d3d3d">12</text>
<text transform="translate(957.84 1120.6) rotate(-90) translate(0 0) scale(1.19 1)" x="-46.15 -39.05 -31.95 -24.85" class="m" font-size="14.2" fill="#3d3d3d">1993</text><text transform="translate(957.84 1120.6) rotate(-90) translate(0 0) scale(1.72 1)" x="-12.24" class="m" font-size="14.2" fill="#3d3d3d">-</text><text transform="translate(957.84 1120.6) rotate(-90) translate(0 0) scale(1.19 1)" x="-10.65 -3.55" class="m" font-size="14.2" fill="#3d3d3d">03</text>
<text transform="translate(972.59 1120.6) rotate(-90) translate(0 0) scale(1.19 1)" x="-46.15 -39.05 -31.95 -24.85" class="m" font-size="14.2" fill="#3d3d3d">1991</text><text transform="translate(972.59 1120.6) rotate(-90) translate(0 0) scale(1.72 1)" x="-12.24" class="m" font-size="14.2" fill="#3d3d3d">-</text><text transform="translate(972.59 1120.6) rotate(-90) translate(0 0) scale(1.19 1)" x="-10.65 -3.55" class="m" font-size="14.2" fill="#3d3d3d">06</text>
<text transform="translate(987.34 1120.6) rotate(-90) translate(0 0) scale(1.19 1)" x="-46.15 -39.05 -31.95 -24.85" class="m" font-size="14.2" fill="#3d3d3d">1989</text><text transform="translate(987.34 1120.6) rotate(-90) translate(0 0) scale(1.72 1)" x="-12.24" class="m" font-size="14.2" fill="#3d3d3d">-</text><text transform="translate(987.34 1120.6) rotate(-90) translate(0 0) scale(1.19 1)" x="-10.65 -3.55" class="m" font-size="14.2" fill="#3d3d3d">09</text>
<text transform="translate(1002.09 1120.6) rotate(-90) translate(0 0) scale(1.19 1)" x="-67.45 -60.35 -53.25 -46.15" class="m" font-size="14.2" fill="#3d3d3d">2014</text><text transform="translate(1002.09 1120.6) rotate(-90) translate(0 0) scale(1.72 1)" x="-26.93" class="m" font-size="14.2" fill="#3d3d3d">-</text><text transform="translate(1002.09 1120.6) rotate(-90) translate(0 0) scale(1.19 1)" x="-31.95 -24.85" class="m" font-size="14.2" fill="#3d3d3d">06</text><text transform="translate(1002.09 1120.6) rotate(-90) translate(0 0) scale(1.72 1)" x="-12.24" class="m" font-size="14.2" fill="#3d3d3d">-</text><text transform="translate(1002.09 1120.6) rotate(-90) translate(0 0) scale(1.19 1)" x="-10.65 -3.55" class="m" font-size="14.2" fill="#3d3d3d">27</text>
<text transform="translate(1016.84 1120.6) rotate(-90) translate(0 0) scale(1.19 1)" x="-67.45 -60.35 -53.25 -46.15" class="m" font-size="14.2" fill="#3d3d3d">2014</text><text transform="translate(1016.84 1120.6) rotate(-90) translate(0 0) scale(1.72 1)" x="-26.93" class="m" font-size="14.2" fill="#3d3d3d">-</text><text transform="translate(1016.84 1120.6) rotate(-90) translate(0 0) scale(1.19 1)" x="-31.95 -24.85" class="m" font-size="14.2" fill="#3d3d3d">02</text><text transform="translate(1016.84 1120.6) rotate(-90) translate(0 0) scale(1.72 1)" x="-12.24" class="m" font-size="14.2" fill="#3d3d3d">-</text><text transform="translate(1016.84 1120.6) rotate(-90) translate(0 0) scale(1.19 1)" x="-10.65 -3.55" class="m" font-size="14.2" fill="#3d3d3d">14</text>
<text transform="translate(1031.59 1120.6) rotate(-90) translate(0 0) scale(1.19 1)" x="-67.45 -60.35 -53.25 -46.15" class="m" font-size="14.2" fill="#3d3d3d">2013</text><text transform="translate(1031.59 1120.6) rotate(-90) translate(0 0) scale(1.72 1)" x="-26.93" class="m" font-size="14.2" fill="#3d3d3d">-</text><text transform="translate(1031.59 1120.6) rotate(-90) translate(0 0) scale(1.19 1)" x="-31.95 -24.85" class="m" font-size="14.2" fill="#3d3d3d">09</text><text transform="translate(1031.59 1120.6) rotate(-90) translate(0 0) scale(1.72 1)" x="-12.24" class="m" font-size="14.2" fill="#3d3d3d">-</text><text transform="translate(1031.59 1120.6) rotate(-90) translate(0 0) scale(1.19 1)" x="-10.65 -3.55" class="m" font-size="14.2" fill="#3d3d3d">30</text>
<text transform="translate(1046.34 1120.6) rotate(-90) translate(0 0) scale(1.19 1)" x="-67.45 -60.35 -53.25 -46.15" class="m" font-size="14.2" fill="#3d3d3d">2013</text><text transform="translate(1046.34 1120.6) rotate(-90) translate(0 0) scale(1.72 1)" x="-26.93" class="m" font-size="14.2" fill="#3d3d3d">-</text><text transform="translate(1046.34 1120.6) rotate(-90) translate(0 0) scale(1.19 1)" x="-31.95 -24.85" class="m" font-size="14.2" fill="#3d3d3d">05</text><text transform="translate(1046.34 1120.6) rotate(-90) translate(0 0) scale(1.72 1)" x="-12.24" class="m" font-size="14.2" fill="#3d3d3d">-</text><text transform="translate(1046.34 1120.6) rotate(-90) translate(0 0) scale(1.19 1)" x="-10.65 -3.55" class="m" font-size="14.2" fill="#3d3d3d">24</text>
<text transform="translate(1061.09 1120.6) rotate(-90) translate(0 0) scale(1.19 1)" x="-67.45 -60.35 -53.25 -46.15" class="m" font-size="14.2" fill="#3d3d3d">2013</text><text transform="translate(1061.09 1120.6) rotate(-90) translate(0 0) scale(1.72 1)" x="-26.93" class="m" font-size="14.2" fill="#3d3d3d">-</text><text transform="translate(1061.09 1120.6) rotate(-90) translate(0 0) scale(1.19 1)" x="-31.95 -24.85" class="m" font-size="14.2" fill="#3d3d3d">01</text><text transform="translate(1061.09 1120.6) rotate(-90) translate(0 0) scale(1.72 1)" x="-12.24" class="m" font-size="14.2" fill="#3d3d3d">-</text><text transform="translate(1061.09 1120.6) rotate(-90) translate(0 0) scale(1.19 1)" x="-10.65 -3.55" class="m" font-size="14.2" fill="#3d3d3d">18</text>
<text transform="translate(1075.84 1120.6) rotate(-90) translate(0 0) scale(1.19 1)" x="-67.45 -60.35 -53.25 -46.15" class="m" font-size="14.2" fill="#3d3d3d">2012</text><text transform="translate(1075.84 1120.6) rotate(-90) translate(0 0) scale(1.72 1)" x="-26.93" class="m" font-size="14.2" fill="#3d3d3d">-</text><text transform="translate(1075.84 1120.6) rotate(-90) translate(0 0) scale(1.19 1)" x="-31.95 -24.85" class="m" font-size="14.2" fill="#3d3d3d">08</text><text transform="translate(1075.84 1120.6) rotate(-90) translate(0 0) scale(1.72 1)" x="-12.24" class="m" font-size="14.2" fill="#3d3d3d">-</text><text transform="translate(1075.84 1120.6) rotate(-90) translate(0 0) scale(1.19 1)" x="-10.65 -3.55" class="m" font-size="14.2" fill="#3d3d3d">24</text>
</g>
<g id="c7">
<text transform="translate(363.3 1309.2) scale(1 1.17) translate(0 6.91)" x="-57.6 -38.4 -19.2 -0 19.2 38.4 57.6" class="m" font-size="19.2" fill="#4a4a4a" font-weight="500">棉花季节性分析</text>
<line x1="228.75" y1="1365.3" x2="568.4" y2="1365.3" stroke="#d9d9d9" stroke-width="1.2"/>
<line x1="228.75" y1="1403.15" x2="568.4" y2="1403.15" stroke="#d9d9d9" stroke-width="1.2"/>
<line x1="228.75" y1="1441" x2="568.4" y2="1441" stroke="#d9d9d9" stroke-width="1.2"/>
<line x1="228.75" y1="1478.85" x2="568.4" y2="1478.85" stroke="#d9d9d9" stroke-width="1.2"/>
<line x1="228.75" y1="1516.7" x2="568.4" y2="1516.7" stroke="#d9d9d9" stroke-width="1.2"/>
<line x1="228.75" y1="1554.55" x2="568.4" y2="1554.55" stroke="#d9d9d9" stroke-width="1.2"/>
<text transform="translate(218.8 1371.3) scale(0.64 1)" x="-100.08 -90.55 -82.73 -71.48 -61.95 -52.42 -44.61 -33.36 -23.83 -14.3 -4.77" class="m" font-size="16.5" fill="#7f7f7f">19,000.0000</text>
<text transform="translate(218.8 1409.15) scale(0.64 1)" x="-100.08 -90.55 -82.73 -71.48 -61.95 -52.42 -44.61 -33.36 -23.83 -14.3 -4.77" class="m" font-size="16.5" fill="#7f7f7f">17,000.0000</text>
<text transform="translate(218.8 1447) scale(0.64 1)" x="-100.08 -90.55 -82.73 -71.48 -61.95 -52.42 -44.61 -33.36 -23.83 -14.3 -4.77" class="m" font-size="16.5" fill="#7f7f7f">15,000.0000</text>
<text transform="translate(218.8 1484.85) scale(0.64 1)" x="-100.08 -90.55 -82.73 -71.48 -61.95 -52.42 -44.61 -33.36 -23.83 -14.3 -4.77" class="m" font-size="16.5" fill="#7f7f7f">13,000.0000</text>
<text transform="translate(218.8 1522.7) scale(0.64 1)" x="-100.08 -90.55 -82.73 -71.48 -61.95 -52.42 -44.61 -33.36 -23.83 -14.3 -4.77" class="m" font-size="16.5" fill="#7f7f7f">11,000.0000</text>
<text transform="translate(218.8 1560.55) scale(0.64 1)" x="-90.55 -82.73 -71.48 -61.95 -52.42 -44.61 -33.36 -23.83 -14.3 -4.77" class="m" font-size="16.5" fill="#7f7f7f">9,000.0000</text>
<text transform="translate(242.9 1576.75) scale(0.64 1)" x="0" class="m" font-size="16.5" fill="#7f7f7f">1</text>
<text transform="translate(271.21 1576.75) scale(0.64 1)" x="0" class="m" font-size="16.5" fill="#7f7f7f">2</text>
<text transform="translate(299.51 1576.75) scale(0.64 1)" x="0" class="m" font-size="16.5" fill="#7f7f7f">3</text>
<text transform="translate(327.81 1576.75) scale(0.64 1)" x="0" class="m" font-size="16.5" fill="#7f7f7f">4</text>
<text transform="translate(356.12 1576.75) scale(0.64 1)" x="0" class="m" font-size="16.5" fill="#7f7f7f">5</text>
<text transform="translate(384.42 1576.75) scale(0.64 1)" x="0" class="m" font-size="16.5" fill="#7f7f7f">6</text>
<text transform="translate(412.73 1576.75) scale(0.64 1)" x="0" class="m" font-size="16.5" fill="#7f7f7f">7</text>
<text transform="translate(441.03 1576.75) scale(0.64 1)" x="0" class="m" font-size="16.5" fill="#7f7f7f">8</text>
<text transform="translate(469.34 1576.75) scale(0.64 1)" x="0" class="m" font-size="16.5" fill="#7f7f7f">9</text>
<text transform="translate(497.64 1576.75) scale(0.64 1)" x="-4.69 4.69" class="m" font-size="16.5" fill="#7f7f7f">10</text>
<text transform="translate(525.94 1576.75) scale(0.64 1)" x="-4.69 4.69" class="m" font-size="16.5" fill="#7f7f7f">11</text>
<text transform="translate(554.25 1576.75) scale(0.64 1)" x="-4.69 4.69" class="m" font-size="16.5" fill="#7f7f7f">12</text>
<polyline points="242.9,1508.66 271.21,1533.62 299.51,1531.2 327.81,1486.91 356.12,1481.27 384.42,1446.3 412.73,1450.08 441.03,1467.49 469.34,1436.97 497.64,1432.94 525.94,1424.08 554.25,1440.6" fill="none" stroke="#5b9bd5" stroke-width="4.1" stroke-linejoin="round" stroke-linecap="round" />
<polyline points="242.9,1428.7 271.21,1423.21 299.51,1434.57 327.81,1424.91 356.12,1433.24 384.42,1441.95 412.73,1448 441.03,1436.27 469.34,1438.58 497.64,1441 525.94,1435.36 554.25,1441.81" fill="none" stroke="#ed7d31" stroke-width="4.1" stroke-linejoin="round" stroke-linecap="round" />
<polyline points="242.9,1437.03 271.21,1436.84 299.51,1435.13 327.81,1433.75 356.12,1372.3 384.42,1408.26 412.73,1400.31 441.03,1409.02 469.34,1427.71 497.64,1443.01 525.94,1438.18 554.25,1442.61" fill="none" stroke="#a5a5a5" stroke-width="4.1" stroke-linejoin="round" stroke-linecap="round" />
<polyline points="242.9,1436.08 271.21,1436.74 299.51,1440.05 327.81,1430.5 356.12,1469.39 384.42,1465.22 412.73,1476.03 441.03,1487.71 469.34,1497.38 497.64,1475.24 525.94,1473.61 554.25,1459.53" fill="none" stroke="#f9be10" stroke-width="4.1" stroke-linejoin="round" stroke-linecap="round" />
<polyline points="242.9,1470.39 271.21,1495.35 299.51,1524.35 327.81,1503.81 356.12,1507.45 384.42,1503.41 412.73,1497.77 441.03,1476.43 469.34,1482.46 497.64,1449.86 525.94,1449.06 554.25,1439.79" fill="none" stroke="#4472c4" stroke-width="4.1" stroke-linejoin="round" stroke-linecap="round" />
<polyline points="242.9,1445.54 271.21,1417.53 299.51,1446.3" fill="none" stroke="#70ad47" stroke-width="4.1" stroke-linejoin="round" stroke-linecap="round" />
<line x1="264.7" y1="1602.95" x2="289.2" y2="1602.95" stroke="#5b9bd5" stroke-width="4.2" stroke-linecap="round"/>
<text transform="translate(292.7 1608.55) scale(0.64 1)" x="4.88 14.65 24.41 34.18" class="m" font-size="16.5" fill="#7f7f7f">2016</text><text transform="translate(292.7 1608.55)" x="31.25" class="m" font-size="12.8" fill="#8c8c8c">年</text>
<line x1="333.95" y1="1602.95" x2="358.45" y2="1602.95" stroke="#ed7d31" stroke-width="4.2" stroke-linecap="round"/>
<text transform="translate(361.95 1608.55) scale(0.64 1)" x="4.88 14.65 24.41 34.18" class="m" font-size="16.5" fill="#7f7f7f">2017</text><text transform="translate(361.95 1608.55)" x="31.25" class="m" font-size="12.8" fill="#8c8c8c">年</text>
<line x1="403.2" y1="1602.95" x2="427.7" y2="1602.95" stroke="#a5a5a5" stroke-width="4.2" stroke-linecap="round"/>
<text transform="translate(431.2 1608.55) scale(0.64 1)" x="4.88 14.65 24.41 34.18" class="m" font-size="16.5" fill="#7f7f7f">2018</text><text transform="translate(431.2 1608.55)" x="31.25" class="m" font-size="12.8" fill="#8c8c8c">年</text>
<line x1="264.7" y1="1628.45" x2="289.2" y2="1628.45" stroke="#f9be10" stroke-width="4.2" stroke-linecap="round"/>
<text transform="translate(292.7 1634.05) scale(0.64 1)" x="4.88 14.65 24.41 34.18" class="m" font-size="16.5" fill="#7f7f7f">2019</text><text transform="translate(292.7 1634.05)" x="31.25" class="m" font-size="12.8" fill="#8c8c8c">年</text>
<line x1="333.95" y1="1628.45" x2="358.45" y2="1628.45" stroke="#4472c4" stroke-width="4.2" stroke-linecap="round"/>
<text transform="translate(361.95 1634.05) scale(0.64 1)" x="4.88 14.65 24.41 34.18" class="m" font-size="16.5" fill="#7f7f7f">2020</text><text transform="translate(361.95 1634.05)" x="31.25" class="m" font-size="12.8" fill="#8c8c8c">年</text>
<line x1="403.2" y1="1628.45" x2="427.7" y2="1628.45" stroke="#70ad47" stroke-width="4.2" stroke-linecap="round"/>
<text transform="translate(431.2 1634.05) scale(0.64 1)" x="4.88 14.65 24.41 34.18" class="m" font-size="16.5" fill="#7f7f7f">2021</text><text transform="translate(431.2 1634.05)" x="31.25" class="m" font-size="12.8" fill="#8c8c8c">年</text>
</g>
<g id="c8">
<text transform="translate(877 1309.2) scale(1 1.17) translate(0 6.91)" x="-38.4 -19.2 -0 19.2 38.4" class="m" font-size="19.2" fill="#4a4a4a">棉花波动率</text>
<line x1="829" y1="1321.63" x2="925" y2="1321.63" stroke="#4a4a4a" stroke-width="1.1"/>
<text transform="translate(704.5 1352.9) scale(0.64 1)" x="-32.81 -25.12 -14.06 -4.69" class="m" font-size="16.5" fill="#7f7f7f">0.25</text>
<text transform="translate(704.5 1396.25) scale(0.64 1)" x="-23.44 -15.75 -4.69" class="m" font-size="16.5" fill="#7f7f7f">0.2</text>
<text transform="translate(704.5 1439.6) scale(0.64 1)" x="-32.81 -25.12 -14.06 -4.69" class="m" font-size="16.5" fill="#7f7f7f">0.15</text>
<text transform="translate(704.5 1482.95) scale(0.64 1)" x="-23.44 -15.75 -4.69" class="m" font-size="16.5" fill="#7f7f7f">0.1</text>
<text transform="translate(704.5 1526.3) scale(0.64 1)" x="-32.81 -25.12 -14.06 -4.69" class="m" font-size="16.5" fill="#7f7f7f">0.05</text>
<text transform="translate(704.5 1569.65) scale(0.64 1)" x="-4.69" class="m" font-size="16.5" fill="#7f7f7f">0</text>
<line x1="714.5" y1="1563.25" x2="1073.8" y2="1563.25" stroke="#d9d9d9" stroke-width="1.2"/>
<text transform="translate(717 1583.55) scale(0.84 1) rotate(-45) translate(0 0) scale(0.75 1)" x="-93.73 -83.87 -74 -64.13" class="m" font-size="16" fill="#7f7f7f">2011</text><text transform="translate(717 1583.55) scale(0.84 1) rotate(-45) translate(0 0) scale(1.09 1)" x="-37.43" class="m" font-size="16" fill="#7f7f7f">-</text><text transform="translate(717 1583.55) scale(0.84 1) rotate(-45) translate(0 0) scale(0.75 1)" x="-44.4 -34.53" class="m" font-size="16" fill="#7f7f7f">08</text><text transform="translate(717 1583.55) scale(0.84 1) rotate(-45) translate(0 0) scale(1.09 1)" x="-17.01" class="m" font-size="16" fill="#7f7f7f">-</text><text transform="translate(717 1583.55) scale(0.84 1) rotate(-45) translate(0 0) scale(0.75 1)" x="-14.8 -4.93" class="m" font-size="16" fill="#7f7f7f">01</text>
<text transform="translate(754.15 1583.55) scale(0.84 1) rotate(-45) translate(0 0) scale(0.75 1)" x="-93.73 -83.87 -74 -64.13" class="m" font-size="16" fill="#7f7f7f">2012</text><text transform="translate(754.15 1583.55) scale(0.84 1) rotate(-45) translate(0 0) scale(1.09 1)" x="-37.43" class="m" font-size="16" fill="#7f7f7f">-</text><text transform="translate(754.15 1583.55) scale(0.84 1) rotate(-45) translate(0 0) scale(0.75 1)" x="-44.4 -34.53" class="m" font-size="16" fill="#7f7f7f">08</text><text transform="translate(754.15 1583.55) scale(0.84 1) rotate(-45) translate(0 0) scale(1.09 1)" x="-17.01" class="m" font-size="16" fill="#7f7f7f">-</text><text transform="translate(754.15 1583.55) scale(0.84 1) rotate(-45) translate(0 0) scale(0.75 1)" x="-14.8 -4.93" class="m" font-size="16" fill="#7f7f7f">01</text>
<text transform="translate(791.3 1583.55) scale(0.84 1) rotate(-45) translate(0 0) scale(0.75 1)" x="-93.73 -83.87 -74 -64.13" class="m" font-size="16" fill="#7f7f7f">2013</text><text transform="translate(791.3 1583.55) scale(0.84 1) rotate(-45) translate(0 0) scale(1.09 1)" x="-37.43" class="m" font-size="16" fill="#7f7f7f">-</text><text transform="translate(791.3 1583.55) scale(0.84 1) rotate(-45) translate(0 0) scale(0.75 1)" x="-44.4 -34.53" class="m" font-size="16" fill="#7f7f7f">08</text><text transform="translate(791.3 1583.55) scale(0.84 1) rotate(-45) translate(0 0) scale(1.09 1)" x="-17.01" class="m" font-size="16" fill="#7f7f7f">-</text><text transform="translate(791.3 1583.55) scale(0.84 1) rotate(-45) translate(0 0) scale(0.75 1)" x="-14.8 -4.93" class="m" font-size="16" fill="#7f7f7f">01</text>
<text transform="translate(828.45 1583.55) scale(0.84 1) rotate(-45) translate(0 0) scale(0.75 1)" x="-93.73 -83.87 -74 -64.13" class="m" font-size="16" fill="#7f7f7f">2014</text><text transform="translate(828.45 1583.55) scale(0.84 1) rotate(-45) translate(0 0) scale(1.09 1)" x="-37.43" class="m" font-size="16" fill="#7f7f7f">-</text><text transform="translate(828.45 1583.55) scale(0.84 1) rotate(-45) translate(0 0) scale(0.75 1)" x="-44.4 -34.53" class="m" font-size="16" fill="#7f7f7f">08</text><text transform="translate(828.45 1583.55) scale(0.84 1) rotate(-45) translate(0 0) scale(1.09 1)" x="-17.01" class="m" font-size="16" fill="#7f7f7f">-</text><text transform="translate(828.45 1583.55) scale(0.84 1) rotate(-45) translate(0 0) scale(0.75 1)" x="-14.8 -4.93" class="m" font-size="16" fill="#7f7f7f">01</text>
<text transform="translate(865.6 1583.55) scale(0.84 1) rotate(-45) translate(0 0) scale(0.75 1)" x="-93.73 -83.87 -74 -64.13" class="m" font-size="16" fill="#7f7f7f">2015</text><text transform="translate(865.6 1583.55) scale(0.84 1) rotate(-45) translate(0 0) scale(1.09 1)" x="-37.43" class="m" font-size="16" fill="#7f7f7f">-</text><text transform="translate(865.6 1583.55) scale(0.84 1) rotate(-45) translate(0 0) scale(0.75 1)" x="-44.4 -34.53" class="m" font-size="16" fill="#7f7f7f">08</text><text transform="translate(865.6 1583.55) scale(0.84 1) rotate(-45) translate(0 0) scale(1.09 1)" x="-17.01" class="m" font-size="16" fill="#7f7f7f">-</text><text transform="translate(865.6 1583.55) scale(0.84 1) rotate(-45) translate(0 0) scale(0.75 1)" x="-14.8 -4.93" class="m" font-size="16" fill="#7f7f7f">01</text>
<text transform="translate(902.75 1583.55) scale(0.84 1) rotate(-45) translate(0 0) scale(0.75 1)" x="-93.73 -83.87 -74 -64.13" class="m" font-size="16" fill="#7f7f7f">2016</text><text transform="translate(902.75 1583.55) scale(0.84 1) rotate(-45) translate(0 0) scale(1.09 1)" x="-37.43" class="m" font-size="16" fill="#7f7f7f">-</text><text transform="translate(902.75 1583.55) scale(0.84 1) rotate(-45) translate(0 0) scale(0.75 1)" x="-44.4 -34.53" class="m" font-size="16" fill="#7f7f7f">08</text><text transform="translate(902.75 1583.55) scale(0.84 1) rotate(-45) translate(0 0) scale(1.09 1)" x="-17.01" class="m" font-size="16" fill="#7f7f7f">-</text><text transform="translate(902.75 1583.55) scale(0.84 1) rotate(-45) translate(0 0) scale(0.75 1)" x="-14.8 -4.93" class="m" font-size="16" fill="#7f7f7f">01</text>
<text transform="translate(939.9 1583.55) scale(0.84 1) rotate(-45) translate(0 0) scale(0.75 1)" x="-93.73 -83.87 -74 -64.13" class="m" font-size="16" fill="#7f7f7f">2017</text><text transform="translate(939.9 1583.55) scale(0.84 1) rotate(-45) translate(0 0) scale(1.09 1)" x="-37.43" class="m" font-size="16" fill="#7f7f7f">-</text><text transform="translate(939.9 1583.55) scale(0.84 1) rotate(-45) translate(0 0) scale(0.75 1)" x="-44.4 -34.53" class="m" font-size="16" fill="#7f7f7f">08</text><text transform="translate(939.9 1583.55) scale(0.84 1) rotate(-45) translate(0 0) scale(1.09 1)" x="-17.01" class="m" font-size="16" fill="#7f7f7f">-</text><text transform="translate(939.9 1583.55) scale(0.84 1) rotate(-45) translate(0 0) scale(0.75 1)" x="-14.8 -4.93" class="m" font-size="16" fill="#7f7f7f">01</text>
<text transform="translate(977.05 1583.55) scale(0.84 1) rotate(-45) translate(0 0) scale(0.75 1)" x="-93.73 -83.87 -74 -64.13" class="m" font-size="16" fill="#7f7f7f">2018</text><text transform="translate(977.05 1583.55) scale(0.84 1) rotate(-45) translate(0 0) scale(1.09 1)" x="-37.43" class="m" font-size="16" fill="#7f7f7f">-</text><text transform="translate(977.05 1583.55) scale(0.84 1) rotate(-45) translate(0 0) scale(0.75 1)" x="-44.4 -34.53" class="m" font-size="16" fill="#7f7f7f">08</text><text transform="translate(977.05 1583.55) scale(0.84 1) rotate(-45) translate(0 0) scale(1.09 1)" x="-17.01" class="m" font-size="16" fill="#7f7f7f">-</text><text transform="translate(977.05 1583.55) scale(0.84 1) rotate(-45) translate(0 0) scale(0.75 1)" x="-14.8 -4.93" class="m" font-size="16" fill="#7f7f7f">01</text>
<text transform="translate(1014.2 1583.55) scale(0.84 1) rotate(-45) translate(0 0) scale(0.75 1)" x="-93.73 -83.87 -74 -64.13" class="m" font-size="16" fill="#7f7f7f">2019</text><text transform="translate(1014.2 1583.55) scale(0.84 1) rotate(-45) translate(0 0) scale(1.09 1)" x="-37.43" class="m" font-size="16" fill="#7f7f7f">-</text><text transform="translate(1014.2 1583.55) scale(0.84 1) rotate(-45) translate(0 0) scale(0.75 1)" x="-44.4 -34.53" class="m" font-size="16" fill="#7f7f7f">08</text><text transform="translate(1014.2 1583.55) scale(0.84 1) rotate(-45) translate(0 0) scale(1.09 1)" x="-17.01" class="m" font-size="16" fill="#7f7f7f">-</text><text transform="translate(1014.2 1583.55) scale(0.84 1) rotate(-45) translate(0 0) scale(0.75 1)" x="-14.8 -4.93" class="m" font-size="16" fill="#7f7f7f">01</text>
<text transform="translate(1051.35 1583.55) scale(0.84 1) rotate(-45) translate(0 0) scale(0.75 1)" x="-93.73 -83.87 -74 -64.13" class="m" font-size="16" fill="#7f7f7f">2020</text><text transform="translate(1051.35 1583.55) scale(0.84 1) rotate(-45) translate(0 0) scale(1.09 1)" x="-37.43" class="m" font-size="16" fill="#7f7f7f">-</text><text transform="translate(1051.35 1583.55) scale(0.84 1) rotate(-45) translate(0 0) scale(0.75 1)" x="-44.4 -34.53" class="m" font-size="16" fill="#7f7f7f">08</text><text transform="translate(1051.35 1583.55) scale(0.84 1) rotate(-45) translate(0 0) scale(1.09 1)" x="-17.01" class="m" font-size="16" fill="#7f7f7f">-</text><text transform="translate(1051.35 1583.55) scale(0.84 1) rotate(-45) translate(0 0) scale(0.75 1)" x="-14.8 -4.93" class="m" font-size="16" fill="#7f7f7f">01</text>
<polyline points="714.54,1498.97 714.84,1519.64 715.54,1522.66 716.05,1510.56 717.56,1510.56 717.86,1538.79 719.07,1540.81 721.09,1541.81 723.1,1542.82 724.62,1544.84 725.62,1557.94 726.94,1548.87 728.65,1548.37 729.35,1559.96 731.17,1555.93 733.19,1551.9 735.71,1546.35 737.02,1556.94 738.23,1561.47 740.24,1558.95 742.26,1557.94 743.77,1529.72 745.79,1527.7 746.09,1539.8 747.3,1537.78 748.81,1541.81 750.32,1546.85 751.33,1557.44 752.84,1553.91 754.35,1550.38 756.37,1551.39 757.38,1560.46 760.4,1559.96 761.92,1554.42 764.44,1558.45 764.94,1555.93 767.46,1557.44 769.48,1558.95 770.48,1556.94 772.5,1558.45 774.52,1560.46 775.52,1562.48 777.54,1561.98 779.56,1559.96 781.57,1559.46 783.59,1561.47 786.61,1560.97 789.64,1559.96 790.65,1559.96 792.16,1562.48 793.67,1561.98 794.68,1540.81 797.2,1506.03 798.51,1506.03 798.71,1545.85 799.72,1554.92 801.23,1552.9 802.74,1555.93 804.76,1557.44 805.26,1549.38 806.77,1547.36 808.29,1552.9 809.8,1557.94 811.31,1561.47 812.82,1557.94 814.84,1555.93 816.85,1555.42 819.38,1554.42 820.89,1558.95 821.9,1561.98 823.91,1557.94 825.93,1557.44 827.44,1557.94 827.52,1547.22 829.54,1545.2 831.05,1534.11 833.06,1517.98 834.88,1506.9 835.08,1555.28 836.29,1557.3 837.6,1555.28 837.3,1461.53 838.61,1447.92 840.62,1450.95 841.13,1495.81 841.63,1530.08 843.15,1538.15 844.66,1549.23 846.17,1559.31 848.19,1558.81 849.7,1558.31 850.71,1554.27 852.72,1557.3 854.74,1556.29 856.75,1552.76 858.27,1555.28 860.79,1556.29 861.09,1537.14 863.81,1537.14 864.82,1553.27 866.33,1552.76 867.84,1544.19 869.15,1542.68 871.37,1548.23 873.39,1549.74 875.4,1558.31 877.42,1559.31 879.44,1559.82 879.23,1535.12 881.25,1525.54 882.46,1534.11 884.98,1543.19 885.99,1543.69 886.29,1526.05 887.5,1525.04 890.32,1511.43 891.53,1525.04 893.55,1551.75 895.06,1553.27 896.57,1495.81 897.08,1462.54 898.08,1433.31 899.4,1430.28 900.1,1408.1 901.41,1408.1 902.12,1465.56 902.62,1504.88 902.82,1534.11 904.64,1535.12 905.14,1524.03 906.65,1529.07 908.67,1534.11 910.48,1547.22 910.69,1518.99 913.51,1517.98 913.71,1544.19 915.22,1540.16 916.73,1541.17 917.74,1554.27 918.75,1561.33 920.77,1556.29 921.57,1547.22 922.28,1558.31 924.8,1553.27 926.81,1552.76 928.83,1550.24 930.34,1548.73 931.85,1551.25 933.87,1556.29 935.89,1554.78 937.4,1557.3 938.91,1559.31 940,1556.67 941.63,1557.75 943.25,1560.46 944.88,1557.75 946.5,1556.67 947.59,1559.92 948.67,1554.5 950.3,1557.75 950.84,1543.66 952.46,1543.12 954.63,1544.75 954.96,1557.75 956.26,1559.92 957.56,1562.3 958.97,1559.92 960.59,1557.21 961.14,1550.71 962.76,1549.08 964.93,1536.08 966.55,1524.15 967.64,1521.99 967.96,1499.22 968.4,1463.46 969.48,1461.29 970.56,1464.54 971.43,1499.22 972.3,1531.74 973.06,1551.25 974.47,1549.62 974.68,1557.75 976.31,1554.5 977.93,1561 979.56,1559.92 981.73,1549.08 983.35,1541.49 984.44,1548 986.06,1551.25 987.15,1547.46 988.56,1549.08 988.99,1561 990.4,1557.75 992.57,1548 994.19,1553.42 996.36,1558.84 997.99,1556.13 999.61,1557.75 1001.78,1557.21 1002.17,1557.21 1004.34,1501.39 1005.96,1496.51 1008.13,1536.08 1010.3,1516.57 1010.84,1537.16 1012.79,1532.82 1011.71,1480.8 1013.01,1479.17 1014.09,1461.29 1014.63,1489.47 1016.8,1485.68 1019.51,1530.66 1020.59,1539.33 1021.68,1533.91 1022.76,1550.17 1023.63,1536.08 1024.71,1551.25 1026.55,1552.33 1026.88,1499.22 1028.4,1486.22 1029.81,1486.22 1031.43,1518.73 1033.06,1538.24 1033.6,1460.21 1034.68,1434.19 1035.23,1388.67 1036.63,1388.67 1037.39,1434.19 1037.93,1499.22 1039.56,1506.27 1041.73,1479.17 1042.81,1488.39 1044.44,1475.38 1045.52,1504.64 1047.15,1533.91 1048.23,1524.15 1050.4,1539.33 1052.03,1542.04 1053.11,1538.24 1052.57,1510.06 1053.65,1507.9 1054.73,1513.86 1055.82,1512.23 1056.9,1434.19 1057.99,1385.96 1059.07,1385.96 1060.15,1426.61 1059.4,1529.57 1060.7,1517.11 1061.78,1531.74 1063.41,1519.82 1064.49,1529.03 1065.03,1499.22 1066.33,1498.14 1067.74,1524.15 1069.37,1488.39 1070.99,1445.03 1072.08,1443.95 1073.49,1433.65 1073.7,1463.46" fill="none" stroke="#203a54" stroke-width="3.8" stroke-linejoin="round" stroke-linecap="round" />
</g>
<text transform="translate(188.5 1682)" x="7.6 22.8 38 53.2 68.4" class="m" font-size="15.2" fill="#1a1a1a">数据来源：</text><text transform="translate(188.5 1682) scale(0.8 1)" x="99.75 109.25 118.75 128.25 137.75" class="m" font-size="15.2" fill="#1a1a1a" style="font-family:&quot;Liberation Mono&quot;,monospace">Wind </text><text transform="translate(188.5 1682)" x="121.6 136.8" class="m" font-size="15.2" fill="#1a1a1a">资讯</text>
<text transform="translate(190.5 1712.3)" x="10.33 30.99 51.65 72.31 92.97 113.63 134.29 154.95 175.61 196.27 216.93 237.59 258.25 278.91" class="m" font-size="20.3" fill="#66707f">请务必阅读正文之后的免责声明</text>
</svg>
</body>
</html>
